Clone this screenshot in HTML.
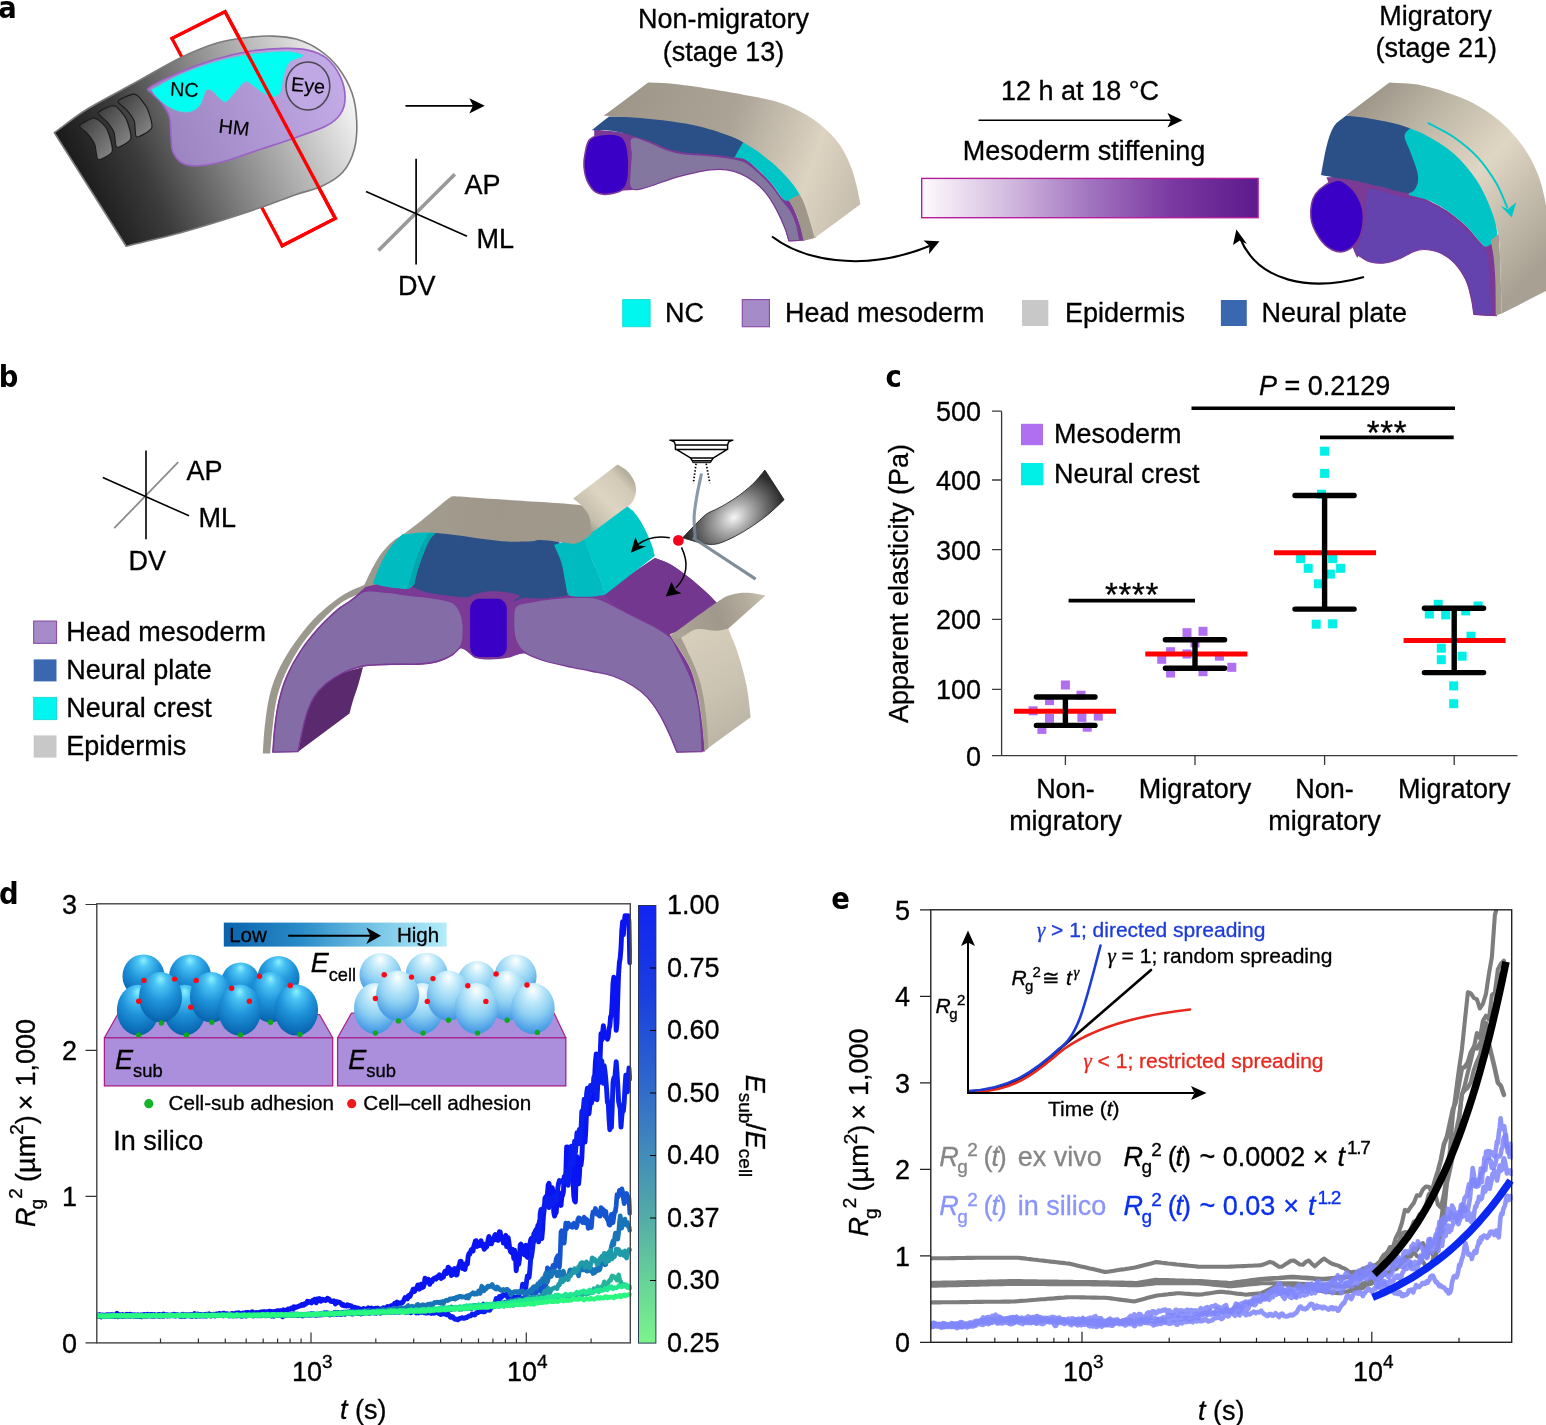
<!DOCTYPE html>
<html lang="en"><head><meta charset="utf-8"><title>Figure</title>
<style>
html,body{margin:0;padding:0;background:#fff;}
svg{display:block;}
text{font-family:"Liberation Sans",sans-serif;stroke:#000;stroke-width:0.32px;}
.pl{stroke:none;}
.t{font-size:27px;}
.s{font-size:21px;}
.pl{font-size:30.5px;font-weight:bold;font-family:"DejaVu Sans Condensed","DejaVu Sans","Liberation Sans",sans-serif;}
.i{font-style:italic;}
</style></head><body>
<svg width="1546" height="1425" viewBox="0 0 1546 1425">
<rect width="1546" height="1425" fill="#fff"/>
<!-- ===== panel a ===== -->
<g id="panel-a">
<text x="-1.8" y="18.2" class="pl">a</text>
<defs>
<linearGradient id="embG" gradientUnits="userSpaceOnUse" x1="85" y1="215" x2="350" y2="95">
<stop offset="0" stop-color="#161616"/><stop offset="0.25" stop-color="#3c3c3c"/><stop offset="0.55" stop-color="#8a8a8a"/><stop offset="0.8" stop-color="#c4c4c4"/><stop offset="1" stop-color="#f4f4f4"/></linearGradient>
<linearGradient id="hmG" gradientUnits="userSpaceOnUse" x1="170" y1="150" x2="345" y2="80">
<stop offset="0" stop-color="#9c84c0"/><stop offset="1" stop-color="#c4ace8"/></linearGradient>
<linearGradient id="somG" x1="0" y1="0" x2="1" y2="1">
<stop offset="0" stop-color="#3a3a3a"/><stop offset="1" stop-color="#8a8a8a"/></linearGradient>
<linearGradient id="stiffG" x1="0" y1="0" x2="1" y2="0">
<stop offset="0" stop-color="#fffafd"/><stop offset="0.25" stop-color="#d4bce0"/><stop offset="0.5" stop-color="#a274c0"/><stop offset="0.75" stop-color="#7a38a0"/><stop offset="1" stop-color="#5c1a8c"/></linearGradient>
<linearGradient id="epiA1" gradientUnits="userSpaceOnUse" x1="610" y1="100" x2="860" y2="190">
<stop offset="0" stop-color="#9c9588"/><stop offset="0.45" stop-color="#aaa396"/><stop offset="0.8" stop-color="#ddd3c1"/><stop offset="1" stop-color="#c6beae"/></linearGradient>
<linearGradient id="epiA2" gradientUnits="userSpaceOnUse" x1="1370" y1="90" x2="1546" y2="260">
<stop offset="0" stop-color="#9c9588"/><stop offset="0.3" stop-color="#c4bcab"/><stop offset="0.55" stop-color="#e0d6c4"/><stop offset="0.8" stop-color="#c0b8a8"/><stop offset="1" stop-color="#a8a092"/></linearGradient>
</defs>
<path d="M172 38.4L225.1 11.6L335.3 218.4L282.2 245.7Z" fill="none" stroke="#ff0000" stroke-width="3.3" stroke-linejoin="miter"/>
<path d="M54.4 132.7C65.2 125.0 73.5 117.6 86.6 109.5C99.7 101.3 117.6 92.4 133.2 83.8C148.7 75.3 165.8 65.0 179.7 58.2C193.7 51.4 205.3 46.6 217.0 43.1C228.6 39.6 240.3 38.4 249.6 37.3C258.9 36.1 265.1 35.8 272.9 36.1C280.6 36.4 288.4 36.8 296.2 39.1C303.9 41.5 312.5 45.3 319.5 50.1C326.4 54.8 332.7 60.4 338.1 67.5C343.5 74.7 349.0 84.2 352.1 93.2C355.2 102.1 356.3 111.8 356.7 121.1C357.1 130.4 356.7 140.5 354.4 149.0C352.1 157.6 348.2 166.1 342.7 172.3C337.3 178.5 329.6 182.6 321.8 186.3C314.0 190.0 306.3 191.0 296.2 194.5C286.1 198.0 272.9 203.2 261.2 207.3C249.6 211.3 239.9 214.6 226.3 218.9C212.7 223.2 196.4 228.3 179.7 232.9C163.0 237.4 144.0 241.7 126.2 246.2C102.3 208.4 78.3 170.5 54.4 132.7Z" fill="url(#embG)" stroke="#7a7a7a" stroke-width="1.6" stroke-linejoin="round"/>
<path d="M79.6 125.8C80.1 123.9 90.2 119.0 92.4 118.3C94.6 117.6 96.5 118.5 98.2 119.9C100.0 121.3 105.9 126.7 107.5 130.4C109.2 134.1 113.3 148.0 112.2 151.4C111.1 154.8 100.3 160.3 98.2 159.5C96.2 158.7 96.0 147.4 94.7 144.4C93.5 141.4 89.5 136.1 87.7 133.9C86.0 131.7 79.0 127.6 79.6 125.8Z" fill="url(#somG)" stroke="#1c1c1c" stroke-width="1.2" stroke-linejoin="round"/>
<path d="M98.2 112.9C98.6 111.0 108.9 106.6 111.0 106.0C113.2 105.3 115.1 105.6 116.9 107.1C118.6 108.6 124.5 115.1 126.2 118.8C127.8 122.4 131.9 135.3 130.8 138.6C129.7 141.9 118.8 147.9 116.9 147.2C114.9 146.5 115.1 135.7 114.1 132.7C113.0 129.8 109.4 124.6 107.5 122.3C105.7 120.0 97.8 114.9 98.2 112.9Z" fill="url(#somG)" stroke="#1c1c1c" stroke-width="1.2" stroke-linejoin="round"/>
<path d="M118.0 101.3C118.6 99.4 129.7 94.9 132.0 94.3C134.3 93.7 136.0 94.3 137.8 95.9C139.6 97.6 145.5 104.6 147.1 108.3C148.8 112.0 153.0 124.3 151.8 127.6C150.6 131.0 138.7 137.7 136.6 136.9C134.6 136.2 135.4 124.2 134.3 121.1C133.2 118.0 129.2 112.9 127.3 110.6C125.4 108.3 117.5 103.2 118.0 101.3Z" fill="url(#somG)" stroke="#1c1c1c" stroke-width="1.2" stroke-linejoin="round"/>
<path d="M149.5 87.3C154.1 83.8 168.9 76.9 179.7 72.2C190.6 67.5 203.0 62.9 214.7 59.4C226.3 55.9 238.0 53.1 249.6 51.2C261.2 49.4 274.8 48.6 284.5 48.4C294.2 48.2 300.8 48.4 307.8 50.1C314.8 51.7 321.0 53.8 326.4 58.2C331.9 62.7 337.3 70.3 340.4 76.9C343.5 83.4 345.1 91.6 345.1 97.8C345.1 104.0 343.5 109.5 340.4 114.1C337.3 118.8 333.8 121.9 326.4 125.8C319.1 129.6 307.0 133.5 296.2 137.4C285.3 141.3 272.9 145.2 261.2 149.0C249.6 152.9 236.8 157.9 226.3 160.7C215.8 163.5 205.7 165.4 198.4 165.8C191.0 166.2 186.3 165.4 182.1 163.0C177.8 160.6 174.6 156.0 172.7 151.4C170.9 146.7 171.5 140.9 170.9 135.1C170.3 129.3 170.9 121.9 169.3 116.4C167.6 111.0 164.0 106.3 161.1 102.5C158.2 98.6 153.7 95.7 151.8 93.2C149.8 90.6 144.8 90.8 149.5 87.3Z" fill="url(#hmG)" stroke="#9a62c4" stroke-width="1.6"/>
<path d="M151.8 89.7C161.1 84.8 169.3 79.6 179.7 75.0C190.2 70.4 203.0 65.6 214.7 62.2C226.3 58.8 238.0 56.2 249.6 54.5C261.2 52.7 276.2 51.8 284.5 51.7C292.9 51.6 296.8 53.2 299.7 54.0C302.6 54.8 303.7 55.2 302.0 56.6C300.2 58.0 292.3 59.0 289.2 62.4C286.1 65.8 284.8 71.9 283.4 76.9C281.9 81.8 281.9 88.7 280.3 92.0C278.8 95.2 276.8 96.2 274.0 96.4C271.3 96.6 266.9 94.9 263.6 93.2C260.3 91.4 257.2 88.1 254.3 86.2C251.3 84.2 248.8 81.1 246.1 81.5C243.4 81.9 241.2 85.2 238.0 88.5C234.7 91.8 229.4 99.8 226.3 101.3C223.2 102.9 221.6 99.6 219.3 97.8C217.0 96.1 214.5 92.2 212.3 90.8C210.2 89.5 208.1 88.5 206.5 89.7C205.0 90.8 204.4 94.9 203.0 97.8C201.7 100.7 200.7 104.8 198.4 107.1C196.0 109.5 192.5 111.2 189.0 111.8C185.6 112.4 181.3 111.8 177.4 110.6C173.5 109.5 169.3 107.1 165.8 104.8C162.3 102.5 158.8 99.2 156.4 96.6C154.1 94.1 153.3 92.0 151.8 89.7Z" fill="#00fff2" stroke="#38e4dc" stroke-width="0.8"/>
<ellipse cx="307.9" cy="86" rx="21.9" ry="24" fill="#bfa8e4" stroke="#4d4852" stroke-width="1.6"/>
<g font-size="19.8" style="stroke-width:0.15px"><text style="stroke-width:0.15px" transform="translate(169.8,95.4) rotate(3.5)">NC</text><text style="stroke-width:0.15px" transform="translate(218,132.4) rotate(6.5)">HM</text><text style="stroke-width:0.15px" transform="translate(290.6,90.8) rotate(5)">Eye</text></g>
<path d="M172 38.4L225.1 11.6L335.3 218.4L282.2 245.7" fill="none" stroke="#ff0000" stroke-width="3.3" stroke-linejoin="miter" stroke-linecap="square"/>
<path d="M405.5 105.8H475" stroke="#000" stroke-width="1.7"/><path d="M484.8 105.8L469.3 98.2L473 105.8L469.3 113.4Z"/>
<path d="M378.5 250.5L454.8 174.2" stroke="#999" stroke-width="3.7"/>
<path d="M416.1 158.7V264.5M366 191.5L467 236.3" stroke="#000" stroke-width="1.7"/>
<g class="t"><text x="464.5" y="194">AP</text><text x="476.5" y="248">ML</text><text x="398" y="295">DV</text></g>
<g class="t" text-anchor="middle"><text x="723.5" y="28">Non-migratory</text><text x="723.5" y="60.5">(stage 13)</text><text x="1435.6" y="24.8">Migratory</text><text x="1436.2" y="57.2">(stage 21)</text><text x="1080" y="100">12 h at 18 °C</text><text x="1084" y="160">Mesoderm stiffening</text></g>
<path d="M978.5 120.3H1172" stroke="#000" stroke-width="1.6"/><path d="M1182.5 120.3L1167.5 113.1L1171 120.3L1167.5 127.5Z"/>
<rect x="921.7" y="178.4" width="336.4" height="39.3" fill="url(#stiffG)" stroke="#b41e9c" stroke-width="1.4"/>
<rect x="622.7" y="299.6" width="27.4" height="27.1" fill="#00f6ee" stroke="#1cdcd8" stroke-width="1"/>
<rect x="742.3" y="299.6" width="27.1" height="27.1" fill="#a58cc8" stroke="#8c50aa" stroke-width="1.2"/>
<rect x="1022" y="300" width="26.3" height="26" fill="#c8c8c8"/>
<rect x="1220.9" y="300" width="25.9" height="26" fill="#3a68b0"/>
<g class="t"><text x="665" y="321.5">NC</text><text x="785" y="321.5">Head mesoderm</text><text x="1065" y="321.5">Epidermis</text><text x="1261.4" y="321.5">Neural plate</text></g>
<path d="M772 236.5C800 258 860 275 932 245" stroke="#000" stroke-width="2.1" fill="none"/>
<path d="M939.5 241.3L923.5 240.5L929.5 245.8L929 254Z"/>
<path d="M1364 277C1310 292 1258 282 1240 238" stroke="#000" stroke-width="2.1" fill="none"/>
<path d="M1236.4 229.5L1233 245L1239.8 240.5L1247 244Z"/>
<path d="M594.1 129.4C607.4 130.8 624.8 132.1 634.2 133.8C643.5 135.4 644.9 137.1 650.2 139.2C655.6 141.3 660.9 144.4 666.3 146.2C671.6 148.0 676.6 149.3 682.3 150.2C688.0 151.1 694.3 151.3 700.3 151.8C706.4 152.3 713.0 152.6 718.4 153.2C723.7 153.8 728.1 154.4 732.4 155.2C736.8 156.1 740.4 156.1 744.5 158.2C748.5 160.4 752.1 164.2 756.5 168.3C760.8 172.3 766.2 177.3 770.5 182.3C774.9 187.3 779.5 195.3 782.6 198.3C785.6 201.3 786.6 198.3 788.6 200.3C790.6 202.3 792.6 206.0 794.6 210.4C796.6 214.7 798.9 221.3 800.6 226.4C802.3 231.5 803.3 236.0 804.6 240.8C799.3 241.0 793.9 241.1 788.6 241.2C787.2 237.0 786.6 233.6 784.6 228.4C782.6 223.3 779.5 216.0 776.5 210.4C773.5 204.7 770.2 199.0 766.5 194.3C762.8 189.6 758.8 185.8 754.5 182.3C750.1 178.8 745.1 175.4 740.4 173.3C735.8 171.1 731.4 169.9 726.4 169.3C721.4 168.6 715.7 168.8 710.4 169.3C705.0 169.8 700.3 170.9 694.3 172.3C688.3 173.6 681.0 175.3 674.3 177.3C667.6 179.3 659.9 182.4 654.2 184.3C648.5 186.2 643.9 187.8 640.2 188.7C636.5 189.6 634.8 189.5 632.2 189.9C624.8 190.0 616.1 191.6 610.1 190.3C604.1 189.0 598.7 192.5 596.1 182.3C593.4 172.1 594.7 147.0 594.1 129.4Z" fill="#7b3a96"/>
<path d="M630.2 140.2C631.0 137.4 632.8 137.2 636.2 137.6C639.5 138.0 645.2 140.6 650.2 142.6C655.2 144.6 660.9 147.8 666.3 149.6C671.6 151.4 676.6 152.7 682.3 153.6C688.0 154.5 694.3 154.5 700.3 155.0C706.4 155.5 713.0 156.0 718.4 156.6C723.7 157.2 728.1 157.8 732.4 158.6C736.8 159.5 740.4 159.8 744.5 161.8C748.5 163.8 752.1 166.9 756.5 170.7C760.8 174.5 766.2 179.7 770.5 184.7C774.9 189.7 779.2 196.4 782.6 200.7C785.9 205.1 788.2 206.8 790.6 210.8C792.9 214.8 795.1 219.9 796.6 224.8C798.1 229.7 798.6 235.2 799.6 240.4C796.1 240.6 792.5 240.7 789.0 240.8C787.6 236.7 787.0 233.5 785.0 228.4C783.0 223.3 779.9 216.0 776.9 210.4C773.9 204.7 770.6 199.0 766.9 194.3C763.2 189.6 759.2 185.7 754.9 182.3C750.5 178.9 745.5 175.9 740.8 173.9C736.2 171.8 731.9 170.5 726.8 169.9C721.7 169.2 715.8 169.4 710.4 169.9C705.0 170.4 700.3 171.5 694.3 172.9C688.3 174.2 681.0 175.9 674.3 177.9C667.6 179.9 659.9 183.0 654.2 184.9C648.5 186.8 643.8 188.4 640.2 189.1C636.6 189.8 634.3 190.1 632.6 189.3C630.8 188.5 630.0 187.5 629.6 184.3C629.2 181.1 629.9 175.3 630.2 170.3C630.4 165.2 631.2 159.2 631.2 154.2C631.2 149.2 629.3 143.0 630.2 140.2Z" fill="#84779f" stroke="#7b3a96" stroke-width="1.2"/>
<path d="M585.0 154.2C586.0 149.7 586.5 142.5 590.1 139.2C593.6 135.8 600.7 134.5 606.1 134.2C611.4 133.8 618.5 134.5 622.1 137.2C625.7 139.8 626.7 144.0 627.8 150.2C628.8 156.4 629.2 167.9 628.6 174.3C628.0 180.6 627.2 185.0 624.1 188.3C621.1 191.6 614.8 193.3 610.1 193.9C605.4 194.6 599.9 194.6 596.1 192.3C592.2 190.0 589.0 184.6 587.0 180.3C585.0 175.9 584.4 170.6 584.0 166.3C583.7 161.9 584.0 158.7 585.0 154.2Z" fill="#3a00c6" stroke="#7b3a96" stroke-width="1.6"/>
<path d="M743.5 140.2C746.5 142.2 747.6 142.6 752.5 146.2C757.4 149.8 766.5 156.2 772.9 161.8C779.3 167.5 786.3 174.5 791.0 179.9C795.7 185.2 797.7 189.2 801.0 193.9C799.7 195.5 799.2 197.6 797.0 198.7C794.8 199.9 790.0 200.8 787.6 200.7C785.2 200.7 785.4 201.4 782.6 198.3C779.7 195.3 774.9 187.3 770.5 182.3C766.2 177.3 760.8 172.1 756.5 168.3C752.1 164.4 748.5 161.1 744.5 159.2C740.4 157.4 736.4 157.9 732.4 157.2C733.8 154.9 734.6 153.0 736.4 150.2C738.3 147.4 741.1 143.5 743.5 140.2Z" fill="#00c4c6"/>
<path d="M591.7 130.2C597.5 125.6 603.3 121.1 609.1 116.5C619.5 116.7 630.0 116.5 640.2 117.1C650.4 117.7 660.2 118.7 670.3 120.1C680.3 121.6 690.3 123.2 700.3 125.7C710.4 128.3 723.1 132.8 730.4 135.2C737.8 137.6 739.8 138.5 744.5 140.2C742.4 143.5 740.1 147.3 738.4 150.2C736.8 153.1 735.8 155.2 734.4 157.6C729.1 156.8 724.1 155.9 718.4 155.2C712.7 154.6 706.4 154.3 700.3 153.8C694.3 153.3 688.0 153.1 682.3 152.2C676.6 151.3 671.6 150.0 666.3 148.2C660.9 146.4 655.6 143.2 650.2 141.2C644.9 139.2 639.2 137.7 634.2 136.2C629.2 134.7 624.8 133.2 620.1 132.2C615.5 131.2 610.8 130.5 606.1 130.2C601.3 129.8 596.5 130.2 591.7 130.2Z" fill="#2b5087"/>
<path d="M788.6 199.9C793.6 197.4 798.6 194.9 803.6 192.3C805.6 198.0 807.9 203.8 809.6 209.4C811.4 214.9 813.1 220.7 814.2 225.4C815.3 230.1 815.6 233.6 816.2 237.6C812.0 238.7 807.8 239.8 803.6 240.8C802.3 235.4 801.1 229.5 799.6 224.4C798.1 219.3 796.4 214.4 794.6 210.4C792.7 206.3 790.6 203.4 788.6 199.9Z" fill="#9e978a"/>
<path d="M603.7 115.7C618.5 104.6 633.4 93.5 648.2 82.4C655.6 82.8 659.9 82.5 670.3 83.6C680.6 84.7 697.0 87.0 710.4 89.0C723.7 91.1 738.8 93.7 750.5 96.1C762.2 98.4 771.2 99.9 780.5 103.1C789.9 106.3 798.9 110.6 806.6 115.1C814.3 119.6 821.0 125.0 826.7 130.2C832.3 135.3 836.7 140.2 840.7 146.2C844.7 152.2 848.1 159.6 850.7 166.3C853.4 172.9 855.1 180.0 856.7 186.3C858.3 192.7 859.2 198.3 860.4 204.3C845.1 215.6 829.9 226.8 814.6 238.0C812.8 231.5 811.1 224.9 809.0 218.4C806.9 211.9 805.3 205.4 802.2 199.1C799.1 192.9 795.2 187.0 790.2 180.9C785.1 174.8 778.3 168.2 771.9 162.6C765.5 157.1 758.5 151.9 751.7 147.6C744.9 143.3 739.7 140.0 731.2 136.6C722.7 133.1 710.9 129.3 700.7 126.7C690.6 124.2 680.6 122.8 670.5 121.3C660.4 119.9 649.6 118.9 640.2 118.1C630.8 117.3 620.2 116.9 614.1 116.5C608.0 116.1 607.2 116.0 603.7 115.7Z" fill="url(#epiA1)"/>
<path d="M1326.5 177.3C1335.6 177.4 1344.7 176.5 1353.9 177.7C1363.0 178.8 1372.4 182.1 1381.2 184.0C1390.1 186.0 1401.3 188.1 1406.8 189.5C1412.3 190.9 1410.4 190.4 1414.1 192.3C1417.7 194.1 1423.2 197.4 1428.7 200.5C1434.1 203.5 1440.8 206.4 1446.9 210.5C1453.0 214.6 1459.7 219.9 1465.2 225.1C1470.6 230.3 1476.3 238.0 1479.8 241.5C1483.3 245.0 1483.0 247.3 1486.1 246.1C1489.3 244.9 1494.7 238.2 1498.9 234.2C1498.3 249.4 1497.4 266.1 1497.1 279.8C1496.8 293.5 1497.1 304.2 1497.1 316.3C1489.2 315.8 1481.3 315.4 1473.4 314.9C1472.5 309.3 1472.0 303.9 1470.6 298.1C1469.3 292.2 1467.9 285.6 1465.2 279.8C1462.4 274.1 1458.5 268.0 1454.2 263.4C1450.0 258.9 1444.5 254.9 1439.6 252.5C1434.8 250.0 1429.3 249.1 1425.0 248.8C1420.8 248.5 1418.3 249.1 1414.1 250.6C1409.8 252.2 1404.3 256.0 1399.5 257.9C1394.6 259.9 1389.7 261.9 1384.9 262.5C1380.0 263.1 1374.5 262.7 1370.3 261.6C1366.0 260.5 1362.1 257.9 1359.3 256.1C1356.6 254.3 1359.3 263.8 1353.9 250.6C1348.4 237.5 1335.6 201.7 1326.5 177.3Z" fill="#7b3a96"/>
<path d="M1368.5 188.6C1371.0 187.7 1376.1 189.2 1381.2 190.4C1386.4 191.6 1393.4 194.5 1399.5 195.9C1405.6 197.3 1412.3 197.3 1417.7 198.6C1423.2 200.0 1426.8 201.2 1432.3 204.1C1437.8 207.0 1445.1 211.9 1450.6 216.0C1456.0 220.1 1460.3 224.2 1465.2 228.7C1470.0 233.3 1476.3 240.0 1479.8 243.3C1483.3 246.7 1484.6 245.8 1486.1 248.8C1487.7 251.9 1488.1 254.9 1488.9 261.6C1489.6 268.3 1490.2 280.0 1490.7 289.0C1491.3 297.9 1491.7 306.6 1492.2 315.4C1486.2 315.0 1480.3 314.6 1474.3 314.1C1473.4 308.8 1472.9 303.8 1471.6 298.1C1470.2 292.4 1468.8 285.6 1466.1 279.8C1463.3 274.1 1459.4 267.9 1455.1 263.4C1450.9 258.9 1445.6 255.3 1440.5 253.0C1435.5 250.7 1429.4 249.8 1425.0 249.5C1420.6 249.3 1418.3 249.8 1414.1 251.4C1409.8 252.9 1404.3 256.7 1399.5 258.7C1394.6 260.6 1389.7 262.5 1384.9 263.0C1380.0 263.6 1374.4 263.0 1370.3 262.0C1366.2 260.9 1362.8 258.4 1360.2 256.5C1357.7 254.6 1355.1 253.1 1354.8 250.6C1354.5 248.1 1357.0 245.5 1358.4 241.5C1359.9 237.6 1362.2 232.4 1363.4 226.9C1364.5 221.4 1364.7 213.8 1365.2 208.7C1365.6 203.5 1365.4 199.2 1365.9 195.9C1366.5 192.6 1365.9 189.5 1368.5 188.6Z" fill="#6443ae" stroke="#7b3a96" stroke-width="1.2"/>
<path d="M1335.6 180.4C1341.4 179.2 1346.1 183.3 1350.2 186.8C1354.3 190.3 1358.1 196.2 1360.2 201.4C1362.4 206.5 1363.5 211.7 1363.4 217.8C1363.2 223.9 1362.1 232.4 1359.3 237.9C1356.5 243.3 1351.1 248.7 1346.6 250.6C1342.0 252.6 1336.5 251.9 1332.0 249.7C1327.4 247.6 1322.7 243.2 1319.2 237.9C1315.7 232.5 1311.6 225.1 1311.0 217.8C1310.4 210.5 1311.4 200.3 1315.5 194.1C1319.7 187.8 1329.8 181.6 1335.6 180.4Z" fill="#3a00c6" stroke="#7b3a96" stroke-width="1.6"/>
<path d="M1400.4 135.7C1401.0 131.5 1407.1 129.8 1410.4 126.9C1416.5 129.1 1421.0 129.3 1428.7 133.5C1436.3 137.7 1448.0 144.6 1456.4 152.1C1464.8 159.6 1472.8 169.4 1478.9 178.6C1484.9 187.8 1489.7 197.2 1492.9 207.2C1496.1 217.2 1496.3 228.3 1498.0 238.8C1494.2 241.4 1489.7 246.2 1486.7 246.6C1483.7 247.1 1483.4 245.1 1479.8 241.5C1476.2 237.9 1470.6 230.3 1465.2 225.1C1459.7 219.9 1453.0 214.6 1446.9 210.5C1440.8 206.4 1435.1 203.0 1428.7 200.5C1422.3 197.9 1415.3 196.8 1408.6 195.0C1410.4 188.0 1414.4 181.2 1414.1 174.0C1413.8 166.9 1409.1 158.5 1406.8 152.1C1404.5 145.7 1399.8 139.9 1400.4 135.7Z" fill="#00c4c6"/>
<path d="M1321.0 174.9C1322.8 165.5 1324.4 154.7 1326.5 146.6C1328.6 138.6 1330.5 131.7 1333.8 126.6C1337.1 121.4 1342.1 119.3 1346.2 115.6C1354.8 116.1 1363.2 115.8 1372.1 117.1C1381.0 118.4 1392.9 121.6 1399.5 123.3C1406.0 124.9 1407.4 125.7 1411.3 126.9C1409.1 129.8 1404.7 131.5 1404.6 135.7C1404.4 139.9 1408.2 145.7 1410.4 152.1C1412.6 158.5 1416.8 168.2 1417.7 174.0C1418.7 179.8 1417.9 183.6 1416.3 186.8C1414.6 189.9 1413.5 193.0 1407.7 193.0C1401.9 193.0 1390.2 188.9 1381.2 186.8C1372.3 184.7 1361.5 181.9 1353.9 180.4C1346.3 178.9 1341.1 178.6 1335.6 177.7C1330.1 176.7 1325.9 175.8 1321.0 174.9Z" fill="#2b5087"/>
<path d="M1490.7 240.6C1493.1 238.5 1495.6 236.3 1498.0 234.2C1498.6 240.3 1499.4 244.9 1499.8 252.5C1500.3 260.1 1500.4 269.6 1500.7 279.8C1501.1 290.0 1501.4 302.3 1501.7 313.6C1499.7 314.2 1497.8 314.8 1495.8 315.4C1495.6 303.6 1495.7 289.7 1495.3 279.8C1494.9 270.0 1494.2 262.7 1493.4 256.1C1492.7 249.6 1491.6 245.8 1490.7 240.6Z" fill="#a59d8f"/>
<path d="M1345.7 115.6C1360.2 104.5 1374.8 93.5 1389.4 82.4C1398.9 83.1 1408.5 83.0 1417.7 84.6C1427.0 86.2 1436.0 88.9 1445.1 91.9C1454.2 94.9 1463.3 98.0 1472.5 102.8C1481.6 107.7 1491.6 114.1 1499.8 121.1C1508.0 128.1 1515.6 136.6 1521.7 144.8C1527.8 153.0 1532.5 161.5 1536.3 170.4C1540.1 179.2 1542.4 187.1 1544.5 197.7C1546.7 208.4 1548.2 219.0 1549.1 234.2C1550.0 249.4 1549.7 270.7 1550.0 289.0C1533.9 297.2 1517.8 305.4 1501.7 313.6C1501.4 302.3 1501.1 290.0 1500.7 279.8C1500.4 269.6 1500.3 260.1 1499.8 252.5C1499.4 244.9 1499.5 241.5 1498.0 234.2C1496.5 226.9 1494.4 217.8 1490.7 208.7C1487.1 199.6 1482.2 188.6 1476.1 179.5C1470.0 170.4 1462.4 161.2 1454.2 153.9C1446.0 146.6 1436.0 140.6 1426.8 135.7C1417.7 130.8 1408.6 127.5 1399.5 124.7C1390.4 121.9 1381.1 120.4 1372.1 118.9C1363.1 117.4 1354.5 116.7 1345.7 115.6Z" fill="url(#epiA2)"/>
<path d="M1427.8 122.9C1436.6 127.8 1445.9 131.7 1454.2 137.5C1462.6 143.3 1470.9 150.0 1477.9 157.6C1484.9 165.2 1491.3 174.8 1496.2 183.1C1501.1 191.5 1503.7 199.6 1507.5 207.8" fill="none" stroke="#00c8c8" stroke-width="1.9"/>
<path d="M1511.7 217.4L1500.7 205.9L1508.0 209.0L1516.3 202.3Z" fill="#00c8c8"/>
</g>

<!-- ===== panel b ===== -->
<g id="panel-b">
<text x="-1.2" y="386.8" class="pl">b</text>
<defs>
<linearGradient id="epiB1" gradientUnits="userSpaceOnUse" x1="400" y1="500" x2="600" y2="520">
<stop offset="0" stop-color="#a39d90"/><stop offset="0.5" stop-color="#9e978a"/><stop offset="1" stop-color="#a09a8c"/></linearGradient>
<linearGradient id="flapB" gradientUnits="userSpaceOnUse" x1="589" y1="529" x2="636" y2="484">
<stop offset="0" stop-color="#a49c8e"/><stop offset="0.14" stop-color="#c6beac"/><stop offset="0.5" stop-color="#ddd4c2"/><stop offset="0.85" stop-color="#d2c9b7"/><stop offset="1" stop-color="#b8b09e"/></linearGradient>
<linearGradient id="epiB2" gradientUnits="userSpaceOnUse" x1="690" y1="640" x2="750" y2="740">
<stop offset="0" stop-color="#d6cdbb"/><stop offset="0.5" stop-color="#cbc3b2"/><stop offset="1" stop-color="#b8b0a0"/></linearGradient>
<linearGradient id="flapB2" gradientUnits="userSpaceOnUse" x1="680" y1="632" x2="762" y2="598">
<stop offset="0" stop-color="#aaa396"/><stop offset="0.45" stop-color="#9f988b"/><stop offset="0.8" stop-color="#b2aa9a"/><stop offset="1" stop-color="#c4bcab"/></linearGradient>
<radialGradient id="cantG" gradientUnits="userSpaceOnUse" cx="0" cy="0" r="52" gradientTransform="translate(734 517.5) rotate(-36) scale(1 0.75)">
<stop offset="0" stop-color="#f6f6f6"/><stop offset="0.3" stop-color="#b4b4b4"/><stop offset="0.65" stop-color="#6e6e6e"/><stop offset="1" stop-color="#2c2c2c"/></radialGradient>
</defs>
<path d="M114.2 528.2L178.2 462.1" stroke="#8c8c8c" stroke-width="1.8"/>
<path d="M146 450.4V539.3M102.8 477.5L189 515.8" stroke="#000" stroke-width="1.6"/>
<g class="t"><text x="186.5" y="480">AP</text><text x="198.5" y="526.5">ML</text><text x="128.5" y="569.5">DV</text></g>
<rect x="33.7" y="621.1" width="22.8" height="22.2" fill="#a58cc8" stroke="#8c50aa" stroke-width="1.2"/>
<rect x="33.7" y="659.4" width="22.8" height="22" fill="#3a68b0"/>
<rect x="33.7" y="697.4" width="22.8" height="22.2" fill="#00f6ee" stroke="#1cdcd8" stroke-width="1"/>
<rect x="33.7" y="735.4" width="22.8" height="22.2" fill="#c8c8c8"/>
<g class="t"><text x="66.3" y="640.5">Head mesoderm</text><text x="66.3" y="678.5">Neural plate</text><text x="66.3" y="717">Neural crest</text><text x="66.3" y="755">Epidermis</text></g>
<path d="M262.8 753.6C263.4 744.7 263.6 736.8 264.7 727.0C265.9 717.3 267.2 704.9 269.7 695.1C272.1 685.3 275.4 676.7 279.5 668.1C283.6 659.5 288.5 651.7 294.2 643.5C299.9 635.3 307.3 625.9 313.9 619.0C320.4 612.0 327.8 606.3 333.5 601.8C339.2 597.3 343.1 594.7 348.3 591.9C353.4 589.2 358.9 587.4 364.2 585.1C366.3 580.8 367.7 577.3 370.4 572.3C373.0 567.3 376.5 560.2 380.2 555.1C383.9 550.0 388.6 545.1 392.5 541.6C396.4 538.1 399.8 536.7 403.5 534.2C409.7 534.6 415.8 535.0 421.9 535.5C413.8 539.5 403.7 542.4 397.4 547.7C391.0 553.1 388.0 560.4 383.9 567.4C379.8 574.3 376.5 582.1 372.8 589.5C365.5 592.1 357.1 594.3 350.7 597.4C344.4 600.4 340.5 603.1 334.7 607.9C329.0 612.7 322.3 619.6 316.3 626.3C310.4 633.1 304.2 640.7 299.1 648.4C294.0 656.2 289.3 664.8 285.6 673.0C281.9 681.2 279.2 688.6 277.0 697.6C274.9 706.6 273.7 717.7 272.6 727.0C271.5 736.4 271.0 744.7 270.1 753.6C267.7 753.6 265.2 753.6 262.8 753.6Z" fill="#9b988d"/>
<path d="M365.5 587.0C372.8 585.4 378.1 583.4 387.6 582.1C397.0 580.9 408.0 579.7 421.9 579.7C435.9 579.7 454.7 581.3 471.1 582.1C487.5 582.9 508.5 583.8 520.2 584.6C531.9 585.4 531.7 586.6 541.4 587.0C551.1 587.4 568.0 586.2 578.3 587.0C588.5 587.9 594.6 590.3 602.8 591.9C620.2 580.6 637.5 569.3 654.9 558.0C660.5 560.3 665.9 561.7 671.6 564.9C677.2 568.1 683.1 572.7 688.8 577.2C694.5 581.7 701.3 587.6 706.0 591.9C710.7 596.2 713.4 599.3 717.0 603.0C703.5 614.1 690.0 625.1 676.5 636.2C681.3 646.0 687.1 656.6 690.8 665.6C694.4 674.6 696.6 681.2 698.6 690.2C700.7 699.2 702.0 709.4 703.0 719.7C704.1 729.9 704.4 741.0 705.0 751.6C695.5 751.9 686.0 752.3 676.5 752.6C674.1 746.5 672.0 740.7 669.1 734.4C666.3 728.1 663.0 720.9 659.3 714.8C655.6 708.6 651.5 702.5 647.0 697.6C642.5 692.7 638.0 689.0 632.3 685.3C626.6 681.6 619.6 677.9 612.6 675.5C605.7 673.0 598.3 672.2 590.5 670.6C582.8 668.9 574.2 667.5 566.0 665.6C557.8 663.8 548.4 661.5 541.4 659.5C534.5 657.5 529.8 653.6 524.2 653.4C518.6 653.1 513.5 656.8 507.9 657.8C502.3 658.8 496.0 659.5 490.7 659.5C485.4 659.5 480.9 659.6 476.0 657.8C471.1 655.9 465.3 648.7 461.3 648.4C457.2 648.2 455.5 654.0 451.4 656.3C447.3 658.6 442.4 661.0 436.7 662.4C431.0 663.9 423.6 664.5 417.0 664.9C410.5 665.3 403.9 664.8 397.4 664.9C390.8 665.0 383.9 665.2 377.7 665.6C371.6 666.0 366.3 666.0 360.5 667.4C354.8 668.7 349.1 670.6 343.3 673.5C337.6 676.4 331.1 680.5 326.1 684.6C321.2 688.6 317.1 693.0 313.9 698.1C310.6 703.1 308.5 708.7 306.5 714.8C304.5 720.8 302.9 728.2 301.6 734.4C300.2 740.6 299.5 746.2 298.4 752.1C289.6 752.3 280.9 752.4 272.1 752.6C272.8 744.1 273.0 735.8 274.1 727.0C275.1 718.3 276.4 708.6 278.5 700.0C280.5 691.4 282.8 683.7 286.4 675.5C289.9 667.3 294.7 658.7 299.9 650.9C305.0 643.1 311.1 635.5 317.1 628.8C323.0 622.0 329.8 615.3 335.5 610.4C341.2 605.5 346.5 603.2 351.4 599.3C356.4 595.4 360.8 591.1 365.5 587.0Z" fill="#7b3a96"/>
<path d="M298.4 751.6C299.5 745.9 300.2 740.6 301.6 734.4C302.9 728.3 304.5 720.9 306.5 714.8C308.5 708.6 310.6 702.7 313.9 697.6C317.1 692.5 321.2 688.2 326.1 684.1C331.1 680.0 337.2 675.9 343.3 673.0C349.5 670.1 356.4 668.9 363.0 666.9C361.4 673.0 359.7 679.8 358.1 685.3C356.4 690.8 354.6 695.3 353.2 700.0C351.7 704.7 350.7 709.0 349.5 713.5C332.5 726.2 315.4 738.9 298.4 751.6Z" fill="#5b2a6e"/>
<path d="M365.5 591.2C371.3 590.0 380.2 591.7 387.6 592.4C394.9 593.1 401.5 594.4 409.7 595.4C417.9 596.4 429.3 597.2 436.7 598.6C444.1 599.9 449.7 600.5 453.9 603.5C458.1 606.5 460.2 611.5 461.7 616.5C463.3 621.5 463.4 628.8 463.2 633.7C463.1 638.6 462.7 642.4 460.8 646.0C458.8 649.6 455.4 652.7 451.4 655.3C447.4 657.9 442.4 660.0 436.7 661.5C431.0 662.9 423.6 663.5 417.0 663.9C410.5 664.3 403.9 663.8 397.4 663.9C390.8 664.0 383.9 664.2 377.7 664.7C371.6 665.1 366.3 665.1 360.5 666.4C354.8 667.7 349.1 669.7 343.3 672.5C337.6 675.4 331.1 679.5 326.1 683.6C321.2 687.7 317.1 692.0 313.9 697.1C310.6 702.2 308.5 708.1 306.5 714.3C304.5 720.4 303.0 727.7 301.6 733.9C300.2 740.2 299.1 745.7 297.9 751.6C289.6 751.8 281.4 751.9 273.1 752.1C273.7 743.8 274.0 735.7 275.1 727.0C276.1 718.4 277.4 708.6 279.5 700.0C281.5 691.4 283.8 683.7 287.3 675.5C290.9 667.3 295.7 658.7 300.8 650.9C306.0 643.1 312.1 635.5 318.0 628.8C324.0 622.1 330.7 615.7 336.5 610.9C342.2 606.0 347.6 603.1 352.4 599.8C357.3 596.5 359.6 592.4 365.5 591.2Z" fill="#846ca6" stroke="#7b3a96" stroke-width="1.3"/>
<path d="M515.6 606.7C518.2 603.1 522.8 603.6 529.1 602.3C535.5 600.9 545.5 599.4 553.7 598.6C561.9 597.8 570.9 597.4 578.3 597.4C585.6 597.4 590.8 596.5 597.9 598.6C605.0 600.6 613.8 606.2 620.8 609.6C627.8 613.1 634.3 616.6 639.9 619.5C645.6 622.3 649.5 623.8 654.6 626.8C659.8 629.9 666.9 634.0 670.6 637.6C674.3 641.2 674.5 644.2 676.8 648.4C679.0 652.7 681.8 658.3 684.1 663.2C686.5 668.1 688.8 673.0 690.8 677.9C692.7 682.8 694.6 687.7 695.9 692.7C697.3 697.6 698.1 702.5 698.9 707.4C699.6 712.3 700.1 717.2 700.6 722.1C701.0 727.0 701.3 732.0 701.6 736.9C701.8 741.8 701.9 746.7 702.1 751.6C693.7 751.8 685.4 751.9 677.0 752.1C674.5 746.2 672.5 740.6 669.6 734.4C666.8 728.2 663.5 720.9 659.8 714.8C656.1 708.6 652.0 702.4 647.5 697.6C643.0 692.7 638.6 689.4 632.8 685.8C627.0 682.2 619.7 678.4 612.6 676.0C605.6 673.5 598.3 672.7 590.5 671.0C582.8 669.4 574.2 668.0 566.0 666.1C557.8 664.3 548.4 662.3 541.4 660.0C534.5 657.7 528.4 655.3 524.2 652.1C520.0 649.0 517.9 645.8 516.1 641.1C514.3 636.4 513.7 629.6 513.7 623.9C513.6 618.1 513.0 610.3 515.6 606.7Z" fill="#846ca6" stroke="#7b3a96" stroke-width="1.3"/>
<path d="M602.8 593.9C620.2 582.0 637.5 570.0 654.9 558.0C660.5 560.3 665.9 561.7 671.6 564.9C677.2 568.1 683.1 572.7 688.8 577.2C694.5 581.7 701.3 587.6 706.0 591.9C710.7 596.2 713.4 599.3 717.0 603.0C702.1 614.4 687.1 625.8 672.1 637.1C666.3 633.4 660.0 629.0 654.6 625.8C649.3 622.7 645.6 621.3 639.9 618.5C634.3 615.6 626.9 612.7 620.8 608.7C614.6 604.6 608.8 598.8 602.8 593.9Z" fill="#74378f"/>
<rect x="469.4" y="598.1" width="38.1" height="59.7" rx="9.5" ry="10.5" fill="#3a00c6" stroke="#7b3a96" stroke-width="1.4"/>
<path d="M431.8 531.8C440.8 532.6 450.2 533.2 458.8 534.2C467.4 535.2 475.2 536.9 483.4 537.9C491.5 538.9 499.7 540.0 507.9 540.4C516.1 540.7 533.0 540.0 532.5 539.9C531.9 539.8 505.1 539.9 504.6 539.9C504.0 539.9 520.5 539.8 529.1 539.9C537.7 540.0 551.2 539.3 556.1 540.4C561.1 541.5 558.1 544.5 559.1 546.5C561.0 554.3 563.0 562.7 564.7 569.8C566.5 577.0 569.5 585.2 569.7 589.5C569.9 593.8 567.2 593.6 566.0 595.6C557.8 596.5 548.4 597.8 541.4 598.1C534.5 598.4 528.7 596.9 524.2 597.4C519.7 597.8 515.1 600.8 514.4 600.5C513.7 600.3 521.3 597.1 520.2 595.6C519.1 594.2 512.8 592.8 507.9 591.9C503.0 591.1 496.0 590.5 490.7 590.7C485.4 590.9 480.1 592.2 476.0 593.2C471.9 594.2 471.1 596.6 466.2 596.9C461.3 597.1 453.1 595.7 446.5 594.9C440.0 594.1 432.4 593.3 426.9 591.9C421.3 590.6 417.9 588.7 413.4 587.0C413.9 582.1 413.7 578.0 415.1 572.3C416.4 566.6 419.4 558.0 421.5 552.6C423.5 547.3 425.6 543.8 427.4 540.4C429.1 536.9 430.3 534.6 431.8 531.8Z" fill="#2b5087" stroke="#2b5087" stroke-width="1"/>
<path d="M372.8 583.4C375.3 577.2 377.3 570.9 380.2 564.9C383.1 559.0 386.3 552.9 390.0 547.7C393.7 542.6 398.2 538.7 402.3 534.2C408.8 533.4 416.3 532.1 421.9 531.8C427.6 531.5 431.4 532.3 436.2 532.5C433.9 535.1 431.7 536.2 429.3 540.4C426.9 544.5 424.0 552.2 421.9 557.6C419.9 562.9 418.3 567.8 417.0 572.3C415.7 576.8 415.1 580.5 414.1 584.6C411.8 586.1 411.6 588.6 407.2 589.0C402.8 589.4 393.3 588.0 387.6 587.0C381.8 586.1 377.7 584.6 372.8 583.4Z" fill="#00bcc0"/>
<path d="M428.1 533.5C430.8 533.2 433.5 532.8 436.2 532.5C433.9 535.1 431.7 536.2 429.3 540.4C426.9 544.5 424.0 552.2 421.9 557.6C419.9 562.9 418.3 567.8 417.0 572.3C415.7 576.8 415.1 580.5 414.1 584.6C411.8 586.1 409.5 587.5 407.2 589.0C408.8 583.4 410.3 578.4 412.1 572.3C414.0 566.2 415.6 559.1 418.3 552.6C420.9 546.2 424.8 539.9 428.1 533.5Z" fill="#00a8ac"/>
<path d="M582.7 538.7C584.9 536.1 587.2 533.5 589.4 530.8C601.8 522.4 614.1 514.0 626.5 505.6C627.9 506.8 629.5 508.3 630.7 509.3C631.9 510.3 632.0 509.7 633.8 511.8C635.5 513.9 638.7 517.9 641.1 521.9C643.4 525.8 645.9 531.2 647.8 535.3C649.7 539.5 651.1 543.1 652.3 546.6C653.4 550.0 653.9 552.9 654.8 556.1C638.0 569.1 621.3 582.1 604.6 595.1C604.0 592.4 604.1 591.0 602.9 587.0C601.7 583.0 599.3 576.3 597.3 571.3C595.2 566.2 593.0 562.1 590.5 556.7C588.1 551.2 585.3 544.7 582.7 538.7Z" fill="#00c8c9"/>
<path d="M554.0 544.9C560.6 542.8 568.7 539.7 573.7 538.7C578.6 537.7 580.4 538.7 583.8 538.7C586.1 544.7 588.5 551.2 590.8 556.7C593.0 562.1 595.4 566.2 597.5 571.3C599.5 576.3 601.9 583.0 603.1 587.0C604.3 591.0 604.2 592.4 604.8 595.1C601.9 595.4 599.5 595.9 596.1 596.2C592.8 596.5 589.0 596.8 584.9 596.8C580.8 596.8 574.4 596.8 571.4 596.2C568.5 595.6 568.7 594.3 567.3 593.4C566.4 588.6 565.7 584.3 564.7 579.1C563.7 573.9 563.1 568.0 561.3 562.3C559.6 556.6 556.5 550.7 554.0 544.9Z" fill="#00bcc0"/>
<path d="M403.5 534.2C409.7 529.6 415.8 524.9 421.9 520.2C429.8 513.8 440.9 504.5 445.5 500.8C450.2 497.1 447.8 498.6 449.7 497.9C451.6 497.1 449.2 496.2 456.8 496.4C464.5 496.6 475.6 497.7 495.6 499.1C515.7 500.5 562.0 502.9 577.1 504.7C592.1 506.5 583.8 508.0 586.0 510.1C588.2 512.2 589.3 514.7 590.3 517.4C591.3 520.1 591.7 523.6 591.9 526.4C592.0 529.1 591.9 531.8 591.1 533.7C590.3 535.5 589.1 535.9 587.2 537.4C585.2 538.8 581.5 541.2 579.3 542.3C577.1 543.4 575.6 543.4 573.7 544.0C568.1 543.2 562.5 542.4 556.8 541.7C551.2 541.1 544.6 540.1 540.0 540.1C535.4 540.0 535.0 541.3 529.1 541.6C523.2 541.8 504.0 541.7 504.6 541.6C505.1 541.5 531.9 540.9 532.5 540.9C533.0 540.9 516.1 541.9 507.9 541.6C499.7 541.3 491.5 540.2 483.4 539.1C475.2 538.1 466.6 536.5 458.8 535.5C451.0 534.4 442.8 533.5 436.7 533.0C430.5 532.5 427.5 532.3 421.9 532.5C416.4 532.7 409.7 533.6 403.5 534.2Z" fill="url(#epiB1)"/>
<path d="M573.1 498.5C587.9 487.2 602.7 475.9 617.5 464.6C620.8 466.8 624.8 468.5 627.6 471.3C630.4 474.1 632.9 478.3 634.3 481.4C635.7 484.6 636.0 487.6 636.0 490.4C636.0 493.2 635.2 496.0 634.3 498.3C633.5 500.5 632.1 502.0 630.9 503.9C617.1 514.1 603.3 524.3 589.4 534.4C589.9 531.7 590.8 529.2 590.8 526.4C590.8 523.5 590.3 520.1 589.4 517.4C588.5 514.7 587.1 512.3 585.5 510.1C583.9 507.8 581.9 505.8 579.9 503.9C577.8 502.0 575.4 500.3 573.1 498.5Z" fill="url(#flapB)"/>
<path d="M669.6 634.2C678.5 631.6 688.5 627.6 696.2 626.3C703.9 625.0 710.5 626.0 715.8 626.3C721.1 626.7 724.0 627.6 728.1 628.3C731.4 636.7 734.9 643.9 737.9 653.4C741.0 662.9 744.4 674.6 746.5 685.3C748.6 695.9 749.3 706.6 750.7 717.2C735.4 728.3 720.1 739.3 704.8 750.4C703.7 740.2 702.9 729.7 701.6 719.7C700.2 709.7 698.8 699.2 696.7 690.2C694.5 681.2 693.3 675.0 688.8 665.6C684.3 656.3 676.0 644.7 669.6 634.2Z" fill="url(#epiB2)"/>
<path d="M670.1 634.7C673.2 634.5 676.3 634.4 679.5 634.2C684.4 644.7 690.4 656.3 694.2 665.6C698.0 675.0 700.0 681.2 702.1 690.2C704.1 699.2 705.4 710.1 706.5 719.7C707.5 729.3 707.8 738.5 708.4 747.9C707.1 749.0 705.8 750.1 704.5 751.1C703.7 740.6 703.3 729.8 702.1 719.7C700.8 709.5 699.3 699.2 697.1 690.2C695.0 681.2 693.8 674.9 689.3 665.6C684.8 656.4 676.5 645.0 670.1 634.7Z" fill="#a59d8f"/>
<path d="M670.4 635.7C685.5 624.8 705.8 609.8 715.8 603.0C725.8 596.2 725.2 596.6 730.6 594.9C735.9 593.2 741.9 592.6 747.7 592.7C753.6 592.8 759.5 594.6 765.4 595.6C753.0 606.7 740.5 617.7 728.1 628.8C724.0 629.4 721.1 630.7 715.8 630.8C710.5 630.8 702.3 628.0 696.2 629.3C690.0 630.6 683.3 637.6 679.0 638.6C674.7 639.7 673.2 636.7 670.4 635.7Z" fill="url(#flapB2)"/>
<path d="M682.7 537.8C686.4 533.9 690.0 530.0 693.9 526.1C697.8 522.1 702.1 517.3 706.2 514.3C710.4 511.3 713.7 510.8 718.6 508.1C723.5 505.4 729.8 501.9 735.4 498.0C741.1 494.1 747.4 489.2 752.3 484.5C757.2 479.9 760.7 474.9 764.9 470.1C771.3 480.0 777.7 489.8 784.1 499.7C779.1 504.3 774.4 509.3 769.1 513.7C763.8 518.1 757.9 522.3 752.3 526.1C746.7 529.8 741.1 533.3 735.4 536.2C729.8 539.1 723.3 542.1 718.6 543.5C713.9 544.8 711.1 544.5 707.4 544.2C703.6 544.0 700.3 542.8 696.1 541.8C692.0 540.7 687.2 539.2 682.7 537.8Z" fill="url(#cantG)" stroke="#1a1a1a" stroke-width="0.8"/>
<path d="M701.5 473.5C699.9 481.3 697.9 489.6 696.7 496.9C695.5 504.1 694.4 510.1 694.1 517.1C693.9 524.0 694.9 531.3 695.2 538.4" fill="none" stroke="#76879a" stroke-width="3.1" stroke-linecap="butt" opacity="0.85"/>
<path d="M692.8 537.8L755.7 579.1" fill="none" stroke="#71828e" stroke-width="3.1" opacity="0.9"/>
<circle cx="678.4" cy="540.4" r="5.4" fill="#f5001e"/>
<path d="M669.4 440.2L733.4 440.2M670.9 440.4L674.2 441.8L675.4 445.0L675.4 449.5L727.6 449.5L727.6 445.0L728.7 441.8L732.1 440.4M675.4 445.0L727.6 445.0M677.1 449.9L690.5 457.9L713.5 457.9L726.5 449.9M690.5 457.9L692.2 460.7L711.3 460.7L713.5 457.9" fill="none" stroke="#000" stroke-width="1.45" stroke-linejoin="round"/>
<path d="M692.2 460.7L692.8 462.7L710.7 462.7L711.3 460.7Z" fill="#6a6a6a" stroke="#000" stroke-width="0.9"/>
<path d="M696.1 463.7L693.3 483.2M706.2 463.7L709.8 483.2" fill="none" stroke="#000" stroke-width="1.7" stroke-dasharray="1.5 1.75"/>
<path d="M669.8 537.8Q651.2 534.5 637.8 544.6" fill="none" stroke="#000" stroke-width="1.5"/>
<path d="M630.9 552.7L635.4 537.0L638.8 545.4L646.1 546.3Z"/>
<path d="M681.5 547.4Q692.8 571.0 675.9 587.8" fill="none" stroke="#000" stroke-width="1.5"/>
<path d="M665.8 596.5L671.4 581.9L675.9 590.4L681.5 593.2Z"/>
</g>

<!-- ===== panel c ===== -->
<g id="panel-c">
<text x="885.6" y="386.8" class="pl">c</text>
<g stroke="#3a3a3a" stroke-width="1.3" fill="none">
<path d="M1001.6 411.2V755.6"/>
<path d="M992 755.6H1517.5"/>
<path d="M992 411.2H1001.6M992 480H1001.6M992 549.7H1001.6M992 619.3H1001.6M992 689.4H1001.6"/>
<path d="M1065.4 755.6V765M1195 755.6V765M1324.6 755.6V765M1454.2 755.6V765"/>
</g>
<g class="t" text-anchor="end">
<text x="981" y="421">500</text>
<text x="981" y="490">400</text>
<text x="981" y="560">300</text>
<text x="981" y="629">200</text>
<text x="981" y="699">100</text>
<text x="981" y="766">0</text>
</g>
<text class="t" text-anchor="middle" transform="translate(908,583.5) rotate(-90)">Apparent elasticity (Pa)</text>
<g class="t" text-anchor="middle">
<text x="1065.4" y="797.7">Non-</text>
<text x="1065.4" y="830.2">migratory</text>
<text x="1195" y="797.7">Migratory</text>
<text x="1324.6" y="797.7">Non-</text>
<text x="1324.6" y="830.2">migratory</text>
<text x="1454.2" y="797.7">Migratory</text>
<text x="1324.6" y="395.3"><tspan font-style="italic">P</tspan> = 0.2129</text>
<text x="1387" y="443.5" font-size="33" letter-spacing="0.6">***</text>
<text x="1132" y="605.5" font-size="33" letter-spacing="0.6">****</text>
</g>
<rect x="1021" y="423.8" width="22" height="21.4" fill="#b06ef0"/>
<rect x="1021" y="463" width="22.4" height="22.3" fill="#00f0e8"/>
<text class="t" x="1054" y="442.5">Mesoderm</text>
<text class="t" x="1054" y="482.5">Neural crest</text>
<g fill="#b06ef0" id="c-p1">
</g>
</g>

<g fill="#b06ef0">
<rect x="1060.9" y="680.5" width="9" height="9"/>
<rect x="1076.5" y="690.7" width="9" height="9"/>
<rect x="1045.0" y="696.1" width="9" height="9"/>
<rect x="1028.6" y="706.3" width="9" height="9"/>
<rect x="1045.0" y="713.8" width="9" height="9"/>
<rect x="1077.4" y="712.9" width="9" height="9"/>
<rect x="1093.8" y="711.6" width="9" height="9"/>
<rect x="1037.4" y="724.9" width="9" height="9"/>
<rect x="1082.7" y="722.7" width="9" height="9"/>
</g>
<path d="M1014 711.2H1116" stroke="#ff0000" stroke-width="5" fill="none"/>
<path d="M1036.4 697H1095.0M1036.4 725.4H1095.0M1065.4 697V725.4" stroke="#000" stroke-width="5.4" stroke-linecap="round" fill="none"/>
<g fill="#b06ef0">
<rect x="1182.5" y="628.2" width="9" height="9"/>
<rect x="1198.5" y="626.8" width="9" height="9"/>
<rect x="1166.1" y="647.2" width="9" height="9"/>
<rect x="1157.2" y="654.8" width="9" height="9"/>
<rect x="1182.5" y="649.5" width="9" height="9"/>
<rect x="1214.9" y="651.7" width="9" height="9"/>
<rect x="1227.3" y="662.8" width="9" height="9"/>
<rect x="1166.1" y="668.5" width="9" height="9"/>
<rect x="1198.5" y="667.2" width="9" height="9"/>
<rect x="1190.5" y="638.4" width="9" height="9"/>
</g>
<path d="M1145.3 654H1247.4" stroke="#ff0000" stroke-width="5" fill="none"/>
<path d="M1165.4 639.8H1224.6M1165.4 668.2H1224.6M1195 639.8V668.2" stroke="#000" stroke-width="5.4" stroke-linecap="round" fill="none"/>
<g fill="#00f0e8">
<rect x="1320.1" y="446.7" width="9" height="9"/>
<rect x="1320.1" y="468.9" width="9" height="9"/>
<rect x="1317.0" y="489.7" width="9" height="9"/>
<rect x="1296.1" y="554.1" width="9" height="9"/>
<rect x="1328.1" y="554.1" width="9" height="9"/>
<rect x="1303.7" y="563.8" width="9" height="9"/>
<rect x="1336.1" y="563.8" width="9" height="9"/>
<rect x="1325.9" y="569.6" width="9" height="9"/>
<rect x="1313.9" y="579.3" width="9" height="9"/>
<rect x="1311.7" y="619.7" width="9" height="9"/>
<rect x="1328.1" y="619.3" width="9" height="9"/>
</g>
<path d="M1274 552.8H1376" stroke="#ff0000" stroke-width="5" fill="none"/>
<path d="M1295.0 495.5H1354.1M1295.0 609.1H1354.1M1324.6 495.5V609.1" stroke="#000" stroke-width="5.4" stroke-linecap="round" fill="none"/>
<g fill="#00f0e8">
<rect x="1433.7" y="599.8" width="9" height="9"/>
<rect x="1473.6" y="601.5" width="9" height="9"/>
<rect x="1424.8" y="609.5" width="9" height="9"/>
<rect x="1441.2" y="610.4" width="9" height="9"/>
<rect x="1461.2" y="606.4" width="9" height="9"/>
<rect x="1466.5" y="631.7" width="9" height="9"/>
<rect x="1436.8" y="643.7" width="9" height="9"/>
<rect x="1457.6" y="651.7" width="9" height="9"/>
<rect x="1436.8" y="655.2" width="9" height="9"/>
<rect x="1449.2" y="681.4" width="9" height="9"/>
<rect x="1449.2" y="699.2" width="9" height="9"/>
</g>
<path d="M1403.6 640.6H1505.6" stroke="#ff0000" stroke-width="5" fill="none"/>
<path d="M1424.4 608.2H1483.6M1424.4 672.6H1483.6M1454.2 608.2V672.6" stroke="#000" stroke-width="5.4" stroke-linecap="round" fill="none"/>
<path d="M1191.5 408.2H1455M1320 437.4H1453.7M1068.6 600.6H1195" stroke="#000" stroke-width="3.6" fill="none"/>

<!-- ===== panel d ===== -->
<g id="panel-d">
<text x="-1" y="904.2" class="pl">d</text>
<g clip-path="url(#clipd)">
<clipPath id="clipd"><rect x="96.8" y="903.8" width="535.0" height="439.10000000000014"/></clipPath>
<path d="M97.0 1315.1 97.8 1315.4 98.6 1315.4 99.4 1314.7 100.2 1314.9 101.0 1315.5 101.8 1315.0 102.6 1315.0 103.4 1315.3 104.2 1315.2 105.0 1315.1 105.8 1315.2 106.6 1314.9 107.4 1314.7 108.2 1314.8 109.0 1315.0 109.8 1315.2 110.6 1314.9 111.4 1314.6 112.2 1314.6 113.0 1314.9 113.8 1314.9 114.6 1315.3 115.4 1315.8 116.2 1314.4 117.0 1313.4 117.8 1314.3 118.6 1314.8 119.4 1314.9 120.2 1315.1 121.0 1315.8 121.8 1315.3 122.6 1314.5 123.4 1315.6 124.2 1315.9 125.0 1315.4 125.8 1315.1 126.6 1314.3 127.4 1314.5 128.2 1315.1 129.0 1314.6 129.8 1314.3 130.6 1314.7 131.4 1314.7 132.2 1314.6 133.0 1315.0 133.8 1315.0 134.6 1314.8 135.4 1315.0 136.2 1315.5 137.0 1315.4 137.8 1314.8 138.6 1315.0 139.4 1315.1 140.2 1315.1 141.0 1314.9 141.8 1314.9 142.6 1315.3 143.4 1314.6 144.2 1314.5 145.0 1314.9 145.8 1315.1 146.6 1314.8 147.4 1314.3 148.2 1314.7 149.0 1314.9 149.8 1314.9 150.6 1315.3 151.4 1314.7 152.2 1314.5 153.0 1315.5 153.8 1315.3 154.6 1314.6 155.4 1315.0 156.2 1315.3 157.0 1315.4 157.8 1315.2 158.6 1314.4 159.4 1314.5 160.2 1314.8 161.0 1315.1 161.8 1315.3 162.6 1314.5 163.4 1314.0 164.2 1314.9 165.0 1315.5 165.8 1315.0 166.6 1314.8 167.4 1315.2 168.2 1315.3 169.0 1315.5 169.8 1315.4 170.6 1315.1 171.4 1314.9 172.2 1315.3 173.0 1314.6 173.8 1314.2 174.6 1315.0 175.4 1314.5 176.2 1314.6 177.0 1314.9 177.8 1315.1 178.6 1315.3 179.4 1315.2 180.2 1315.6 181.0 1315.5 181.8 1314.8 182.6 1314.2 183.4 1315.1 184.2 1315.6 185.0 1314.7 185.8 1314.8 186.6 1315.0 187.4 1315.2 188.2 1315.3 189.0 1315.0 189.8 1314.8 190.6 1314.9 191.4 1314.8 192.2 1314.9 193.0 1315.8 193.8 1315.0 194.6 1313.6 195.4 1314.4 196.2 1316.1 197.0 1315.5 197.8 1314.2 198.6 1314.8 199.4 1314.9 200.2 1314.5 201.0 1314.7 201.8 1315.0 202.6 1314.9 203.4 1314.8 204.2 1314.9 205.0 1314.4 205.8 1314.4 206.6 1314.3 207.4 1314.4 208.2 1314.3 209.0 1313.8 209.8 1314.7 210.6 1315.1 211.4 1314.5 212.2 1314.7 213.0 1314.5 213.8 1314.2 214.6 1314.5 215.4 1314.6 216.2 1314.0 217.0 1314.2 217.8 1314.4 218.6 1313.6 219.4 1313.5 220.2 1313.7 221.0 1314.6 221.8 1314.3 222.6 1313.7 223.4 1313.3 224.2 1313.2 225.0 1314.3 225.8 1314.2 226.6 1313.6 227.4 1313.8 228.2 1314.2 229.0 1314.4 229.8 1314.8 230.6 1314.6 231.4 1313.6 232.2 1313.4 233.0 1313.6 233.8 1313.7 234.6 1313.6 235.4 1313.6 236.2 1313.0 237.0 1313.2 237.8 1313.6 238.6 1312.8 239.4 1313.2 240.2 1314.2 241.0 1314.1 241.8 1313.6 242.6 1313.0 243.4 1314.0 244.2 1314.8 245.0 1313.1 245.8 1312.4 246.6 1312.9 247.4 1312.5 248.2 1312.5 249.0 1312.9 249.8 1313.3 250.6 1313.9 251.4 1312.2 252.2 1311.8 253.0 1312.2 253.8 1312.6 254.6 1313.3 255.4 1313.0 256.2 1312.4 257.0 1312.9 257.8 1314.2 258.6 1312.9 259.4 1312.2 260.2 1312.3 261.0 1312.1 261.8 1311.8 262.6 1312.5 263.4 1312.6 264.2 1311.6 265.0 1312.2 265.8 1312.0 266.6 1311.7 267.4 1311.6 268.2 1311.6 269.0 1311.3 269.8 1311.1 270.6 1311.5 271.4 1311.5 272.2 1311.6 273.0 1311.6 273.8 1311.9 274.6 1311.8 275.4 1311.3 276.2 1311.1 277.0 1310.9 277.8 1310.6 278.6 1311.0 279.4 1311.0 280.2 1310.4 281.0 1311.0 281.8 1311.5 282.6 1311.1 283.4 1309.9 284.2 1310.3 285.0 1311.3 285.8 1310.1 286.6 1310.1 287.4 1310.2 288.2 1308.9 289.0 1309.1 289.8 1309.4 290.6 1309.1 291.4 1308.0 292.2 1308.7 293.0 1309.1 293.8 1306.7 294.6 1307.2 295.4 1307.7 296.2 1307.2 297.0 1307.0 297.8 1306.5 298.6 1306.6 299.4 1305.8 300.2 1305.9 301.0 1305.8 301.8 1304.4 302.6 1304.5 303.4 1305.3 304.2 1304.8 305.0 1303.5 305.8 1303.9 306.6 1302.9 307.4 1301.3 308.2 1302.5 309.0 1301.9 309.8 1301.6 310.6 1302.4 311.4 1302.9 312.2 1301.9 313.0 1300.3 313.8 1301.1 314.6 1299.2 315.4 1301.4 316.2 1302.8 317.0 1299.0 317.8 1300.2 318.6 1300.7 319.4 1298.5 320.2 1299.1 321.0 1301.2 321.8 1300.3 322.6 1299.4 323.4 1300.2 324.2 1299.7 325.0 1299.6 325.8 1300.5 326.6 1299.6 327.4 1298.3 328.2 1298.7 329.0 1299.1 329.8 1300.1 330.6 1301.2 331.4 1301.3 332.2 1301.6 333.0 1301.4 333.8 1300.8 334.6 1301.4 335.4 1303.9 336.2 1303.3 337.0 1301.6 337.8 1302.0 338.6 1302.3 339.4 1302.2 340.2 1302.9 341.0 1303.5 341.8 1304.8 342.6 1305.3 343.4 1304.7 344.2 1305.7 345.0 1305.5 345.8 1306.1 346.6 1306.1 347.4 1304.8 348.2 1305.2 349.0 1306.0 349.8 1305.5 350.6 1305.9 351.4 1306.0 352.2 1307.2 353.0 1308.5 353.8 1307.5 354.6 1307.2 355.4 1307.7 356.2 1308.4 357.0 1308.3 357.8 1308.0 358.6 1308.4 359.4 1308.6 360.2 1309.2 361.0 1310.1 361.8 1309.6 362.6 1309.3 363.4 1308.5 364.2 1308.6 365.0 1309.3 365.8 1309.2 366.6 1310.1 367.4 1308.6 368.2 1307.9 369.0 1308.6 369.8 1308.7 370.6 1308.6 371.4 1308.0 372.2 1308.8 373.0 1309.4 373.8 1309.4 374.6 1308.6 375.4 1308.3 376.2 1309.2 377.0 1309.5 377.8 1308.1 378.6 1308.6 379.4 1309.7 380.2 1309.7 381.0 1309.1 381.8 1308.8 382.6 1308.2 383.4 1307.8 384.2 1308.0 385.0 1307.9 385.8 1308.6 386.6 1307.5 387.4 1306.6 388.2 1306.9 389.0 1307.6 389.8 1307.8 390.6 1306.0 391.4 1305.6 392.2 1306.8 393.0 1307.8 393.8 1305.7 394.6 1303.3 395.4 1305.3 396.2 1304.4 397.0 1302.1 397.8 1303.3 398.6 1304.8 399.4 1303.5 400.2 1302.7 401.0 1302.8 401.8 1303.2 402.6 1302.5 403.4 1301.2 404.2 1299.6 405.0 1297.5 405.8 1297.8 406.6 1298.7 407.4 1298.9 408.2 1295.9 409.0 1295.3 409.8 1296.7 410.6 1295.0 411.4 1292.9 412.2 1292.1 413.0 1289.3 413.8 1289.1 414.6 1291.4 415.4 1289.1 416.2 1289.2 417.0 1287.7 417.8 1284.9 418.6 1285.7 419.4 1289.2 420.2 1286.9 421.0 1284.2 421.8 1287.8 422.6 1287.1 423.4 1287.1 424.2 1284.4 425.0 1278.1 425.8 1280.6 426.6 1282.0 427.4 1279.6 428.2 1279.2 429.0 1281.1 429.8 1284.3 430.6 1280.7 431.4 1280.3 432.2 1281.4 433.0 1279.1 433.8 1278.5 434.6 1277.9 435.4 1278.5 436.2 1279.1 437.0 1276.8 437.8 1277.7 438.6 1276.7 439.4 1274.8 440.2 1276.4 441.0 1278.4 441.8 1276.0 442.6 1276.2 443.4 1277.2 444.2 1273.1 445.0 1271.2 445.8 1272.4 446.6 1273.5 447.4 1269.9 448.2 1267.2 449.0 1268.0 449.8 1268.6 450.6 1271.6 451.4 1275.5 452.2 1274.8 453.0 1272.4 453.8 1269.4 454.6 1268.5 455.4 1270.9 456.2 1275.0 457.0 1274.8 457.8 1269.6 458.6 1266.6 459.4 1264.9 460.2 1261.4 461.0 1261.3 461.8 1263.2 462.6 1268.6 463.4 1267.2 464.2 1264.7 465.0 1269.4 465.8 1264.3 466.6 1262.8 467.4 1264.0 468.2 1256.1 469.0 1253.6 469.8 1254.1 470.6 1251.4 471.4 1249.6 472.2 1249.9 473.0 1251.0 473.8 1246.5 474.6 1244.0 475.4 1240.9 476.2 1240.8 477.0 1246.5 477.8 1245.7 478.6 1244.7 479.4 1245.5 480.2 1243.1 481.0 1240.9 481.8 1243.5 482.6 1246.3 483.4 1245.8 484.2 1249.3 485.0 1248.0 485.8 1244.1 486.6 1247.2 487.4 1244.3 488.2 1239.2 489.0 1236.5 489.8 1238.6 490.6 1243.9 491.4 1243.9 492.2 1241.4 493.0 1239.5 493.8 1240.2 494.6 1235.6 495.4 1234.5 496.2 1239.6 497.0 1235.3 497.8 1240.4 498.6 1240.1 499.4 1231.8 500.2 1232.0 501.0 1237.1 501.8 1237.6 502.6 1237.1 503.4 1243.1 504.2 1242.7 505.0 1237.3 505.8 1235.4 506.6 1246.6 507.4 1245.3 508.2 1237.8 509.0 1242.7 509.8 1249.3 510.6 1251.8 511.4 1252.6 512.2 1249.2 513.0 1251.1 513.8 1258.4 514.6 1250.3 515.4 1255.1 516.2 1270.7 517.0 1263.4 517.8 1256.6 518.6 1264.3 519.4 1260.0 520.2 1245.1 521.0 1244.1 521.8 1248.2 522.6 1249.6 523.4 1252.8 524.2 1254.6 525.0 1245.7 525.8 1245.4 526.6 1256.3 527.4 1257.3 528.2 1252.2 529.0 1245.7 529.8 1244.4 530.6 1240.1 531.4 1238.3 532.2 1240.3 533.0 1240.6 533.8 1241.4 534.6 1233.0 535.4 1230.9 536.2 1237.6 537.0 1232.5 537.8 1225.5 538.6 1225.7 539.4 1221.6 540.2 1226.4 541.0 1234.8 541.8 1238.5 542.6 1229.5 543.4 1216.3 544.2 1209.8 545.0 1198.0 545.8 1196.8 546.6 1204.5 547.4 1193.9 548.2 1184.8 549.0 1183.4 549.8 1188.3 550.6 1200.6 551.4 1205.3 552.2 1187.7 553.0 1192.4 553.8 1212.7 554.6 1216.1 555.4 1213.5 556.2 1212.6 557.0 1201.4 557.8 1203.7 558.6 1192.1 559.4 1197.0 560.2 1203.7 561.0 1205.4 561.8 1197.1 562.6 1195.1 563.4 1191.7 564.2 1176.6 565.0 1180.4 565.8 1175.1 566.6 1147.0 567.4 1147.0 568.2 1162.4 569.0 1147.6 569.8 1148.7 570.6 1174.8 571.4 1171.1 572.2 1166.8 573.0 1179.0 573.8 1196.0 574.6 1200.9 575.4 1201.8 576.2 1172.8 577.0 1156.6 577.8 1168.4 578.6 1183.9 579.4 1175.6 580.2 1158.9 581.0 1165.2 581.8 1158.8 582.6 1139.7 583.4 1125.8 584.2 1119.4 585.0 1142.1 585.8 1130.4 586.6 1108.8 587.4 1104.3 588.2 1100.5 589.0 1113.8 589.8 1106.1 590.6 1100.3 591.4 1103.1 592.2 1096.5 593.0 1099.6 593.8 1097.6 594.6 1077.9 595.4 1062.5 596.2 1054.0 597.0 1058.2 597.8 1057.5 598.6 1070.4 599.4 1082.6 600.2 1055.1 601.0 1033.6 601.8 1040.1 602.6 1032.4 603.4 1025.6 604.2 1037.4 605.0 1036.9 605.8 1032.9 606.6 1037.0 607.4 1039.2 608.2 1036.9 609.0 1028.6 609.8 1026.0 610.6 1016.8 611.4 1014.6 612.2 1002.3 613.0 983.6 613.8 977.3 614.6 985.7 615.4 1005.3 616.2 1030.4 617.0 1022.9 617.8 996.6 618.6 973.4 619.4 962.5 620.2 958.2 621.0 948.3 621.8 930.5 622.6 921.6 623.4 934.7 624.2 923.0 625.0 915.8 625.8 915.8 626.6 915.8 627.4 916.7 628.2 915.8 629.0 921.3 629.8 962.7" fill="none" stroke="#0a14f2" stroke-width="4.9" stroke-linejoin="round" stroke-linecap="round"/>
<path d="M97.0 1316.1 97.8 1315.9 98.6 1315.7 99.4 1315.1 100.2 1315.8 101.0 1316.9 101.8 1316.2 102.6 1316.1 103.4 1316.3 104.2 1315.9 105.0 1316.1 105.8 1316.2 106.6 1315.8 107.4 1315.6 108.2 1315.8 109.0 1316.0 109.8 1316.1 110.6 1315.9 111.4 1315.8 112.2 1315.7 113.0 1315.9 113.8 1316.2 114.6 1316.1 115.4 1316.1 116.2 1315.7 117.0 1315.8 117.8 1316.7 118.6 1316.0 119.4 1314.9 120.2 1314.9 121.0 1315.7 121.8 1316.2 122.6 1316.2 123.4 1316.4 124.2 1316.1 125.0 1316.0 125.8 1315.9 126.6 1316.1 127.4 1315.8 128.2 1315.4 129.0 1315.8 129.8 1316.5 130.6 1316.1 131.4 1315.3 132.2 1315.3 133.0 1315.9 133.8 1316.0 134.6 1316.1 135.4 1315.6 136.2 1315.6 137.0 1316.5 137.8 1315.7 138.6 1315.4 139.4 1316.2 140.2 1316.2 141.0 1316.1 141.8 1316.8 142.6 1316.6 143.4 1315.8 144.2 1315.4 145.0 1315.7 145.8 1315.9 146.6 1315.6 147.4 1315.7 148.2 1315.9 149.0 1315.6 149.8 1315.0 150.6 1314.5 151.4 1315.4 152.2 1316.1 153.0 1316.2 153.8 1316.2 154.6 1315.5 155.4 1315.6 156.2 1315.8 157.0 1315.3 157.8 1315.0 158.6 1316.0 159.4 1316.3 160.2 1315.9 161.0 1315.7 161.8 1315.4 162.6 1315.7 163.4 1315.9 164.2 1315.4 165.0 1315.4 165.8 1315.3 166.6 1315.4 167.4 1316.1 168.2 1315.7 169.0 1315.8 169.8 1315.9 170.6 1315.5 171.4 1315.4 172.2 1315.3 173.0 1315.6 173.8 1315.5 174.6 1315.3 175.4 1315.2 176.2 1315.1 177.0 1314.9 177.8 1315.0 178.6 1315.6 179.4 1316.0 180.2 1316.1 181.0 1316.5 181.8 1316.4 182.6 1315.5 183.4 1316.0 184.2 1315.8 185.0 1315.5 185.8 1315.6 186.6 1315.4 187.4 1315.1 188.2 1315.2 189.0 1315.8 189.8 1315.2 190.6 1315.8 191.4 1316.3 192.2 1315.8 193.0 1315.3 193.8 1315.3 194.6 1315.5 195.4 1315.7 196.2 1316.0 197.0 1315.5 197.8 1315.1 198.6 1315.2 199.4 1314.9 200.2 1314.9 201.0 1315.3 201.8 1315.7 202.6 1316.1 203.4 1315.6 204.2 1315.4 205.0 1315.5 205.8 1316.0 206.6 1316.1 207.4 1315.6 208.2 1315.3 209.0 1314.9 209.8 1315.3 210.6 1315.4 211.4 1315.4 212.2 1315.1 213.0 1315.1 213.8 1315.4 214.6 1315.7 215.4 1315.9 216.2 1315.7 217.0 1315.3 217.8 1315.1 218.6 1315.3 219.4 1315.0 220.2 1315.2 221.0 1315.3 221.8 1315.4 222.6 1315.7 223.4 1315.8 224.2 1315.6 225.0 1314.9 225.8 1314.7 226.6 1315.0 227.4 1314.6 228.2 1314.9 229.0 1315.5 229.8 1315.2 230.6 1315.6 231.4 1315.8 232.2 1315.6 233.0 1315.1 233.8 1315.1 234.6 1315.5 235.4 1315.1 236.2 1315.4 237.0 1315.8 237.8 1314.8 238.6 1314.7 239.4 1314.9 240.2 1315.3 241.0 1315.9 241.8 1315.2 242.6 1314.7 243.4 1315.0 244.2 1315.2 245.0 1315.7 245.8 1316.0 246.6 1315.4 247.4 1315.4 248.2 1314.8 249.0 1314.7 249.8 1315.6 250.6 1315.5 251.4 1315.0 252.2 1315.2 253.0 1316.0 253.8 1315.9 254.6 1314.9 255.4 1315.3 256.2 1315.1 257.0 1314.8 257.8 1315.2 258.6 1315.3 259.4 1315.2 260.2 1315.3 261.0 1315.7 261.8 1314.7 262.6 1314.0 263.4 1314.4 264.2 1315.5 265.0 1315.6 265.8 1315.2 266.6 1315.1 267.4 1315.3 268.2 1315.5 269.0 1315.4 269.8 1314.9 270.6 1315.2 271.4 1316.0 272.2 1315.2 273.0 1315.5 273.8 1316.1 274.6 1315.2 275.4 1314.3 276.2 1314.7 277.0 1315.5 277.8 1315.1 278.6 1314.3 279.4 1314.9 280.2 1315.3 281.0 1314.8 281.8 1315.9 282.6 1316.7 283.4 1316.1 284.2 1315.2 285.0 1315.1 285.8 1314.5 286.6 1314.4 287.4 1314.9 288.2 1314.4 289.0 1314.1 289.8 1314.7 290.6 1315.2 291.4 1315.1 292.2 1315.4 293.0 1315.0 293.8 1314.4 294.6 1314.0 295.4 1314.3 296.2 1315.2 297.0 1315.2 297.8 1315.2 298.6 1314.8 299.4 1314.5 300.2 1314.6 301.0 1314.3 301.8 1315.1 302.6 1315.8 303.4 1314.9 304.2 1314.3 305.0 1314.5 305.8 1314.3 306.6 1314.4 307.4 1314.4 308.2 1314.1 309.0 1314.2 309.8 1314.1 310.6 1314.0 311.4 1313.5 312.2 1313.6 313.0 1313.9 313.8 1314.1 314.6 1314.3 315.4 1314.9 316.2 1315.2 317.0 1314.5 317.8 1314.5 318.6 1314.3 319.4 1314.5 320.2 1314.9 321.0 1313.9 321.8 1313.9 322.6 1314.7 323.4 1313.4 324.2 1312.8 325.0 1313.6 325.8 1313.1 326.6 1312.8 327.4 1313.2 328.2 1313.7 329.0 1314.1 329.8 1314.9 330.6 1314.6 331.4 1314.0 332.2 1314.2 333.0 1313.8 333.8 1313.3 334.6 1312.5 335.4 1312.6 336.2 1313.6 337.0 1314.4 337.8 1314.3 338.6 1313.9 339.4 1313.3 340.2 1313.7 341.0 1314.5 341.8 1313.6 342.6 1313.1 343.4 1312.9 344.2 1313.4 345.0 1313.9 345.8 1313.3 346.6 1313.3 347.4 1313.4 348.2 1313.1 349.0 1312.4 349.8 1312.0 350.6 1311.8 351.4 1312.4 352.2 1314.0 353.0 1313.1 353.8 1312.2 354.6 1313.0 355.4 1312.6 356.2 1312.4 357.0 1312.4 357.8 1312.7 358.6 1312.9 359.4 1312.4 360.2 1312.9 361.0 1312.7 361.8 1311.6 362.6 1311.5 363.4 1312.6 364.2 1312.7 365.0 1312.5 365.8 1312.0 366.6 1311.9 367.4 1312.7 368.2 1312.6 369.0 1313.0 369.8 1312.9 370.6 1311.7 371.4 1311.0 372.2 1311.9 373.0 1312.5 373.8 1312.4 374.6 1312.6 375.4 1312.9 376.2 1313.2 377.0 1312.3 377.8 1311.8 378.6 1312.4 379.4 1311.8 380.2 1311.9 381.0 1312.9 381.8 1312.7 382.6 1312.0 383.4 1311.7 384.2 1311.3 385.0 1311.1 385.8 1311.3 386.6 1311.3 387.4 1311.3 388.2 1311.4 389.0 1312.1 389.8 1311.4 390.6 1311.2 391.4 1310.9 392.2 1309.5 393.0 1310.3 393.8 1311.2 394.6 1311.4 395.4 1310.6 396.2 1310.4 397.0 1311.1 397.8 1311.7 398.6 1311.6 399.4 1311.2 400.2 1310.8 401.0 1310.5 401.8 1310.8 402.6 1311.3 403.4 1311.1 404.2 1310.4 405.0 1311.2 405.8 1312.4 406.6 1312.4 407.4 1311.8 408.2 1311.5 409.0 1311.9 409.8 1312.3 410.6 1312.7 411.4 1312.6 412.2 1311.5 413.0 1311.2 413.8 1311.2 414.6 1311.0 415.4 1312.0 416.2 1312.9 417.0 1311.9 417.8 1312.3 418.6 1313.0 419.4 1311.9 420.2 1312.0 421.0 1312.4 421.8 1312.0 422.6 1311.3 423.4 1311.7 424.2 1312.6 425.0 1311.6 425.8 1311.8 426.6 1313.1 427.4 1312.8 428.2 1312.6 429.0 1312.7 429.8 1312.4 430.6 1312.4 431.4 1313.4 432.2 1313.0 433.0 1312.6 433.8 1313.3 434.6 1313.0 435.4 1312.8 436.2 1312.5 437.0 1312.4 437.8 1313.0 438.6 1313.5 439.4 1313.2 440.2 1314.3 441.0 1314.5 441.8 1313.4 442.6 1313.6 443.4 1313.5 444.2 1314.1 445.0 1314.1 445.8 1314.2 446.6 1314.8 447.4 1314.0 448.2 1314.2 449.0 1315.0 449.8 1316.4 450.6 1317.2 451.4 1316.4 452.2 1316.4 453.0 1317.0 453.8 1318.2 454.6 1319.1 455.4 1319.2 456.2 1319.1 457.0 1319.3 457.8 1319.8 458.6 1319.2 459.4 1318.4 460.2 1318.5 461.0 1318.0 461.8 1317.7 462.6 1317.8 463.4 1318.3 464.2 1318.3 465.0 1317.8 465.8 1317.7 466.6 1317.6 467.4 1316.9 468.2 1316.6 469.0 1316.0 469.8 1315.7 470.6 1315.8 471.4 1315.1 472.2 1314.0 473.0 1314.4 473.8 1314.6 474.6 1315.0 475.4 1314.3 476.2 1312.9 477.0 1312.7 477.8 1312.0 478.6 1312.4 479.4 1311.8 480.2 1311.2 481.0 1311.5 481.8 1311.5 482.6 1311.6 483.4 1311.9 484.2 1311.9 485.0 1311.4 485.8 1310.7 486.6 1309.8 487.4 1309.5 488.2 1309.7 489.0 1310.2 489.8 1310.2 490.6 1308.1 491.4 1307.8 492.2 1307.1 493.0 1304.9 493.8 1304.4 494.6 1304.6 495.4 1301.3 496.2 1298.5 497.0 1300.3 497.8 1300.2 498.6 1297.9 499.4 1296.6 500.2 1298.6 501.0 1297.7 501.8 1295.8 502.6 1296.4 503.4 1294.6 504.2 1294.8 505.0 1295.3 505.8 1294.6 506.6 1294.4 507.4 1296.7 508.2 1298.0 509.0 1297.0 509.8 1296.7 510.6 1299.8 511.4 1302.1 512.2 1300.4 513.0 1298.8 513.8 1297.1 514.6 1297.7 515.4 1299.1 516.2 1297.1 517.0 1297.6 517.8 1299.5 518.6 1296.9 519.4 1293.5 520.2 1292.2 521.0 1291.6 521.8 1290.3 522.6 1284.2 523.4 1286.0 524.2 1289.3 525.0 1286.9 525.8 1287.8 526.6 1281.1 527.4 1275.9 528.2 1277.1 529.0 1277.5 529.8 1270.6 530.6 1259.6 531.4 1257.0 532.2 1252.1 533.0 1245.0 533.8 1233.9 534.6 1234.3 535.4 1236.9 536.2 1229.4 537.0 1231.7 537.8 1233.5 538.6 1241.9 539.4 1237.6 540.2 1213.6 541.0 1209.6 541.8 1211.5 542.6 1211.5 543.4 1210.2 544.2 1205.5 545.0 1205.0 545.8 1204.2 546.6 1198.9 547.4 1197.5 548.2 1202.3 549.0 1207.6 549.8 1205.2 550.6 1198.1 551.4 1199.9 552.2 1201.8 553.0 1204.2 553.8 1203.0 554.6 1195.7 555.4 1196.9 556.2 1200.8 557.0 1193.8 557.8 1188.2 558.6 1183.2 559.4 1180.5 560.2 1182.0 561.0 1181.3 561.8 1181.3 562.6 1180.2 563.4 1180.3 564.2 1181.3 565.0 1181.2 565.8 1176.3 566.6 1169.7 567.4 1174.7 568.2 1185.4 569.0 1175.6 569.8 1168.4 570.6 1160.1 571.4 1146.3 572.2 1150.1 573.0 1163.1 573.8 1156.3 574.6 1141.1 575.4 1152.8 576.2 1142.6 577.0 1132.8 577.8 1144.1 578.6 1135.0 579.4 1129.4 580.2 1143.5 581.0 1130.8 581.8 1111.3 582.6 1113.1 583.4 1108.2 584.2 1099.3 585.0 1108.7 585.8 1114.2 586.6 1093.6 587.4 1088.1 588.2 1096.0 589.0 1098.8 589.8 1089.3 590.6 1085.4 591.4 1090.6 592.2 1090.8 593.0 1089.5 593.8 1077.3 594.6 1081.3 595.4 1090.6 596.2 1086.5 597.0 1099.7 597.8 1083.2 598.6 1055.3 599.4 1060.1 600.2 1066.4 601.0 1062.6 601.8 1060.9 602.6 1073.6 603.4 1083.3 604.2 1065.8 605.0 1071.5 605.8 1079.2 606.6 1089.5 607.4 1102.3 608.2 1101.6 609.0 1117.9 609.8 1129.7 610.6 1124.2 611.4 1127.4 612.2 1108.0 613.0 1082.4 613.8 1078.1 614.6 1081.2 615.4 1071.1 616.2 1061.7 617.0 1072.9 617.8 1085.3 618.6 1101.5 619.4 1105.2 620.2 1108.4 621.0 1127.1 621.8 1116.6 622.6 1109.5 623.4 1110.9 624.2 1102.3 625.0 1087.3 625.8 1075.2 626.6 1087.3 627.4 1091.9 628.2 1077.5 629.0 1068.0 629.8 1079.0" fill="none" stroke="#0a1ef0" stroke-width="4.9" stroke-linejoin="round" stroke-linecap="round"/>
<path d="M97.0 1316.5 97.8 1315.9 98.6 1315.5 99.4 1316.0 100.2 1315.7 101.0 1315.8 101.8 1315.4 102.6 1315.4 103.4 1315.7 104.2 1316.6 105.0 1316.8 105.8 1315.9 106.6 1315.8 107.4 1315.7 108.2 1315.5 109.0 1315.6 109.8 1316.0 110.6 1316.0 111.4 1316.1 112.2 1316.1 113.0 1315.9 113.8 1316.3 114.6 1316.4 115.4 1315.9 116.2 1315.7 117.0 1316.0 117.8 1316.5 118.6 1316.3 119.4 1315.8 120.2 1316.1 121.0 1315.9 121.8 1315.6 122.6 1316.0 123.4 1316.2 124.2 1316.0 125.0 1316.1 125.8 1315.3 126.6 1315.4 127.4 1315.9 128.2 1315.2 129.0 1315.5 129.8 1316.1 130.6 1315.9 131.4 1315.4 132.2 1315.6 133.0 1315.8 133.8 1316.2 134.6 1316.4 135.4 1316.1 136.2 1316.1 137.0 1316.0 137.8 1315.5 138.6 1315.7 139.4 1316.1 140.2 1315.9 141.0 1315.5 141.8 1315.6 142.6 1315.2 143.4 1315.3 144.2 1316.1 145.0 1315.5 145.8 1315.4 146.6 1315.5 147.4 1315.7 148.2 1315.4 149.0 1315.0 149.8 1315.7 150.6 1316.2 151.4 1315.5 152.2 1315.0 153.0 1315.7 153.8 1315.6 154.6 1316.0 155.4 1315.8 156.2 1315.5 157.0 1315.5 157.8 1315.8 158.6 1316.1 159.4 1315.6 160.2 1315.2 161.0 1315.7 161.8 1316.3 162.6 1316.1 163.4 1316.2 164.2 1316.1 165.0 1315.6 165.8 1315.3 166.6 1315.2 167.4 1315.8 168.2 1315.6 169.0 1315.1 169.8 1315.4 170.6 1315.6 171.4 1315.8 172.2 1315.5 173.0 1314.9 173.8 1315.2 174.6 1315.9 175.4 1316.1 176.2 1315.9 177.0 1315.6 177.8 1315.6 178.6 1315.6 179.4 1315.7 180.2 1315.6 181.0 1315.4 181.8 1315.6 182.6 1315.7 183.4 1315.8 184.2 1316.3 185.0 1316.6 185.8 1316.3 186.6 1315.4 187.4 1314.9 188.2 1315.3 189.0 1315.5 189.8 1315.1 190.6 1315.3 191.4 1316.1 192.2 1315.5 193.0 1314.9 193.8 1315.1 194.6 1315.3 195.4 1315.7 196.2 1316.2 197.0 1316.0 197.8 1315.7 198.6 1315.7 199.4 1316.0 200.2 1316.1 201.0 1316.0 201.8 1315.6 202.6 1315.1 203.4 1315.2 204.2 1315.7 205.0 1316.0 205.8 1315.6 206.6 1315.3 207.4 1315.5 208.2 1315.4 209.0 1315.0 209.8 1315.3 210.6 1316.2 211.4 1316.0 212.2 1315.2 213.0 1315.0 213.8 1314.8 214.6 1315.2 215.4 1315.8 216.2 1315.6 217.0 1315.5 217.8 1315.5 218.6 1315.5 219.4 1315.0 220.2 1314.9 221.0 1315.3 221.8 1315.2 222.6 1315.0 223.4 1315.0 224.2 1315.1 225.0 1315.5 225.8 1315.5 226.6 1315.2 227.4 1315.5 228.2 1315.7 229.0 1316.0 229.8 1315.2 230.6 1315.0 231.4 1315.4 232.2 1315.2 233.0 1315.6 233.8 1315.8 234.6 1315.9 235.4 1315.6 236.2 1315.8 237.0 1315.7 237.8 1315.2 238.6 1315.5 239.4 1315.4 240.2 1315.7 241.0 1316.1 241.8 1316.1 242.6 1315.9 243.4 1315.2 244.2 1315.2 245.0 1315.5 245.8 1315.3 246.6 1315.2 247.4 1315.4 248.2 1315.7 249.0 1315.5 249.8 1315.4 250.6 1315.4 251.4 1314.8 252.2 1314.8 253.0 1314.7 253.8 1314.9 254.6 1315.5 255.4 1315.5 256.2 1315.4 257.0 1315.8 257.8 1315.7 258.6 1315.3 259.4 1315.2 260.2 1314.7 261.0 1315.0 261.8 1314.9 262.6 1314.9 263.4 1315.4 264.2 1315.5 265.0 1315.5 265.8 1314.9 266.6 1315.0 267.4 1315.1 268.2 1315.0 269.0 1315.1 269.8 1315.1 270.6 1315.1 271.4 1314.9 272.2 1314.9 273.0 1314.5 273.8 1314.5 274.6 1314.8 275.4 1315.1 276.2 1315.8 277.0 1314.9 277.8 1314.6 278.6 1315.1 279.4 1314.8 280.2 1315.0 281.0 1315.1 281.8 1314.5 282.6 1314.5 283.4 1315.0 284.2 1315.1 285.0 1314.8 285.8 1314.9 286.6 1315.4 287.4 1315.0 288.2 1314.6 289.0 1314.9 289.8 1314.9 290.6 1315.4 291.4 1315.6 292.2 1314.8 293.0 1314.5 293.8 1314.8 294.6 1315.6 295.4 1315.6 296.2 1315.0 297.0 1315.2 297.8 1315.1 298.6 1315.6 299.4 1315.5 300.2 1315.1 301.0 1315.2 301.8 1315.2 302.6 1314.8 303.4 1315.1 304.2 1315.3 305.0 1314.8 305.8 1314.6 306.6 1314.3 307.4 1314.7 308.2 1315.2 309.0 1315.2 309.8 1315.2 310.6 1315.2 311.4 1314.8 312.2 1314.8 313.0 1315.0 313.8 1314.7 314.6 1314.7 315.4 1315.1 316.2 1314.9 317.0 1314.4 317.8 1314.5 318.6 1315.2 319.4 1314.9 320.2 1314.2 321.0 1314.2 321.8 1314.6 322.6 1314.1 323.4 1313.8 324.2 1314.7 325.0 1314.3 325.8 1314.3 326.6 1314.7 327.4 1314.1 328.2 1314.0 329.0 1313.6 329.8 1313.4 330.6 1314.4 331.4 1314.2 332.2 1314.2 333.0 1314.4 333.8 1314.2 334.6 1314.2 335.4 1313.1 336.2 1312.9 337.0 1313.6 337.8 1313.4 338.6 1312.9 339.4 1313.4 340.2 1313.6 341.0 1312.9 341.8 1312.9 342.6 1313.6 343.4 1313.7 344.2 1313.7 345.0 1314.3 345.8 1314.0 346.6 1313.1 347.4 1312.6 348.2 1313.0 349.0 1313.6 349.8 1313.7 350.6 1313.6 351.4 1313.3 352.2 1313.2 353.0 1313.2 353.8 1312.9 354.6 1312.7 355.4 1312.2 356.2 1312.5 357.0 1312.6 357.8 1312.4 358.6 1313.0 359.4 1313.2 360.2 1313.9 361.0 1314.2 361.8 1313.0 362.6 1313.0 363.4 1313.3 364.2 1312.8 365.0 1313.0 365.8 1312.9 366.6 1311.5 367.4 1312.0 368.2 1312.8 369.0 1313.0 369.8 1313.0 370.6 1312.0 371.4 1312.7 372.2 1312.8 373.0 1312.3 373.8 1313.1 374.6 1313.0 375.4 1312.5 376.2 1312.5 377.0 1312.8 377.8 1312.4 378.6 1312.3 379.4 1312.8 380.2 1313.3 381.0 1313.0 381.8 1311.8 382.6 1312.2 383.4 1312.3 384.2 1312.2 385.0 1312.3 385.8 1312.6 386.6 1312.3 387.4 1311.8 388.2 1311.1 389.0 1310.8 389.8 1312.2 390.6 1312.3 391.4 1311.5 392.2 1311.2 393.0 1311.7 393.8 1312.1 394.6 1311.5 395.4 1311.6 396.2 1312.1 397.0 1312.1 397.8 1311.8 398.6 1312.1 399.4 1312.5 400.2 1311.8 401.0 1311.4 401.8 1311.3 402.6 1311.8 403.4 1311.8 404.2 1311.8 405.0 1312.1 405.8 1312.2 406.6 1312.2 407.4 1311.7 408.2 1310.7 409.0 1310.8 409.8 1311.7 410.6 1311.7 411.4 1311.6 412.2 1311.3 413.0 1310.9 413.8 1310.7 414.6 1311.3 415.4 1311.7 416.2 1311.0 417.0 1310.4 417.8 1310.5 418.6 1311.5 419.4 1311.7 420.2 1310.9 421.0 1311.2 421.8 1312.0 422.6 1311.7 423.4 1311.4 424.2 1311.4 425.0 1311.3 425.8 1311.0 426.6 1310.4 427.4 1310.7 428.2 1311.0 429.0 1311.2 429.8 1310.2 430.6 1309.6 431.4 1310.7 432.2 1310.2 433.0 1310.0 433.8 1310.4 434.6 1310.3 435.4 1309.7 436.2 1309.4 437.0 1310.0 437.8 1310.5 438.6 1310.0 439.4 1309.5 440.2 1309.4 441.0 1309.8 441.8 1309.2 442.6 1308.1 443.4 1308.5 444.2 1308.5 445.0 1308.2 445.8 1308.6 446.6 1309.0 447.4 1308.5 448.2 1308.5 449.0 1308.1 449.8 1308.0 450.6 1308.0 451.4 1307.1 452.2 1308.0 453.0 1308.4 453.8 1307.6 454.6 1307.5 455.4 1308.1 456.2 1308.2 457.0 1307.9 457.8 1308.3 458.6 1307.9 459.4 1307.2 460.2 1307.2 461.0 1307.9 461.8 1308.6 462.6 1308.5 463.4 1308.0 464.2 1307.2 465.0 1307.6 465.8 1307.4 466.6 1307.3 467.4 1307.8 468.2 1307.0 469.0 1306.5 469.8 1306.7 470.6 1307.6 471.4 1308.9 472.2 1307.9 473.0 1306.5 473.8 1305.4 474.6 1305.4 475.4 1306.5 476.2 1305.8 477.0 1306.1 477.8 1305.8 478.6 1305.2 479.4 1306.0 480.2 1305.4 481.0 1305.6 481.8 1306.8 482.6 1305.4 483.4 1304.0 484.2 1304.9 485.0 1305.6 485.8 1304.4 486.6 1304.2 487.4 1304.7 488.2 1304.6 489.0 1305.0 489.8 1305.2 490.6 1305.7 491.4 1306.1 492.2 1305.4 493.0 1305.1 493.8 1305.3 494.6 1305.0 495.4 1303.4 496.2 1303.4 497.0 1304.0 497.8 1304.4 498.6 1304.3 499.4 1303.5 500.2 1303.5 501.0 1304.1 501.8 1303.9 502.6 1302.6 503.4 1302.5 504.2 1302.3 505.0 1302.1 505.8 1302.2 506.6 1302.2 507.4 1303.3 508.2 1302.8 509.0 1301.4 509.8 1301.4 510.6 1301.7 511.4 1301.0 512.2 1299.9 513.0 1300.6 513.8 1301.3 514.6 1301.1 515.4 1300.3 516.2 1299.6 517.0 1300.2 517.8 1301.7 518.6 1301.4 519.4 1300.5 520.2 1300.4 521.0 1299.1 521.8 1298.1 522.6 1298.2 523.4 1298.3 524.2 1298.1 525.0 1296.4 525.8 1297.0 526.6 1299.2 527.4 1297.6 528.2 1296.0 529.0 1296.1 529.8 1296.1 530.6 1294.0 531.4 1294.4 532.2 1295.0 533.0 1294.3 533.8 1294.5 534.6 1292.4 535.4 1291.8 536.2 1292.7 537.0 1291.5 537.8 1289.8 538.6 1289.8 539.4 1287.8 540.2 1289.1 541.0 1291.5 541.8 1288.2 542.6 1288.0 543.4 1285.3 544.2 1281.9 545.0 1285.5 545.8 1286.4 546.6 1277.7 547.4 1267.9 548.2 1268.8 549.0 1276.5 549.8 1276.7 550.6 1271.6 551.4 1272.6 552.2 1268.7 553.0 1265.4 553.8 1268.7 554.6 1267.7 555.4 1264.5 556.2 1258.8 557.0 1257.2 557.8 1255.8 558.6 1256.7 559.4 1267.1 560.2 1255.5 561.0 1232.1 561.8 1230.8 562.6 1239.2 563.4 1242.7 564.2 1243.0 565.0 1233.2 565.8 1223.2 566.6 1229.1 567.4 1225.5 568.2 1223.1 569.0 1225.0 569.8 1224.6 570.6 1226.6 571.4 1226.8 572.2 1227.3 573.0 1224.1 573.8 1223.3 574.6 1225.4 575.4 1225.3 576.2 1227.6 577.0 1225.4 577.8 1219.7 578.6 1217.8 579.4 1218.0 580.2 1220.9 581.0 1218.9 581.8 1220.0 582.6 1222.7 583.4 1220.2 584.2 1217.2 585.0 1218.5 585.8 1223.0 586.6 1219.2 587.4 1220.7 588.2 1228.3 589.0 1226.2 589.8 1221.7 590.6 1226.5 591.4 1227.4 592.2 1216.7 593.0 1211.9 593.8 1212.9 594.6 1212.6 595.4 1208.5 596.2 1210.6 597.0 1214.2 597.8 1213.3 598.6 1214.6 599.4 1216.1 600.2 1216.2 601.0 1207.6 601.8 1208.5 602.6 1213.1 603.4 1209.6 604.2 1212.3 605.0 1216.1 605.8 1211.4 606.6 1217.8 607.4 1219.5 608.2 1220.3 609.0 1224.7 609.8 1225.1 610.6 1221.9 611.4 1214.4 612.2 1221.0 613.0 1222.7 613.8 1216.7 614.6 1212.2 615.4 1211.6 616.2 1205.2 617.0 1194.6 617.8 1197.3 618.6 1195.7 619.4 1190.3 620.2 1191.3 621.0 1191.5 621.8 1188.8 622.6 1191.6 623.4 1198.7 624.2 1203.6 625.0 1201.8 625.8 1196.6 626.6 1193.5 627.4 1196.9 628.2 1196.8 629.0 1198.4 629.8 1213.1" fill="none" stroke="#1454d0" stroke-width="4.7" stroke-linejoin="round" stroke-linecap="round"/>
<path d="M97.0 1315.8 97.8 1315.8 98.6 1316.3 99.4 1316.5 100.2 1315.8 101.0 1315.6 101.8 1315.8 102.6 1315.9 103.4 1315.6 104.2 1315.6 105.0 1316.1 105.8 1316.4 106.6 1316.4 107.4 1316.1 108.2 1315.7 109.0 1316.1 109.8 1316.0 110.6 1315.7 111.4 1316.1 112.2 1315.6 113.0 1315.6 113.8 1315.6 114.6 1315.8 115.4 1316.0 116.2 1316.2 117.0 1315.8 117.8 1315.5 118.6 1315.7 119.4 1315.9 120.2 1315.6 121.0 1315.3 121.8 1315.8 122.6 1315.6 123.4 1315.8 124.2 1316.1 125.0 1316.1 125.8 1316.3 126.6 1315.8 127.4 1315.4 128.2 1315.6 129.0 1316.0 129.8 1316.2 130.6 1315.9 131.4 1315.5 132.2 1315.5 133.0 1315.5 133.8 1315.6 134.6 1315.7 135.4 1316.3 136.2 1316.2 137.0 1315.6 137.8 1315.8 138.6 1315.7 139.4 1315.5 140.2 1315.7 141.0 1316.0 141.8 1315.6 142.6 1315.8 143.4 1316.0 144.2 1315.7 145.0 1316.0 145.8 1316.1 146.6 1316.2 147.4 1316.0 148.2 1315.8 149.0 1315.8 149.8 1315.6 150.6 1315.8 151.4 1315.8 152.2 1315.2 153.0 1315.9 153.8 1316.2 154.6 1315.4 155.4 1315.9 156.2 1316.1 157.0 1315.9 157.8 1315.8 158.6 1315.4 159.4 1315.2 160.2 1314.8 161.0 1315.0 161.8 1315.4 162.6 1315.9 163.4 1316.5 164.2 1316.0 165.0 1315.7 165.8 1315.8 166.6 1315.5 167.4 1315.3 168.2 1314.9 169.0 1315.1 169.8 1315.2 170.6 1315.3 171.4 1315.5 172.2 1315.8 173.0 1316.0 173.8 1315.7 174.6 1315.9 175.4 1316.0 176.2 1315.7 177.0 1315.6 177.8 1315.6 178.6 1315.8 179.4 1316.0 180.2 1315.9 181.0 1315.9 181.8 1315.6 182.6 1315.6 183.4 1315.4 184.2 1315.6 185.0 1315.9 185.8 1315.6 186.6 1315.7 187.4 1315.7 188.2 1315.5 189.0 1315.8 189.8 1315.9 190.6 1315.3 191.4 1315.4 192.2 1315.2 193.0 1315.5 193.8 1315.9 194.6 1315.5 195.4 1316.1 196.2 1316.6 197.0 1316.1 197.8 1315.7 198.6 1315.9 199.4 1316.2 200.2 1315.9 201.0 1315.5 201.8 1315.8 202.6 1315.8 203.4 1315.7 204.2 1315.8 205.0 1315.3 205.8 1315.0 206.6 1314.6 207.4 1314.7 208.2 1315.7 209.0 1315.5 209.8 1315.5 210.6 1316.0 211.4 1315.7 212.2 1315.4 213.0 1315.4 213.8 1315.2 214.6 1315.1 215.4 1315.3 216.2 1315.6 217.0 1315.8 217.8 1315.4 218.6 1315.4 219.4 1315.4 220.2 1315.2 221.0 1315.4 221.8 1315.5 222.6 1315.3 223.4 1315.4 224.2 1315.3 225.0 1315.1 225.8 1315.2 226.6 1315.6 227.4 1315.6 228.2 1315.8 229.0 1315.9 229.8 1314.7 230.6 1314.5 231.4 1315.6 232.2 1315.8 233.0 1315.2 233.8 1315.0 234.6 1315.4 235.4 1315.9 236.2 1315.7 237.0 1315.6 237.8 1315.8 238.6 1315.9 239.4 1315.2 240.2 1315.2 241.0 1315.5 241.8 1315.3 242.6 1315.4 243.4 1315.5 244.2 1314.5 245.0 1314.9 245.8 1315.9 246.6 1315.5 247.4 1315.1 248.2 1315.2 249.0 1315.0 249.8 1315.0 250.6 1315.3 251.4 1315.1 252.2 1314.9 253.0 1314.8 253.8 1315.3 254.6 1315.8 255.4 1315.7 256.2 1315.3 257.0 1315.0 257.8 1315.2 258.6 1315.8 259.4 1315.2 260.2 1315.1 261.0 1314.9 261.8 1314.6 262.6 1315.2 263.4 1314.9 264.2 1314.4 265.0 1314.8 265.8 1315.4 266.6 1315.3 267.4 1315.4 268.2 1315.3 269.0 1315.4 269.8 1315.6 270.6 1315.2 271.4 1315.4 272.2 1315.4 273.0 1315.7 273.8 1316.2 274.6 1315.8 275.4 1315.2 276.2 1314.8 277.0 1314.6 277.8 1314.9 278.6 1315.1 279.4 1315.1 280.2 1315.1 281.0 1315.2 281.8 1314.9 282.6 1314.5 283.4 1315.1 284.2 1315.6 285.0 1315.2 285.8 1315.3 286.6 1315.2 287.4 1314.8 288.2 1314.5 289.0 1314.8 289.8 1315.3 290.6 1315.3 291.4 1315.5 292.2 1315.2 293.0 1315.1 293.8 1315.4 294.6 1315.3 295.4 1314.9 296.2 1315.0 297.0 1315.2 297.8 1315.5 298.6 1315.7 299.4 1315.5 300.2 1315.3 301.0 1315.1 301.8 1314.9 302.6 1315.1 303.4 1315.3 304.2 1315.4 305.0 1314.8 305.8 1314.7 306.6 1314.9 307.4 1314.6 308.2 1314.4 309.0 1314.1 309.8 1314.9 310.6 1315.2 311.4 1314.7 312.2 1314.2 313.0 1313.6 313.8 1313.8 314.6 1314.1 315.4 1314.3 316.2 1314.0 317.0 1313.9 317.8 1314.6 318.6 1314.1 319.4 1313.9 320.2 1313.8 321.0 1313.6 321.8 1313.9 322.6 1314.3 323.4 1313.9 324.2 1313.4 325.0 1313.9 325.8 1313.4 326.6 1313.1 327.4 1313.1 328.2 1312.9 329.0 1313.3 329.8 1313.7 330.6 1314.2 331.4 1314.4 332.2 1313.9 333.0 1313.4 333.8 1312.9 334.6 1312.9 335.4 1312.2 336.2 1312.7 337.0 1313.1 337.8 1312.2 338.6 1312.2 339.4 1312.8 340.2 1313.3 341.0 1312.8 341.8 1312.5 342.6 1312.6 343.4 1312.1 344.2 1312.1 345.0 1312.4 345.8 1311.8 346.6 1312.1 347.4 1312.0 348.2 1311.7 349.0 1311.8 349.8 1311.4 350.6 1311.5 351.4 1311.9 352.2 1311.7 353.0 1311.3 353.8 1312.3 354.6 1312.0 355.4 1311.4 356.2 1311.9 357.0 1311.6 357.8 1311.5 358.6 1311.4 359.4 1311.5 360.2 1311.7 361.0 1311.0 361.8 1311.5 362.6 1311.7 363.4 1311.1 364.2 1310.7 365.0 1310.6 365.8 1310.9 366.6 1311.0 367.4 1311.4 368.2 1310.8 369.0 1310.3 369.8 1311.1 370.6 1311.3 371.4 1310.9 372.2 1311.4 373.0 1311.3 373.8 1310.9 374.6 1310.7 375.4 1311.1 376.2 1311.5 377.0 1310.5 377.8 1310.3 378.6 1310.1 379.4 1310.2 380.2 1310.9 381.0 1310.3 381.8 1309.9 382.6 1309.2 383.4 1309.6 384.2 1310.2 385.0 1309.7 385.8 1310.0 386.6 1309.8 387.4 1309.3 388.2 1309.2 389.0 1308.9 389.8 1310.0 390.6 1310.4 391.4 1309.3 392.2 1309.7 393.0 1308.5 393.8 1308.1 394.6 1309.3 395.4 1308.9 396.2 1309.0 397.0 1308.5 397.8 1308.3 398.6 1309.4 399.4 1308.5 400.2 1307.4 401.0 1308.1 401.8 1308.6 402.6 1308.2 403.4 1308.3 404.2 1308.5 405.0 1307.6 405.8 1307.3 406.6 1307.2 407.4 1306.2 408.2 1305.5 409.0 1306.8 409.8 1307.7 410.6 1308.0 411.4 1307.3 412.2 1306.1 413.0 1306.8 413.8 1306.8 414.6 1306.7 415.4 1306.7 416.2 1306.1 417.0 1304.7 417.8 1304.4 418.6 1306.3 419.4 1307.1 420.2 1306.8 421.0 1306.0 421.8 1305.0 422.6 1304.8 423.4 1304.9 424.2 1305.3 425.0 1305.2 425.8 1306.0 426.6 1305.2 427.4 1304.5 428.2 1304.1 429.0 1304.2 429.8 1304.6 430.6 1303.8 431.4 1304.0 432.2 1304.8 433.0 1304.6 433.8 1303.2 434.6 1302.3 435.4 1302.6 436.2 1302.6 437.0 1302.0 437.8 1302.3 438.6 1302.8 439.4 1302.3 440.2 1302.1 441.0 1303.4 441.8 1301.9 442.6 1301.5 443.4 1303.6 444.2 1302.2 445.0 1301.1 445.8 1300.4 446.6 1300.1 447.4 1300.6 448.2 1300.4 449.0 1299.8 449.8 1298.9 450.6 1299.0 451.4 1298.9 452.2 1298.6 453.0 1298.8 453.8 1298.3 454.6 1298.2 455.4 1299.1 456.2 1297.4 457.0 1297.0 457.8 1297.9 458.6 1296.8 459.4 1296.2 460.2 1296.2 461.0 1296.5 461.8 1297.2 462.6 1296.6 463.4 1296.9 464.2 1297.1 465.0 1296.6 465.8 1297.8 466.6 1295.9 467.4 1295.6 468.2 1298.1 469.0 1296.5 469.8 1294.8 470.6 1294.7 471.4 1294.0 472.2 1293.6 473.0 1292.7 473.8 1293.2 474.6 1294.2 475.4 1293.1 476.2 1293.4 477.0 1294.1 477.8 1293.0 478.6 1290.9 479.4 1291.8 480.2 1293.5 481.0 1289.1 481.8 1286.2 482.6 1287.6 483.4 1289.3 484.2 1290.8 485.0 1289.2 485.8 1287.8 486.6 1288.5 487.4 1286.5 488.2 1286.0 489.0 1286.7 489.8 1286.0 490.6 1286.4 491.4 1285.2 492.2 1284.5 493.0 1286.1 493.8 1287.6 494.6 1287.6 495.4 1288.9 496.2 1289.1 497.0 1287.0 497.8 1287.4 498.6 1288.5 499.4 1288.7 500.2 1289.9 501.0 1290.5 501.8 1290.4 502.6 1290.5 503.4 1289.5 504.2 1290.1 505.0 1290.2 505.8 1289.7 506.6 1289.2 507.4 1289.3 508.2 1290.1 509.0 1290.6 509.8 1292.7 510.6 1294.8 511.4 1294.2 512.2 1292.2 513.0 1292.2 513.8 1292.7 514.6 1291.6 515.4 1291.5 516.2 1291.8 517.0 1291.5 517.8 1292.9 518.6 1293.0 519.4 1291.5 520.2 1292.6 521.0 1292.5 521.8 1291.0 522.6 1290.9 523.4 1292.3 524.2 1293.4 525.0 1293.3 525.8 1292.7 526.6 1291.7 527.4 1292.9 528.2 1292.5 529.0 1291.5 529.8 1290.6 530.6 1289.6 531.4 1290.2 532.2 1291.4 533.0 1287.3 533.8 1286.7 534.6 1288.5 535.4 1286.4 536.2 1287.9 537.0 1285.7 537.8 1283.8 538.6 1284.8 539.4 1284.0 540.2 1281.5 541.0 1281.2 541.8 1281.7 542.6 1278.6 543.4 1279.8 544.2 1281.7 545.0 1275.5 545.8 1273.2 546.6 1278.9 547.4 1282.1 548.2 1279.3 549.0 1273.5 549.8 1272.0 550.6 1275.8 551.4 1276.3 552.2 1273.4 553.0 1270.9 553.8 1272.2 554.6 1272.4 555.4 1271.5 556.2 1273.1 557.0 1275.7 557.8 1275.6 558.6 1273.9 559.4 1271.3 560.2 1273.1 561.0 1277.6 561.8 1276.2 562.6 1272.2 563.4 1271.2 564.2 1274.1 565.0 1277.4 565.8 1278.0 566.6 1276.2 567.4 1276.4 568.2 1277.1 569.0 1274.0 569.8 1270.3 570.6 1269.8 571.4 1270.3 572.2 1271.2 573.0 1271.4 573.8 1270.0 574.6 1269.6 575.4 1269.5 576.2 1272.3 577.0 1272.5 577.8 1272.8 578.6 1276.0 579.4 1269.6 580.2 1268.1 581.0 1270.2 581.8 1266.9 582.6 1267.3 583.4 1270.0 584.2 1269.9 585.0 1269.1 585.8 1268.8 586.6 1271.1 587.4 1271.3 588.2 1270.1 589.0 1270.5 589.8 1270.4 590.6 1271.1 591.4 1268.6 592.2 1270.0 593.0 1273.6 593.8 1272.0 594.6 1272.9 595.4 1269.3 596.2 1271.3 597.0 1270.9 597.8 1267.0 598.6 1269.0 599.4 1270.0 600.2 1268.8 601.0 1263.0 601.8 1263.0 602.6 1260.3 603.4 1258.6 604.2 1261.9 605.0 1264.8 605.8 1264.6 606.6 1259.7 607.4 1256.8 608.2 1253.4 609.0 1252.2 609.8 1255.1 610.6 1250.9 611.4 1246.4 612.2 1243.5 613.0 1240.9 613.8 1244.7 614.6 1238.2 615.4 1233.0 616.2 1235.6 617.0 1238.3 617.8 1239.0 618.6 1232.9 619.4 1222.7 620.2 1215.7 621.0 1220.4 621.8 1228.1 622.6 1224.2 623.4 1222.9 624.2 1222.8 625.0 1219.0 625.8 1224.6 626.6 1223.9 627.4 1222.4 628.2 1226.5 629.0 1226.3 629.8 1230.2" fill="none" stroke="#1874b8" stroke-width="4.6" stroke-linejoin="round" stroke-linecap="round"/>
<path d="M97.0 1315.8 97.8 1315.5 98.6 1315.6 99.4 1316.0 100.2 1316.3 101.0 1316.3 101.8 1315.9 102.6 1315.7 103.4 1316.0 104.2 1316.5 105.0 1316.4 105.8 1315.7 106.6 1315.5 107.4 1316.1 108.2 1316.3 109.0 1315.6 109.8 1315.5 110.6 1315.7 111.4 1315.5 112.2 1315.7 113.0 1315.7 113.8 1315.9 114.6 1316.0 115.4 1315.8 116.2 1315.9 117.0 1316.2 117.8 1315.7 118.6 1315.5 119.4 1315.6 120.2 1315.6 121.0 1315.6 121.8 1315.6 122.6 1315.9 123.4 1315.8 124.2 1315.6 125.0 1315.5 125.8 1315.5 126.6 1315.3 127.4 1315.6 128.2 1315.7 129.0 1315.9 129.8 1316.3 130.6 1315.6 131.4 1315.4 132.2 1315.6 133.0 1315.6 133.8 1315.8 134.6 1315.4 135.4 1315.3 136.2 1315.7 137.0 1316.0 137.8 1315.8 138.6 1315.7 139.4 1315.7 140.2 1315.5 141.0 1315.5 141.8 1315.9 142.6 1316.2 143.4 1316.4 144.2 1316.5 145.0 1316.1 145.8 1316.1 146.6 1315.8 147.4 1315.6 148.2 1316.0 149.0 1316.0 149.8 1315.7 150.6 1315.8 151.4 1315.9 152.2 1315.8 153.0 1315.6 153.8 1315.7 154.6 1315.8 155.4 1315.5 156.2 1315.7 157.0 1315.6 157.8 1315.1 158.6 1315.1 159.4 1315.6 160.2 1315.8 161.0 1315.4 161.8 1315.2 162.6 1315.5 163.4 1315.5 164.2 1315.1 165.0 1315.5 165.8 1315.5 166.6 1315.3 167.4 1315.6 168.2 1315.5 169.0 1315.5 169.8 1315.9 170.6 1315.8 171.4 1315.2 172.2 1314.9 173.0 1315.2 173.8 1315.5 174.6 1315.6 175.4 1315.6 176.2 1315.4 177.0 1315.3 177.8 1315.3 178.6 1315.5 179.4 1315.5 180.2 1315.5 181.0 1316.0 181.8 1316.1 182.6 1315.3 183.4 1315.6 184.2 1316.0 185.0 1315.4 185.8 1315.6 186.6 1315.8 187.4 1315.4 188.2 1315.3 189.0 1315.2 189.8 1315.3 190.6 1315.8 191.4 1315.7 192.2 1315.6 193.0 1316.1 193.8 1315.7 194.6 1315.3 195.4 1315.5 196.2 1315.2 197.0 1315.0 197.8 1315.3 198.6 1315.6 199.4 1315.5 200.2 1315.4 201.0 1315.7 201.8 1315.7 202.6 1315.7 203.4 1315.8 204.2 1315.7 205.0 1316.0 205.8 1316.0 206.6 1315.6 207.4 1315.6 208.2 1315.4 209.0 1315.2 209.8 1315.5 210.6 1315.8 211.4 1315.9 212.2 1315.8 213.0 1315.1 213.8 1315.5 214.6 1316.1 215.4 1315.4 216.2 1315.5 217.0 1315.7 217.8 1315.0 218.6 1314.9 219.4 1315.2 220.2 1315.6 221.0 1315.6 221.8 1315.1 222.6 1315.3 223.4 1315.2 224.2 1315.1 225.0 1315.2 225.8 1315.7 226.6 1315.8 227.4 1315.3 228.2 1314.9 229.0 1315.1 229.8 1315.2 230.6 1315.0 231.4 1314.8 232.2 1315.4 233.0 1316.0 233.8 1315.3 234.6 1315.3 235.4 1315.8 236.2 1315.1 237.0 1314.6 237.8 1315.1 238.6 1315.4 239.4 1315.4 240.2 1315.2 241.0 1315.2 241.8 1315.7 242.6 1316.2 243.4 1315.7 244.2 1314.9 245.0 1315.7 245.8 1315.7 246.6 1314.9 247.4 1315.1 248.2 1315.4 249.0 1315.6 249.8 1315.6 250.6 1315.1 251.4 1315.2 252.2 1315.4 253.0 1315.7 253.8 1315.7 254.6 1314.9 255.4 1314.7 256.2 1315.3 257.0 1315.4 257.8 1314.6 258.6 1314.6 259.4 1315.1 260.2 1315.5 261.0 1315.2 261.8 1315.1 262.6 1315.5 263.4 1315.2 264.2 1315.0 265.0 1315.5 265.8 1316.0 266.6 1315.8 267.4 1315.4 268.2 1315.5 269.0 1315.4 269.8 1315.1 270.6 1314.9 271.4 1314.9 272.2 1315.1 273.0 1315.8 273.8 1315.7 274.6 1315.4 275.4 1315.7 276.2 1315.4 277.0 1315.3 277.8 1314.9 278.6 1314.6 279.4 1315.3 280.2 1314.7 281.0 1314.2 281.8 1315.1 282.6 1315.3 283.4 1314.8 284.2 1314.7 285.0 1314.9 285.8 1315.1 286.6 1315.3 287.4 1315.1 288.2 1314.8 289.0 1314.9 289.8 1315.4 290.6 1315.4 291.4 1315.3 292.2 1315.2 293.0 1314.7 293.8 1314.6 294.6 1315.0 295.4 1315.2 296.2 1314.8 297.0 1314.4 297.8 1314.6 298.6 1315.0 299.4 1314.8 300.2 1314.8 301.0 1315.0 301.8 1315.1 302.6 1315.2 303.4 1315.4 304.2 1315.4 305.0 1315.4 305.8 1314.9 306.6 1314.7 307.4 1314.9 308.2 1314.8 309.0 1314.8 309.8 1315.1 310.6 1314.7 311.4 1314.0 312.2 1314.4 313.0 1314.9 313.8 1314.7 314.6 1314.4 315.4 1314.6 316.2 1315.1 317.0 1314.6 317.8 1314.3 318.6 1314.3 319.4 1314.3 320.2 1314.2 321.0 1313.9 321.8 1314.3 322.6 1314.6 323.4 1314.2 324.2 1314.2 325.0 1313.6 325.8 1313.7 326.6 1314.2 327.4 1313.9 328.2 1314.0 329.0 1313.8 329.8 1314.0 330.6 1314.0 331.4 1313.5 332.2 1313.5 333.0 1313.7 333.8 1314.1 334.6 1313.9 335.4 1313.3 336.2 1313.7 337.0 1313.8 337.8 1313.8 338.6 1314.0 339.4 1313.5 340.2 1313.3 341.0 1313.6 341.8 1314.0 342.6 1313.8 343.4 1313.8 344.2 1314.4 345.0 1314.0 345.8 1313.1 346.6 1312.8 347.4 1312.7 348.2 1312.8 349.0 1313.0 349.8 1312.8 350.6 1313.1 351.4 1312.7 352.2 1312.2 353.0 1313.4 353.8 1314.1 354.6 1313.6 355.4 1313.4 356.2 1313.8 357.0 1313.8 357.8 1313.2 358.6 1312.7 359.4 1312.6 360.2 1312.8 361.0 1312.6 361.8 1312.5 362.6 1312.7 363.4 1312.8 364.2 1313.0 365.0 1312.7 365.8 1312.4 366.6 1313.3 367.4 1313.3 368.2 1313.1 369.0 1313.4 369.8 1313.4 370.6 1313.3 371.4 1312.4 372.2 1312.1 373.0 1312.4 373.8 1312.0 374.6 1311.9 375.4 1312.0 376.2 1311.6 377.0 1312.0 377.8 1312.5 378.6 1312.2 379.4 1311.9 380.2 1311.9 381.0 1312.0 381.8 1312.0 382.6 1312.1 383.4 1312.1 384.2 1312.2 385.0 1312.4 385.8 1312.4 386.6 1312.0 387.4 1311.7 388.2 1312.0 389.0 1312.1 389.8 1311.9 390.6 1311.2 391.4 1310.3 392.2 1311.2 393.0 1312.1 393.8 1312.4 394.6 1312.5 395.4 1312.1 396.2 1311.9 397.0 1311.3 397.8 1311.6 398.6 1311.8 399.4 1311.7 400.2 1311.9 401.0 1311.8 401.8 1312.0 402.6 1311.7 403.4 1311.3 404.2 1311.1 405.0 1311.1 405.8 1311.9 406.6 1311.9 407.4 1311.7 408.2 1312.0 409.0 1311.9 409.8 1311.8 410.6 1311.2 411.4 1311.1 412.2 1311.9 413.0 1311.5 413.8 1311.0 414.6 1310.9 415.4 1311.0 416.2 1310.9 417.0 1311.3 417.8 1311.5 418.6 1310.4 419.4 1311.1 420.2 1311.9 421.0 1311.4 421.8 1311.2 422.6 1310.9 423.4 1310.5 424.2 1310.9 425.0 1311.2 425.8 1311.2 426.6 1310.9 427.4 1310.4 428.2 1310.2 429.0 1310.6 429.8 1311.2 430.6 1310.6 431.4 1309.9 432.2 1310.4 433.0 1310.7 433.8 1310.5 434.6 1309.7 435.4 1309.2 436.2 1309.5 437.0 1309.6 437.8 1309.1 438.6 1309.5 439.4 1310.1 440.2 1309.8 441.0 1309.1 441.8 1308.9 442.6 1309.8 443.4 1309.2 444.2 1308.7 445.0 1309.5 445.8 1309.1 446.6 1309.1 447.4 1309.1 448.2 1309.2 449.0 1309.5 449.8 1309.1 450.6 1309.6 451.4 1309.8 452.2 1309.4 453.0 1308.6 453.8 1307.7 454.6 1308.5 455.4 1309.0 456.2 1308.6 457.0 1308.5 457.8 1308.1 458.6 1307.8 459.4 1307.7 460.2 1307.7 461.0 1307.9 461.8 1307.4 462.6 1307.6 463.4 1308.5 464.2 1308.0 465.0 1307.0 465.8 1307.8 466.6 1307.8 467.4 1308.0 468.2 1308.2 469.0 1307.5 469.8 1307.5 470.6 1308.1 471.4 1308.2 472.2 1307.6 473.0 1307.4 473.8 1306.4 474.6 1305.8 475.4 1307.1 476.2 1307.8 477.0 1307.3 477.8 1307.2 478.6 1306.6 479.4 1306.5 480.2 1306.2 481.0 1306.2 481.8 1306.2 482.6 1305.9 483.4 1306.4 484.2 1306.2 485.0 1306.3 485.8 1306.6 486.6 1306.4 487.4 1306.7 488.2 1305.8 489.0 1304.4 489.8 1305.3 490.6 1306.4 491.4 1307.0 492.2 1306.9 493.0 1306.3 493.8 1305.4 494.6 1305.3 495.4 1306.0 496.2 1305.1 497.0 1304.3 497.8 1304.7 498.6 1305.2 499.4 1303.8 500.2 1303.5 501.0 1305.0 501.8 1304.7 502.6 1304.5 503.4 1304.7 504.2 1303.9 505.0 1303.7 505.8 1303.9 506.6 1303.0 507.4 1303.1 508.2 1304.3 509.0 1303.2 509.8 1301.3 510.6 1301.1 511.4 1302.9 512.2 1303.5 513.0 1302.2 513.8 1301.8 514.6 1301.1 515.4 1300.2 516.2 1300.7 517.0 1301.9 517.8 1300.4 518.6 1299.5 519.4 1300.1 520.2 1300.5 521.0 1300.9 521.8 1301.5 522.6 1302.0 523.4 1301.8 524.2 1301.6 525.0 1300.1 525.8 1298.8 526.6 1300.1 527.4 1300.4 528.2 1299.6 529.0 1297.9 529.8 1296.6 530.6 1298.1 531.4 1299.4 532.2 1298.6 533.0 1297.9 533.8 1296.8 534.6 1297.2 535.4 1298.9 536.2 1299.6 537.0 1298.7 537.8 1297.3 538.6 1296.4 539.4 1297.2 540.2 1299.1 541.0 1297.3 541.8 1295.6 542.6 1295.8 543.4 1294.5 544.2 1291.8 545.0 1291.4 545.8 1293.7 546.6 1292.3 547.4 1290.4 548.2 1288.2 549.0 1289.7 549.8 1292.9 550.6 1291.2 551.4 1289.9 552.2 1288.8 553.0 1288.5 553.8 1288.3 554.6 1287.7 555.4 1287.5 556.2 1287.4 557.0 1288.6 557.8 1286.4 558.6 1284.5 559.4 1284.9 560.2 1282.6 561.0 1279.3 561.8 1280.8 562.6 1281.9 563.4 1279.1 564.2 1280.4 565.0 1279.1 565.8 1277.6 566.6 1278.3 567.4 1278.7 568.2 1279.6 569.0 1276.2 569.8 1275.2 570.6 1275.7 571.4 1273.6 572.2 1272.6 573.0 1272.9 573.8 1270.4 574.6 1268.7 575.4 1272.1 576.2 1270.6 577.0 1271.5 577.8 1270.2 578.6 1266.7 579.4 1266.6 580.2 1264.6 581.0 1263.0 581.8 1262.6 582.6 1263.9 583.4 1262.9 584.2 1264.0 585.0 1267.4 585.8 1263.4 586.6 1262.0 587.4 1264.5 588.2 1263.3 589.0 1266.6 589.8 1268.0 590.6 1264.3 591.4 1262.3 592.2 1257.8 593.0 1258.4 593.8 1260.5 594.6 1259.2 595.4 1260.3 596.2 1261.3 597.0 1264.4 597.8 1264.1 598.6 1262.5 599.4 1260.1 600.2 1258.3 601.0 1259.8 601.8 1256.3 602.6 1258.2 603.4 1259.2 604.2 1253.3 605.0 1257.1 605.8 1262.7 606.6 1258.4 607.4 1253.5 608.2 1259.8 609.0 1260.8 609.8 1251.8 610.6 1250.2 611.4 1256.9 612.2 1258.8 613.0 1256.3 613.8 1257.0 614.6 1256.5 615.4 1253.4 616.2 1249.1 617.0 1250.2 617.8 1250.7 618.6 1249.5 619.4 1254.1 620.2 1254.7 621.0 1252.5 621.8 1251.9 622.6 1253.5 623.4 1255.3 624.2 1252.0 625.0 1251.0 625.8 1256.7 626.6 1258.0 627.4 1253.9 628.2 1251.7 629.0 1249.7 629.8 1249.9" fill="none" stroke="#1e9aa8" stroke-width="4.6" stroke-linejoin="round" stroke-linecap="round"/>
<path d="M97.0 1316.2 97.8 1316.6 98.6 1315.8 99.4 1315.4 100.2 1316.2 101.0 1316.5 101.8 1316.4 102.6 1316.4 103.4 1316.3 104.2 1316.1 105.0 1316.1 105.8 1315.8 106.6 1315.6 107.4 1315.9 108.2 1315.9 109.0 1316.1 109.8 1316.5 110.6 1316.6 111.4 1316.3 112.2 1316.2 113.0 1316.0 113.8 1315.6 114.6 1315.8 115.4 1316.0 116.2 1315.6 117.0 1315.2 117.8 1315.6 118.6 1315.8 119.4 1316.0 120.2 1316.2 121.0 1316.0 121.8 1316.0 122.6 1316.1 123.4 1316.0 124.2 1316.1 125.0 1316.0 125.8 1315.7 126.6 1315.7 127.4 1315.8 128.2 1316.0 129.0 1315.7 129.8 1316.1 130.6 1316.2 131.4 1315.7 132.2 1315.9 133.0 1316.3 133.8 1316.1 134.6 1315.9 135.4 1316.0 136.2 1315.5 137.0 1315.7 137.8 1316.2 138.6 1316.0 139.4 1315.7 140.2 1315.5 141.0 1315.2 141.8 1315.4 142.6 1315.8 143.4 1315.8 144.2 1315.7 145.0 1316.0 145.8 1316.0 146.6 1315.9 147.4 1316.2 148.2 1315.8 149.0 1315.6 149.8 1315.5 150.6 1315.4 151.4 1315.9 152.2 1315.7 153.0 1315.4 153.8 1315.5 154.6 1315.6 155.4 1315.6 156.2 1315.5 157.0 1315.6 157.8 1315.6 158.6 1315.4 159.4 1315.5 160.2 1315.9 161.0 1315.6 161.8 1315.3 162.6 1315.8 163.4 1315.8 164.2 1315.3 165.0 1315.5 165.8 1315.7 166.6 1315.8 167.4 1315.6 168.2 1315.5 169.0 1315.8 169.8 1316.0 170.6 1315.6 171.4 1315.7 172.2 1315.7 173.0 1315.1 173.8 1315.1 174.6 1315.4 175.4 1315.6 176.2 1315.6 177.0 1315.8 177.8 1315.8 178.6 1315.6 179.4 1315.9 180.2 1315.5 181.0 1314.8 181.8 1315.1 182.6 1315.2 183.4 1314.8 184.2 1314.9 185.0 1315.2 185.8 1314.9 186.6 1315.2 187.4 1316.0 188.2 1316.1 189.0 1315.7 189.8 1315.5 190.6 1315.3 191.4 1315.3 192.2 1315.4 193.0 1315.5 193.8 1315.5 194.6 1315.7 195.4 1315.9 196.2 1316.0 197.0 1315.4 197.8 1314.8 198.6 1315.2 199.4 1315.5 200.2 1315.5 201.0 1315.6 201.8 1315.6 202.6 1315.7 203.4 1315.8 204.2 1315.7 205.0 1315.4 205.8 1315.6 206.6 1315.9 207.4 1315.7 208.2 1315.8 209.0 1315.8 209.8 1315.7 210.6 1315.5 211.4 1315.5 212.2 1315.3 213.0 1315.2 213.8 1315.3 214.6 1315.4 215.4 1315.2 216.2 1315.7 217.0 1315.7 217.8 1315.1 218.6 1315.9 219.4 1315.8 220.2 1315.4 221.0 1315.7 221.8 1315.5 222.6 1315.0 223.4 1314.7 224.2 1315.0 225.0 1315.5 225.8 1315.0 226.6 1314.9 227.4 1315.2 228.2 1315.4 229.0 1315.6 229.8 1315.2 230.6 1315.1 231.4 1315.3 232.2 1315.6 233.0 1316.3 233.8 1316.1 234.6 1315.4 235.4 1315.5 236.2 1315.5 237.0 1315.5 237.8 1315.6 238.6 1315.4 239.4 1315.2 240.2 1315.2 241.0 1315.6 241.8 1315.5 242.6 1315.7 243.4 1315.9 244.2 1315.5 245.0 1315.7 245.8 1315.4 246.6 1315.3 247.4 1316.0 248.2 1315.6 249.0 1315.2 249.8 1315.5 250.6 1315.8 251.4 1315.7 252.2 1315.4 253.0 1315.5 253.8 1315.5 254.6 1315.1 255.4 1315.0 256.2 1315.2 257.0 1314.9 257.8 1315.0 258.6 1315.2 259.4 1315.3 260.2 1315.1 261.0 1314.7 261.8 1314.7 262.6 1315.2 263.4 1315.8 264.2 1315.8 265.0 1315.9 265.8 1315.7 266.6 1315.6 267.4 1315.0 268.2 1314.9 269.0 1315.2 269.8 1315.0 270.6 1314.9 271.4 1315.2 272.2 1315.5 273.0 1314.9 273.8 1315.0 274.6 1315.3 275.4 1314.9 276.2 1314.9 277.0 1314.9 277.8 1314.5 278.6 1314.3 279.4 1314.9 280.2 1315.3 281.0 1315.2 281.8 1314.9 282.6 1314.7 283.4 1315.0 284.2 1315.2 285.0 1315.0 285.8 1314.6 286.6 1315.1 287.4 1315.3 288.2 1315.0 289.0 1314.8 289.8 1314.7 290.6 1315.3 291.4 1315.6 292.2 1315.2 293.0 1314.7 293.8 1315.1 294.6 1315.7 295.4 1315.6 296.2 1315.5 297.0 1314.8 297.8 1314.3 298.6 1314.8 299.4 1315.1 300.2 1315.0 301.0 1314.9 301.8 1314.7 302.6 1314.9 303.4 1314.9 304.2 1314.8 305.0 1314.9 305.8 1314.9 306.6 1315.1 307.4 1315.3 308.2 1314.7 309.0 1314.3 309.8 1314.5 310.6 1314.7 311.4 1314.5 312.2 1314.5 313.0 1314.9 313.8 1314.8 314.6 1314.4 315.4 1314.2 316.2 1314.2 317.0 1314.3 317.8 1314.7 318.6 1314.2 319.4 1313.8 320.2 1314.1 321.0 1314.1 321.8 1314.5 322.6 1314.6 323.4 1314.2 324.2 1314.0 325.0 1314.3 325.8 1314.6 326.6 1314.3 327.4 1314.3 328.2 1313.6 329.0 1313.1 329.8 1313.3 330.6 1313.8 331.4 1313.9 332.2 1313.9 333.0 1314.1 333.8 1314.0 334.6 1314.1 335.4 1314.1 336.2 1313.4 337.0 1313.2 337.8 1314.0 338.6 1313.9 339.4 1313.8 340.2 1314.4 341.0 1313.9 341.8 1313.5 342.6 1313.3 343.4 1313.4 344.2 1313.5 345.0 1313.0 345.8 1313.0 346.6 1313.2 347.4 1313.2 348.2 1313.3 349.0 1313.4 349.8 1313.1 350.6 1313.4 351.4 1314.2 352.2 1313.9 353.0 1313.1 353.8 1312.8 354.6 1313.1 355.4 1313.2 356.2 1313.1 357.0 1312.6 357.8 1312.2 358.6 1312.4 359.4 1313.0 360.2 1313.2 361.0 1312.2 361.8 1312.4 362.6 1313.3 363.4 1313.5 364.2 1312.5 365.0 1312.1 365.8 1313.1 366.6 1313.2 367.4 1312.9 368.2 1312.2 369.0 1312.1 369.8 1312.5 370.6 1312.7 371.4 1313.0 372.2 1312.7 373.0 1312.7 373.8 1312.5 374.6 1312.0 375.4 1312.3 376.2 1312.6 377.0 1312.5 377.8 1312.7 378.6 1312.8 379.4 1312.2 380.2 1312.1 381.0 1312.1 381.8 1311.8 382.6 1311.6 383.4 1312.2 384.2 1312.8 385.0 1312.0 385.8 1312.0 386.6 1312.7 387.4 1312.3 388.2 1312.1 389.0 1312.8 389.8 1312.7 390.6 1312.2 391.4 1312.4 392.2 1312.0 393.0 1311.2 393.8 1311.1 394.6 1311.4 395.4 1312.1 396.2 1311.8 397.0 1311.1 397.8 1311.4 398.6 1311.7 399.4 1311.8 400.2 1311.8 401.0 1311.6 401.8 1311.5 402.6 1311.6 403.4 1311.3 404.2 1310.9 405.0 1311.7 405.8 1312.9 406.6 1312.7 407.4 1311.3 408.2 1310.9 409.0 1311.8 409.8 1311.2 410.6 1310.7 411.4 1311.0 412.2 1310.9 413.0 1310.7 413.8 1311.3 414.6 1311.4 415.4 1311.0 416.2 1311.6 417.0 1311.4 417.8 1310.3 418.6 1310.7 419.4 1311.9 420.2 1311.7 421.0 1311.1 421.8 1310.6 422.6 1310.2 423.4 1311.0 424.2 1311.6 425.0 1311.3 425.8 1310.7 426.6 1310.0 427.4 1309.8 428.2 1309.8 429.0 1310.3 429.8 1310.4 430.6 1309.9 431.4 1310.4 432.2 1310.7 433.0 1310.4 433.8 1310.3 434.6 1310.3 435.4 1309.4 436.2 1309.3 437.0 1309.8 437.8 1309.6 438.6 1309.8 439.4 1309.7 440.2 1310.0 441.0 1310.0 441.8 1309.6 442.6 1309.8 443.4 1309.6 444.2 1309.7 445.0 1309.9 445.8 1309.9 446.6 1309.3 447.4 1308.7 448.2 1308.7 449.0 1309.0 449.8 1308.5 450.6 1308.1 451.4 1308.3 452.2 1308.3 453.0 1308.4 453.8 1308.8 454.6 1309.3 455.4 1309.3 456.2 1308.7 457.0 1308.0 457.8 1308.2 458.6 1309.1 459.4 1309.7 460.2 1308.9 461.0 1308.4 461.8 1309.4 462.6 1308.7 463.4 1307.8 464.2 1308.6 465.0 1308.9 465.8 1308.0 466.6 1308.3 467.4 1309.0 468.2 1308.6 469.0 1307.7 469.8 1307.4 470.6 1308.3 471.4 1308.5 472.2 1308.2 473.0 1307.9 473.8 1308.1 474.6 1308.1 475.4 1307.8 476.2 1308.0 477.0 1307.2 477.8 1307.6 478.6 1307.4 479.4 1306.5 480.2 1307.0 481.0 1306.7 481.8 1305.9 482.6 1306.3 483.4 1306.8 484.2 1306.7 485.0 1307.0 485.8 1308.0 486.6 1307.6 487.4 1307.6 488.2 1307.8 489.0 1306.7 489.8 1305.5 490.6 1304.9 491.4 1306.0 492.2 1306.8 493.0 1306.3 493.8 1306.1 494.6 1306.8 495.4 1306.4 496.2 1305.3 497.0 1305.1 497.8 1305.6 498.6 1306.0 499.4 1306.5 500.2 1305.9 501.0 1305.4 501.8 1305.6 502.6 1305.5 503.4 1306.0 504.2 1306.5 505.0 1305.7 505.8 1304.7 506.6 1304.5 507.4 1304.4 508.2 1304.4 509.0 1304.5 509.8 1304.3 510.6 1303.8 511.4 1303.4 512.2 1303.8 513.0 1305.4 513.8 1305.5 514.6 1304.6 515.4 1304.4 516.2 1303.9 517.0 1304.6 517.8 1304.4 518.6 1302.9 519.4 1302.3 520.2 1302.8 521.0 1302.8 521.8 1302.1 522.6 1302.1 523.4 1301.8 524.2 1302.2 525.0 1301.9 525.8 1302.8 526.6 1302.2 527.4 1300.2 528.2 1301.5 529.0 1302.4 529.8 1302.0 530.6 1301.9 531.4 1302.0 532.2 1301.8 533.0 1302.0 533.8 1301.9 534.6 1301.5 535.4 1301.1 536.2 1301.6 537.0 1301.4 537.8 1301.2 538.6 1302.0 539.4 1301.8 540.2 1301.5 541.0 1301.0 541.8 1300.3 542.6 1300.8 543.4 1300.6 544.2 1300.5 545.0 1301.1 545.8 1300.5 546.6 1299.2 547.4 1299.5 548.2 1298.9 549.0 1298.6 549.8 1300.0 550.6 1299.9 551.4 1299.5 552.2 1299.6 553.0 1299.9 553.8 1299.8 554.6 1299.1 555.4 1296.8 556.2 1296.2 557.0 1298.5 557.8 1298.6 558.6 1297.6 559.4 1298.2 560.2 1298.0 561.0 1297.1 561.8 1297.9 562.6 1297.6 563.4 1297.2 564.2 1297.4 565.0 1296.4 565.8 1295.9 566.6 1296.3 567.4 1296.1 568.2 1296.9 569.0 1297.1 569.8 1295.9 570.6 1294.8 571.4 1294.9 572.2 1296.5 573.0 1296.4 573.8 1295.9 574.6 1296.3 575.4 1295.3 576.2 1294.2 577.0 1294.8 577.8 1294.2 578.6 1294.0 579.4 1294.3 580.2 1294.3 581.0 1294.7 581.8 1293.9 582.6 1294.8 583.4 1294.1 584.2 1293.2 585.0 1293.6 585.8 1293.8 586.6 1294.4 587.4 1294.1 588.2 1293.6 589.0 1293.0 589.8 1293.1 590.6 1292.9 591.4 1292.1 592.2 1292.0 593.0 1290.3 593.8 1288.7 594.6 1289.7 595.4 1290.2 596.2 1290.7 597.0 1288.1 597.8 1286.7 598.6 1289.6 599.4 1289.0 600.2 1288.3 601.0 1287.9 601.8 1286.6 602.6 1287.1 603.4 1285.4 604.2 1281.7 605.0 1283.0 605.8 1284.9 606.6 1283.6 607.4 1283.0 608.2 1282.9 609.0 1281.1 609.8 1280.1 610.6 1280.4 611.4 1277.4 612.2 1275.9 613.0 1277.1 613.8 1276.5 614.6 1277.5 615.4 1278.2 616.2 1278.1 617.0 1280.2 617.8 1277.9 618.6 1274.7 619.4 1278.5 620.2 1281.1 621.0 1281.9 621.8 1285.4 622.6 1285.0 623.4 1284.7 624.2 1285.7 625.0 1284.5 625.8 1285.4 626.6 1286.5 627.4 1287.4 628.2 1287.7 629.0 1287.7 629.8 1288.2" fill="none" stroke="#24b49a" stroke-width="4.5" stroke-linejoin="round" stroke-linecap="round"/>
<path d="M97.0 1316.0 97.8 1316.0 98.6 1316.0 99.4 1315.8 100.2 1315.8 101.0 1315.7 101.8 1315.8 102.6 1316.2 103.4 1316.1 104.2 1315.8 105.0 1315.9 105.8 1316.1 106.6 1316.0 107.4 1315.8 108.2 1315.8 109.0 1316.0 109.8 1315.8 110.6 1315.6 111.4 1315.5 112.2 1315.4 113.0 1315.4 113.8 1315.5 114.6 1315.6 115.4 1315.7 116.2 1315.9 117.0 1315.8 117.8 1315.4 118.6 1315.4 119.4 1315.7 120.2 1315.8 121.0 1315.6 121.8 1315.5 122.6 1315.6 123.4 1315.5 124.2 1315.8 125.0 1315.8 125.8 1315.7 126.6 1315.9 127.4 1315.8 128.2 1315.7 129.0 1315.8 129.8 1315.8 130.6 1315.6 131.4 1315.6 132.2 1316.0 133.0 1315.7 133.8 1315.6 134.6 1315.9 135.4 1315.6 136.2 1315.9 137.0 1316.1 137.8 1315.6 138.6 1315.5 139.4 1315.8 140.2 1315.7 141.0 1315.8 141.8 1315.8 142.6 1315.8 143.4 1316.0 144.2 1315.8 145.0 1315.6 145.8 1315.6 146.6 1315.6 147.4 1315.5 148.2 1315.3 149.0 1315.5 149.8 1315.7 150.6 1315.9 151.4 1315.6 152.2 1315.2 153.0 1315.6 153.8 1315.4 154.6 1315.2 155.4 1315.5 156.2 1315.8 157.0 1315.9 157.8 1315.6 158.6 1315.4 159.4 1315.4 160.2 1315.7 161.0 1315.7 161.8 1315.4 162.6 1315.5 163.4 1315.5 164.2 1315.5 165.0 1315.3 165.8 1315.3 166.6 1315.4 167.4 1315.6 168.2 1315.8 169.0 1315.6 169.8 1315.6 170.6 1315.5 171.4 1315.6 172.2 1315.6 173.0 1315.5 173.8 1315.3 174.6 1315.3 175.4 1315.2 176.2 1314.8 177.0 1315.0 177.8 1315.2 178.6 1315.3 179.4 1315.8 180.2 1315.6 181.0 1315.1 181.8 1315.3 182.6 1315.5 183.4 1315.4 184.2 1315.3 185.0 1315.4 185.8 1315.5 186.6 1315.3 187.4 1315.1 188.2 1315.3 189.0 1315.2 189.8 1315.2 190.6 1315.2 191.4 1315.3 192.2 1315.5 193.0 1315.3 193.8 1315.2 194.6 1315.2 195.4 1314.9 196.2 1314.7 197.0 1315.1 197.8 1315.0 198.6 1315.0 199.4 1315.1 200.2 1315.1 201.0 1315.2 201.8 1315.2 202.6 1315.4 203.4 1315.0 204.2 1315.2 205.0 1315.7 205.8 1315.4 206.6 1315.1 207.4 1315.1 208.2 1315.0 209.0 1315.2 209.8 1315.3 210.6 1315.1 211.4 1315.0 212.2 1314.9 213.0 1314.8 213.8 1315.1 214.6 1315.3 215.4 1315.3 216.2 1315.3 217.0 1315.0 217.8 1314.9 218.6 1315.0 219.4 1315.0 220.2 1315.0 221.0 1315.0 221.8 1314.8 222.6 1314.7 223.4 1315.2 224.2 1315.2 225.0 1314.8 225.8 1314.9 226.6 1315.3 227.4 1315.0 228.2 1314.7 229.0 1314.9 229.8 1314.6 230.6 1314.8 231.4 1315.1 232.2 1315.0 233.0 1314.9 233.8 1314.9 234.6 1315.0 235.4 1314.9 236.2 1314.8 237.0 1314.6 237.8 1315.0 238.6 1315.1 239.4 1314.9 240.2 1315.0 241.0 1314.9 241.8 1314.8 242.6 1314.9 243.4 1315.0 244.2 1314.8 245.0 1314.9 245.8 1315.1 246.6 1315.2 247.4 1315.1 248.2 1314.9 249.0 1314.5 249.8 1314.8 250.6 1315.2 251.4 1315.0 252.2 1314.9 253.0 1315.1 253.8 1315.1 254.6 1315.1 255.4 1314.9 256.2 1315.0 257.0 1314.9 257.8 1314.7 258.6 1315.0 259.4 1315.0 260.2 1315.3 261.0 1315.4 261.8 1314.8 262.6 1314.3 263.4 1314.6 264.2 1314.7 265.0 1314.6 265.8 1314.9 266.6 1314.6 267.4 1314.1 268.2 1314.4 269.0 1314.8 269.8 1314.7 270.6 1314.7 271.4 1314.6 272.2 1314.3 273.0 1314.4 273.8 1314.5 274.6 1314.2 275.4 1314.5 276.2 1314.8 277.0 1314.7 277.8 1314.6 278.6 1314.4 279.4 1314.4 280.2 1314.3 281.0 1314.5 281.8 1314.5 282.6 1314.6 283.4 1314.7 284.2 1315.0 285.0 1314.7 285.8 1314.5 286.6 1314.7 287.4 1314.6 288.2 1314.3 289.0 1314.2 289.8 1314.6 290.6 1314.7 291.4 1314.6 292.2 1314.5 293.0 1314.7 293.8 1314.7 294.6 1314.1 295.4 1314.0 296.2 1314.1 297.0 1313.6 297.8 1313.8 298.6 1314.7 299.4 1314.8 300.2 1314.3 301.0 1314.1 301.8 1314.5 302.6 1314.6 303.4 1314.4 304.2 1314.3 305.0 1314.3 305.8 1314.4 306.6 1314.5 307.4 1314.4 308.2 1314.0 309.0 1314.1 309.8 1314.1 310.6 1314.2 311.4 1314.0 312.2 1313.8 313.0 1314.0 313.8 1313.7 314.6 1314.0 315.4 1314.5 316.2 1314.1 317.0 1313.9 317.8 1314.1 318.6 1313.4 319.4 1313.3 320.2 1313.8 321.0 1313.7 321.8 1313.5 322.6 1313.4 323.4 1313.5 324.2 1313.8 325.0 1313.9 325.8 1313.6 326.6 1313.8 327.4 1313.7 328.2 1313.3 329.0 1313.0 329.8 1313.3 330.6 1313.9 331.4 1313.7 332.2 1313.6 333.0 1313.4 333.8 1313.3 334.6 1313.2 335.4 1313.1 336.2 1313.1 337.0 1313.4 337.8 1313.5 338.6 1313.2 339.4 1312.9 340.2 1312.7 341.0 1313.2 341.8 1313.4 342.6 1313.0 343.4 1312.8 344.2 1312.5 345.0 1312.6 345.8 1313.0 346.6 1312.9 347.4 1312.6 348.2 1312.6 349.0 1312.6 349.8 1312.3 350.6 1312.2 351.4 1312.3 352.2 1312.5 353.0 1312.5 353.8 1312.4 354.6 1312.9 355.4 1312.7 356.2 1312.2 357.0 1312.3 357.8 1312.4 358.6 1312.1 359.4 1312.2 360.2 1312.8 361.0 1312.6 361.8 1312.1 362.6 1311.9 363.4 1312.0 364.2 1311.9 365.0 1311.5 365.8 1312.1 366.6 1312.1 367.4 1312.0 368.2 1312.5 369.0 1312.3 369.8 1312.1 370.6 1312.4 371.4 1312.2 372.2 1311.6 373.0 1311.3 373.8 1311.4 374.6 1312.0 375.4 1312.2 376.2 1311.6 377.0 1311.2 377.8 1311.3 378.6 1311.5 379.4 1311.5 380.2 1311.5 381.0 1311.6 381.8 1311.4 382.6 1311.3 383.4 1311.4 384.2 1311.4 385.0 1311.4 385.8 1311.8 386.6 1311.8 387.4 1311.4 388.2 1310.8 389.0 1310.9 389.8 1310.8 390.6 1310.3 391.4 1310.9 392.2 1311.4 393.0 1311.1 393.8 1310.5 394.6 1310.5 395.4 1310.7 396.2 1310.9 397.0 1311.6 397.8 1311.4 398.6 1310.7 399.4 1310.3 400.2 1310.4 401.0 1310.7 401.8 1310.4 402.6 1310.4 403.4 1310.4 404.2 1310.6 405.0 1311.1 405.8 1311.1 406.6 1310.7 407.4 1310.5 408.2 1310.5 409.0 1310.3 409.8 1310.2 410.6 1309.9 411.4 1309.6 412.2 1310.1 413.0 1310.4 413.8 1310.2 414.6 1310.5 415.4 1310.0 416.2 1309.5 417.0 1310.0 417.8 1310.2 418.6 1310.1 419.4 1310.2 420.2 1310.3 421.0 1309.7 421.8 1309.3 422.6 1309.8 423.4 1310.1 424.2 1309.3 425.0 1309.5 425.8 1310.1 426.6 1310.0 427.4 1309.7 428.2 1309.2 429.0 1308.9 429.8 1309.6 430.6 1309.8 431.4 1309.5 432.2 1309.3 433.0 1308.9 433.8 1308.6 434.6 1308.3 435.4 1309.0 436.2 1308.7 437.0 1308.7 437.8 1309.1 438.6 1308.4 439.4 1308.1 440.2 1308.2 441.0 1308.3 441.8 1308.2 442.6 1307.9 443.4 1307.9 444.2 1307.8 445.0 1307.5 445.8 1307.7 446.6 1308.2 447.4 1307.8 448.2 1307.4 449.0 1307.6 449.8 1307.3 450.6 1307.7 451.4 1307.7 452.2 1307.9 453.0 1307.7 453.8 1307.3 454.6 1307.5 455.4 1307.0 456.2 1307.2 457.0 1307.4 457.8 1307.3 458.6 1307.3 459.4 1306.7 460.2 1306.6 461.0 1306.9 461.8 1307.2 462.6 1306.8 463.4 1306.5 464.2 1306.1 465.0 1306.3 465.8 1306.4 466.6 1305.6 467.4 1305.9 468.2 1306.7 469.0 1306.2 469.8 1305.4 470.6 1305.6 471.4 1305.5 472.2 1305.8 473.0 1305.9 473.8 1305.5 474.6 1305.9 475.4 1305.8 476.2 1305.7 477.0 1305.5 477.8 1304.9 478.6 1304.6 479.4 1305.6 480.2 1306.0 481.0 1305.4 481.8 1305.4 482.6 1305.3 483.4 1305.3 484.2 1305.8 485.0 1305.4 485.8 1304.2 486.6 1304.1 487.4 1304.1 488.2 1304.7 489.0 1305.4 489.8 1304.7 490.6 1303.9 491.4 1304.0 492.2 1304.9 493.0 1304.0 493.8 1303.7 494.6 1304.2 495.4 1304.3 496.2 1304.3 497.0 1303.7 497.8 1303.5 498.6 1303.2 499.4 1304.2 500.2 1304.8 501.0 1304.0 501.8 1303.3 502.6 1302.6 503.4 1302.7 504.2 1303.3 505.0 1303.3 505.8 1303.2 506.6 1302.7 507.4 1302.6 508.2 1302.9 509.0 1303.3 509.8 1303.9 510.6 1303.3 511.4 1302.1 512.2 1302.0 513.0 1302.0 513.8 1301.6 514.6 1301.7 515.4 1301.5 516.2 1301.7 517.0 1301.9 517.8 1301.7 518.6 1301.5 519.4 1301.0 520.2 1300.6 521.0 1300.7 521.8 1300.8 522.6 1300.9 523.4 1301.0 524.2 1300.2 525.0 1300.1 525.8 1300.0 526.6 1299.6 527.4 1300.0 528.2 1299.2 529.0 1299.3 529.8 1300.1 530.6 1299.9 531.4 1299.6 532.2 1299.4 533.0 1299.0 533.8 1298.9 534.6 1299.0 535.4 1299.1 536.2 1298.7 537.0 1298.6 537.8 1299.1 538.6 1298.9 539.4 1298.5 540.2 1298.7 541.0 1298.0 541.8 1297.9 542.6 1298.6 543.4 1298.5 544.2 1298.4 545.0 1297.9 545.8 1297.5 546.6 1298.0 547.4 1298.2 548.2 1297.9 549.0 1296.8 549.8 1296.9 550.6 1298.1 551.4 1298.2 552.2 1297.6 553.0 1296.3 553.8 1296.5 554.6 1297.1 555.4 1295.3 556.2 1295.5 557.0 1295.9 557.8 1294.9 558.6 1295.2 559.4 1296.4 560.2 1296.4 561.0 1295.8 561.8 1296.8 562.6 1297.3 563.4 1296.3 564.2 1295.2 565.0 1294.5 565.8 1294.1 566.6 1294.9 567.4 1295.3 568.2 1295.0 569.0 1295.2 569.8 1294.6 570.6 1294.0 571.4 1294.6 572.2 1294.9 573.0 1294.9 573.8 1294.7 574.6 1293.9 575.4 1293.7 576.2 1293.2 577.0 1292.0 577.8 1292.8 578.6 1293.5 579.4 1293.2 580.2 1292.2 581.0 1291.7 581.8 1292.2 582.6 1291.8 583.4 1290.7 584.2 1290.9 585.0 1292.6 585.8 1292.9 586.6 1291.9 587.4 1291.5 588.2 1292.2 589.0 1290.5 589.8 1289.9 590.6 1291.7 591.4 1292.0 592.2 1292.6 593.0 1292.7 593.8 1291.8 594.6 1291.2 595.4 1291.3 596.2 1290.7 597.0 1290.1 597.8 1290.8 598.6 1291.9 599.4 1291.2 600.2 1289.8 601.0 1289.9 601.8 1290.6 602.6 1290.4 603.4 1290.3 604.2 1289.6 605.0 1288.5 605.8 1288.8 606.6 1289.3 607.4 1289.9 608.2 1288.3 609.0 1287.0 609.8 1288.0 610.6 1288.0 611.4 1286.7 612.2 1287.7 613.0 1288.8 613.8 1288.3 614.6 1287.6 615.4 1287.8 616.2 1287.8 617.0 1287.7 617.8 1287.2 618.6 1285.7 619.4 1286.3 620.2 1286.3 621.0 1286.5 621.8 1287.0 622.6 1285.8 623.4 1285.5 624.2 1285.8 625.0 1286.2 625.8 1285.9 626.6 1284.8 627.4 1286.0 628.2 1287.7 629.0 1288.1 629.8 1286.5" fill="none" stroke="#20e890" stroke-width="4.5" stroke-linejoin="round" stroke-linecap="round"/>
<path d="M97.0 1315.8 97.8 1315.6 98.6 1315.6 99.4 1315.7 100.2 1315.6 101.0 1315.6 101.8 1315.8 102.6 1316.0 103.4 1316.2 104.2 1316.3 105.0 1316.3 105.8 1316.1 106.6 1316.1 107.4 1316.3 108.2 1316.1 109.0 1315.9 109.8 1316.0 110.6 1316.1 111.4 1316.0 112.2 1315.8 113.0 1315.9 113.8 1316.0 114.6 1315.7 115.4 1315.7 116.2 1315.9 117.0 1315.9 117.8 1315.8 118.6 1315.9 119.4 1315.7 120.2 1315.8 121.0 1316.0 121.8 1315.4 122.6 1315.5 123.4 1316.1 124.2 1316.0 125.0 1316.0 125.8 1316.3 126.6 1316.0 127.4 1315.4 128.2 1315.3 129.0 1315.8 129.8 1315.9 130.6 1315.5 131.4 1315.4 132.2 1315.6 133.0 1315.8 133.8 1315.9 134.6 1316.1 135.4 1315.8 136.2 1315.7 137.0 1315.6 137.8 1315.6 138.6 1315.6 139.4 1315.5 140.2 1315.9 141.0 1316.1 141.8 1315.9 142.6 1316.2 143.4 1316.2 144.2 1315.9 145.0 1315.8 145.8 1315.7 146.6 1315.8 147.4 1315.9 148.2 1316.0 149.0 1315.9 149.8 1315.6 150.6 1315.6 151.4 1315.8 152.2 1315.8 153.0 1315.9 153.8 1315.8 154.6 1315.7 155.4 1316.0 156.2 1316.0 157.0 1315.7 157.8 1316.0 158.6 1316.0 159.4 1315.7 160.2 1315.3 161.0 1315.7 161.8 1316.1 162.6 1315.9 163.4 1315.8 164.2 1315.9 165.0 1316.0 165.8 1315.7 166.6 1315.5 167.4 1315.6 168.2 1315.6 169.0 1315.5 169.8 1315.4 170.6 1315.3 171.4 1315.6 172.2 1315.5 173.0 1315.5 173.8 1315.7 174.6 1315.7 175.4 1315.5 176.2 1315.4 177.0 1315.7 177.8 1315.5 178.6 1315.3 179.4 1315.5 180.2 1315.5 181.0 1315.6 181.8 1315.4 182.6 1315.7 183.4 1315.9 184.2 1315.4 185.0 1315.2 185.8 1315.4 186.6 1315.7 187.4 1315.4 188.2 1315.5 189.0 1315.4 189.8 1315.2 190.6 1315.5 191.4 1315.9 192.2 1315.8 193.0 1315.5 193.8 1315.7 194.6 1315.5 195.4 1315.4 196.2 1315.6 197.0 1315.7 197.8 1315.7 198.6 1315.5 199.4 1315.5 200.2 1315.4 201.0 1315.4 201.8 1315.5 202.6 1315.2 203.4 1315.3 204.2 1315.4 205.0 1315.6 205.8 1315.5 206.6 1315.5 207.4 1315.7 208.2 1315.6 209.0 1315.3 209.8 1315.4 210.6 1315.6 211.4 1315.2 212.2 1315.0 213.0 1315.3 213.8 1315.2 214.6 1315.1 215.4 1315.1 216.2 1315.2 217.0 1315.5 217.8 1315.5 218.6 1315.6 219.4 1315.6 220.2 1315.3 221.0 1315.6 221.8 1315.5 222.6 1315.3 223.4 1315.3 224.2 1315.2 225.0 1315.7 225.8 1315.7 226.6 1315.3 227.4 1315.6 228.2 1315.6 229.0 1315.2 229.8 1315.4 230.6 1315.2 231.4 1315.3 232.2 1315.7 233.0 1315.7 233.8 1315.5 234.6 1315.3 235.4 1315.4 236.2 1315.0 237.0 1314.8 237.8 1315.3 238.6 1315.0 239.4 1315.1 240.2 1315.3 241.0 1315.3 241.8 1315.3 242.6 1315.4 243.4 1315.4 244.2 1315.2 245.0 1315.1 245.8 1315.2 246.6 1315.2 247.4 1315.2 248.2 1315.3 249.0 1315.6 249.8 1315.7 250.6 1315.8 251.4 1315.8 252.2 1315.4 253.0 1315.1 253.8 1315.1 254.6 1315.2 255.4 1315.3 256.2 1315.3 257.0 1315.6 257.8 1315.4 258.6 1315.3 259.4 1315.3 260.2 1314.9 261.0 1314.8 261.8 1314.9 262.6 1314.8 263.4 1315.0 264.2 1315.5 265.0 1315.2 265.8 1314.9 266.6 1315.3 267.4 1315.4 268.2 1315.2 269.0 1315.1 269.8 1315.3 270.6 1315.4 271.4 1315.0 272.2 1314.6 273.0 1314.4 273.8 1314.8 274.6 1315.2 275.4 1315.3 276.2 1315.4 277.0 1315.0 277.8 1315.0 278.6 1315.3 279.4 1315.1 280.2 1314.9 281.0 1315.3 281.8 1315.1 282.6 1314.7 283.4 1315.1 284.2 1315.3 285.0 1314.9 285.8 1314.7 286.6 1314.9 287.4 1315.3 288.2 1315.4 289.0 1315.2 289.8 1315.3 290.6 1315.3 291.4 1315.0 292.2 1315.2 293.0 1315.2 293.8 1314.8 294.6 1315.0 295.4 1315.2 296.2 1315.1 297.0 1314.9 297.8 1314.7 298.6 1314.8 299.4 1315.1 300.2 1315.2 301.0 1314.9 301.8 1314.8 302.6 1314.8 303.4 1314.7 304.2 1314.8 305.0 1315.0 305.8 1314.9 306.6 1314.7 307.4 1314.6 308.2 1314.5 309.0 1314.5 309.8 1314.5 310.6 1314.7 311.4 1314.6 312.2 1314.5 313.0 1314.5 313.8 1314.4 314.6 1314.5 315.4 1314.3 316.2 1314.3 317.0 1314.5 317.8 1314.6 318.6 1314.6 319.4 1314.5 320.2 1314.2 321.0 1314.5 321.8 1314.3 322.6 1313.8 323.4 1314.0 324.2 1314.5 325.0 1314.4 325.8 1314.2 326.6 1314.5 327.4 1314.3 328.2 1314.0 329.0 1314.3 329.8 1314.2 330.6 1313.7 331.4 1313.9 332.2 1314.0 333.0 1314.0 333.8 1314.2 334.6 1313.6 335.4 1313.6 336.2 1313.8 337.0 1313.6 337.8 1313.8 338.6 1313.6 339.4 1313.1 340.2 1313.3 341.0 1313.7 341.8 1313.5 342.6 1313.2 343.4 1313.3 344.2 1313.1 345.0 1313.2 345.8 1313.2 346.6 1313.1 347.4 1313.4 348.2 1313.3 349.0 1313.0 349.8 1313.0 350.6 1313.0 351.4 1312.8 352.2 1312.7 353.0 1313.0 353.8 1313.1 354.6 1313.6 355.4 1313.6 356.2 1313.0 357.0 1312.9 357.8 1312.7 358.6 1312.9 359.4 1312.9 360.2 1313.2 361.0 1313.2 361.8 1312.7 362.6 1312.7 363.4 1312.7 364.2 1312.6 365.0 1313.1 365.8 1313.3 366.6 1313.2 367.4 1313.1 368.2 1312.8 369.0 1312.4 369.8 1312.3 370.6 1312.5 371.4 1312.6 372.2 1312.9 373.0 1312.8 373.8 1312.5 374.6 1312.7 375.4 1313.1 376.2 1312.7 377.0 1312.4 377.8 1312.6 378.6 1312.5 379.4 1312.4 380.2 1312.4 381.0 1312.4 381.8 1312.3 382.6 1312.0 383.4 1311.6 384.2 1312.2 385.0 1312.2 385.8 1311.9 386.6 1312.3 387.4 1312.2 388.2 1312.0 389.0 1312.1 389.8 1312.3 390.6 1312.0 391.4 1311.6 392.2 1311.6 393.0 1311.7 393.8 1311.5 394.6 1311.7 395.4 1312.0 396.2 1312.1 397.0 1312.0 397.8 1311.7 398.6 1311.9 399.4 1312.1 400.2 1312.3 401.0 1312.2 401.8 1311.5 402.6 1311.6 403.4 1312.2 404.2 1312.1 405.0 1311.5 405.8 1311.3 406.6 1311.7 407.4 1311.8 408.2 1311.3 409.0 1311.4 409.8 1311.1 410.6 1311.0 411.4 1311.0 412.2 1311.0 413.0 1311.3 413.8 1311.5 414.6 1311.3 415.4 1311.3 416.2 1311.2 417.0 1310.7 417.8 1310.9 418.6 1311.1 419.4 1311.0 420.2 1310.5 421.0 1310.4 421.8 1311.0 422.6 1311.0 423.4 1311.1 424.2 1310.9 425.0 1311.1 425.8 1311.3 426.6 1310.9 427.4 1310.1 428.2 1309.5 429.0 1310.4 429.8 1310.9 430.6 1310.7 431.4 1310.5 432.2 1310.2 433.0 1310.3 433.8 1310.1 434.6 1310.3 435.4 1310.1 436.2 1309.8 437.0 1310.0 437.8 1310.0 438.6 1310.3 439.4 1309.9 440.2 1309.6 441.0 1309.9 441.8 1309.9 442.6 1309.8 443.4 1309.5 444.2 1309.6 445.0 1309.9 445.8 1310.0 446.6 1309.6 447.4 1309.5 448.2 1309.0 449.0 1308.8 449.8 1309.0 450.6 1309.0 451.4 1308.8 452.2 1308.9 453.0 1309.1 453.8 1309.5 454.6 1309.2 455.4 1308.5 456.2 1308.8 457.0 1309.1 457.8 1308.5 458.6 1308.8 459.4 1308.9 460.2 1308.4 461.0 1308.3 461.8 1308.1 462.6 1308.2 463.4 1308.1 464.2 1308.7 465.0 1309.0 465.8 1308.2 466.6 1307.9 467.4 1308.0 468.2 1308.4 469.0 1308.3 469.8 1307.7 470.6 1307.5 471.4 1307.3 472.2 1307.7 473.0 1308.3 473.8 1307.9 474.6 1307.8 475.4 1307.5 476.2 1307.4 477.0 1307.7 477.8 1307.7 478.6 1307.5 479.4 1307.6 480.2 1307.4 481.0 1307.4 481.8 1307.6 482.6 1307.4 483.4 1307.2 484.2 1307.0 485.0 1306.6 485.8 1306.6 486.6 1306.9 487.4 1307.0 488.2 1307.1 489.0 1306.8 489.8 1306.5 490.6 1306.4 491.4 1306.6 492.2 1306.7 493.0 1306.4 493.8 1306.4 494.6 1306.0 495.4 1306.2 496.2 1305.9 497.0 1305.4 497.8 1306.3 498.6 1306.4 499.4 1306.1 500.2 1306.0 501.0 1305.3 501.8 1305.3 502.6 1306.0 503.4 1306.0 504.2 1305.6 505.0 1305.8 505.8 1305.6 506.6 1305.5 507.4 1305.8 508.2 1305.2 509.0 1305.3 509.8 1305.9 510.6 1305.5 511.4 1305.1 512.2 1305.0 513.0 1304.6 513.8 1304.8 514.6 1304.8 515.4 1304.6 516.2 1304.7 517.0 1304.2 517.8 1304.4 518.6 1304.8 519.4 1305.1 520.2 1304.9 521.0 1304.3 521.8 1304.3 522.6 1304.1 523.4 1304.5 524.2 1305.0 525.0 1304.7 525.8 1303.8 526.6 1303.7 527.4 1303.9 528.2 1303.6 529.0 1303.0 529.8 1303.4 530.6 1304.2 531.4 1304.0 532.2 1303.6 533.0 1304.1 533.8 1304.5 534.6 1303.9 535.4 1302.2 536.2 1302.3 537.0 1303.3 537.8 1303.2 538.6 1302.9 539.4 1302.3 540.2 1302.6 541.0 1302.7 541.8 1302.5 542.6 1302.7 543.4 1302.6 544.2 1301.9 545.0 1302.0 545.8 1302.3 546.6 1301.9 547.4 1302.2 548.2 1301.7 549.0 1301.4 549.8 1301.2 550.6 1301.0 551.4 1301.7 552.2 1301.8 553.0 1301.5 553.8 1301.7 554.6 1301.5 555.4 1300.7 556.2 1301.2 557.0 1301.7 557.8 1301.6 558.6 1301.3 559.4 1300.8 560.2 1300.6 561.0 1300.0 561.8 1300.0 562.6 1300.4 563.4 1301.1 564.2 1300.6 565.0 1299.9 565.8 1300.5 566.6 1300.4 567.4 1300.3 568.2 1300.4 569.0 1300.7 569.8 1299.9 570.6 1299.9 571.4 1300.3 572.2 1299.6 573.0 1298.9 573.8 1298.5 574.6 1299.1 575.4 1299.3 576.2 1298.9 577.0 1299.0 577.8 1299.4 578.6 1299.4 579.4 1298.9 580.2 1298.7 581.0 1299.0 581.8 1298.8 582.6 1299.2 583.4 1300.0 584.2 1300.1 585.0 1299.4 585.8 1298.7 586.6 1298.5 587.4 1299.1 588.2 1299.2 589.0 1299.4 589.8 1298.8 590.6 1297.9 591.4 1298.9 592.2 1298.7 593.0 1298.7 593.8 1299.5 594.6 1299.1 595.4 1298.6 596.2 1298.4 597.0 1297.5 597.8 1297.2 598.6 1298.0 599.4 1298.5 600.2 1297.5 601.0 1297.4 601.8 1298.2 602.6 1298.2 603.4 1298.3 604.2 1297.4 605.0 1296.5 605.8 1296.6 606.6 1296.9 607.4 1297.9 608.2 1297.5 609.0 1297.1 609.8 1297.5 610.6 1297.1 611.4 1297.0 612.2 1297.1 613.0 1297.4 613.8 1298.0 614.6 1297.0 615.4 1296.0 616.2 1297.0 617.0 1296.7 617.8 1296.4 618.6 1296.5 619.4 1295.4 620.2 1296.3 621.0 1296.9 621.8 1295.6 622.6 1295.2 623.4 1295.3 624.2 1294.8 625.0 1295.0 625.8 1295.9 626.6 1295.2 627.4 1294.9 628.2 1294.8 629.0 1294.4 629.8 1294.4" fill="none" stroke="#28f880" stroke-width="4.5" stroke-linejoin="round" stroke-linecap="round"/>
</g>
<rect x="96.8" y="903.8" width="533.5" height="439.10000000000014" fill="none" stroke="#444" stroke-width="1.4"/>
<path d="M85.5 904.5H96.8M85.5 1050.4H96.8M85.5 1196.4H96.8M85.5 1342.8H96.8M160.5 1342.9V1338.4M198.4 1342.9V1338.4M225.3 1342.9V1338.4M246.2 1342.9V1338.4M263.2 1342.9V1338.4M277.6 1342.9V1338.4M290.1 1342.9V1338.4M301.1 1342.9V1338.4M311.0 1342.9V1332.4M375.8 1342.9V1338.4M413.7 1342.9V1338.4M440.6 1342.9V1338.4M461.5 1342.9V1338.4M478.5 1342.9V1338.4M492.9 1342.9V1338.4M505.4 1342.9V1338.4M516.4 1342.9V1338.4M526.3 1342.9V1332.4M591.1 1342.9V1338.4" stroke="#333" stroke-width="1.2" fill="none"/>
<g class="t" text-anchor="end">
<text x="77" y="914.3">3</text>
<text x="77" y="1060.2">2</text>
<text x="77" y="1206.2">1</text>
<text x="77" y="1352.6">0</text>
</g>
<text class="t" x="292" y="1381">10<tspan dy="-13" font-size="19">3</tspan></text>
<text class="t" x="507" y="1381">10<tspan dy="-13" font-size="19">4</tspan></text>
<text class="t" x="340" y="1419"><tspan class="i">t</tspan> (s)</text>
<text class="t" transform="translate(34.7,1226.9) rotate(-90)"><tspan x="0" y="0" class="i">R</tspan><tspan x="17.4" y="8.6" font-size="19">g</tspan><tspan x="28.2" y="-12.4" font-size="19">2</tspan><tspan x="45" y="0">(µm</tspan><tspan dy="-11.5" font-size="19">2</tspan><tspan dy="11.5">)</tspan><tspan x="116.6" y="0">×</tspan><tspan x="140.4" y="0">1,000</tspan></text>
<defs><linearGradient id="cbar" x1="0" y1="0" x2="0" y2="1">
<stop offset="0" stop-color="#1224f2"/>
<stop offset="0.2" stop-color="#1a3ee0"/>
<stop offset="0.4" stop-color="#2e66cc"/>
<stop offset="0.55" stop-color="#4088bc"/>
<stop offset="0.7" stop-color="#52a8a8"/>
<stop offset="0.85" stop-color="#66d09a"/>
<stop offset="1" stop-color="#7cf48c"/>
</linearGradient></defs>
<rect x="638.5" y="905.5" width="17.4" height="437.6" fill="url(#cbar)" stroke="#1c2a4a" stroke-width="0.9"/>
<text class="t" x="667" y="914.4">1.00</text>
<text class="t" x="667" y="976.9">0.75</text>
<text class="t" x="667" y="1039.4">0.60</text>
<text class="t" x="667" y="1101.9">0.50</text>
<text class="t" x="667" y="1164.4">0.40</text>
<text class="t" x="667" y="1226.9">0.37</text>
<text class="t" x="667" y="1289.4">0.30</text>
<text class="t" x="667" y="1351.9">0.25</text>
<path d="M650 968.0H656M650 1030.5H656M650 1093.0H656M650 1155.5H656M650 1218.0H656M650 1280.5H656" stroke="#000" stroke-width="1.2"/>
<text class="t" transform="translate(746,1126) rotate(90)" text-anchor="middle"><tspan class="i">E</tspan><tspan dy="7" font-size="19">sub</tspan><tspan dy="-7">/</tspan><tspan class="i">E</tspan><tspan dy="7" font-size="19">cell</tspan></text>
<defs><linearGradient id="lowhigh" x1="0" y1="0" x2="1" y2="0"><stop offset="0" stop-color="#0a62ac"/><stop offset="0.35" stop-color="#2a8cc8"/><stop offset="0.7" stop-color="#7cc8e8"/><stop offset="1" stop-color="#b4ecfa"/></linearGradient>
<radialGradient id="sphD" cx="0.5" cy="0.3" r="0.75" fx="0.5" fy="0.13"><stop offset="0" stop-color="#8cf2ff"/><stop offset="0.18" stop-color="#4cc4f4"/><stop offset="0.5" stop-color="#1f94da"/><stop offset="0.85" stop-color="#0c6cb8"/><stop offset="1" stop-color="#08589c"/></radialGradient>
<radialGradient id="sphL" cx="0.5" cy="0.3" r="0.78" fx="0.5" fy="0.13"><stop offset="0" stop-color="#ffffff"/><stop offset="0.25" stop-color="#c4ebfa"/><stop offset="0.55" stop-color="#8ed0f2"/><stop offset="0.85" stop-color="#4c9ee6"/><stop offset="1" stop-color="#3a84dc"/></radialGradient>
</defs>
<rect x="223.8" y="922.6" width="222.8" height="24" fill="url(#lowhigh)"/>
<text x="229.2" y="941.8" font-size="20.5">Low</text><text x="397" y="941.8" font-size="20.5">High</text>
<path d="M288.2 935.7H371" stroke="#000" stroke-width="1.9"/><path d="M381 935.7L366.3 927.4L370.4 935.7L366.3 944Z"/>
<path d="M104.4 1037.8L117.6 1014.5H319.5L332.7 1037.8Z" fill="#ab8fdd" stroke="#a81f8a" stroke-width="1.2" stroke-linejoin="round"/>
<rect x="104.4" y="1037.8" width="228.3" height="48.1" fill="#ab8fdd" stroke="#a81f8a" stroke-width="1.3"/>
<ellipse cx="143.5" cy="976.2" rx="21.0" ry="21.8" fill="url(#sphD)"/>
<ellipse cx="190.1" cy="976.2" rx="21.0" ry="21.8" fill="url(#sphD)"/>
<ellipse cx="240.5" cy="982.6" rx="19.4" ry="20.2" fill="url(#sphD)"/>
<ellipse cx="278.5" cy="977.8" rx="21.0" ry="21.8" fill="url(#sphD)"/>
<ellipse cx="137.9" cy="1010.1" rx="21.0" ry="25.4" fill="url(#sphD)"/>
<ellipse cx="184.7" cy="1010.1" rx="21.0" ry="25.4" fill="url(#sphD)"/>
<ellipse cx="160.5" cy="997.2" rx="21.5" ry="25.1" fill="url(#sphD)"/>
<ellipse cx="211.4" cy="997.2" rx="21.5" ry="25.1" fill="url(#sphD)"/>
<ellipse cx="270.5" cy="997.2" rx="21.0" ry="25.1" fill="url(#sphD)"/>
<ellipse cx="239.7" cy="1010.1" rx="21.5" ry="25.5" fill="url(#sphD)"/>
<ellipse cx="296.3" cy="1010.1" rx="21.8" ry="25.5" fill="url(#sphD)"/>
<g fill="#fa0a14">
<circle cx="144.0" cy="980.4" r="2.7"/>
<circle cx="174.6" cy="979.1" r="2.7"/>
<circle cx="196.2" cy="980.4" r="2.7"/>
<circle cx="259.5" cy="976.2" r="2.7"/>
<circle cx="231.6" cy="988.3" r="2.7"/>
<circle cx="290.3" cy="985.5" r="2.7"/>
<circle cx="138.7" cy="1001.2" r="2.7"/>
<circle cx="190.7" cy="1007.2" r="2.7"/>
<circle cx="249.4" cy="1001.2" r="2.7"/>
</g><g fill="#10a81e">
<circle cx="138.7" cy="1034.9" r="2.7"/>
<circle cx="161.5" cy="1023.0" r="2.7"/>
<circle cx="186.4" cy="1034.9" r="2.7"/>
<circle cx="211.8" cy="1022.2" r="2.7"/>
<circle cx="240.5" cy="1034.9" r="2.7"/>
<circle cx="270.5" cy="1022.2" r="2.7"/>
<circle cx="300.0" cy="1034.4" r="2.7"/>
</g>
<text x="115.0" y="1069.2" font-size="27"><tspan class="i">E</tspan><tspan dy="7.5" font-size="18.4">sub</tspan></text>
<path d="M337.6 1037.8L351.5 1013H554L565.8 1037.8Z" fill="#ab8fdd" stroke="#a81f8a" stroke-width="1.2" stroke-linejoin="round"/>
<rect x="337.6" y="1037.8" width="228.2" height="48.1" fill="#ab8fdd" stroke="#a81f8a" stroke-width="1.3"/>
<ellipse cx="380.5" cy="974.9" rx="21.0" ry="21.8" fill="url(#sphL)"/>
<ellipse cx="426.7" cy="974.5" rx="21.0" ry="21.8" fill="url(#sphL)"/>
<ellipse cx="477.2" cy="981.3" rx="19.4" ry="20.2" fill="url(#sphL)"/>
<ellipse cx="515.6" cy="976.2" rx="21.0" ry="21.8" fill="url(#sphL)"/>
<ellipse cx="375.0" cy="1008.5" rx="21.0" ry="25.4" fill="url(#sphL)"/>
<ellipse cx="422.2" cy="1008.5" rx="21.0" ry="25.4" fill="url(#sphL)"/>
<ellipse cx="397.6" cy="995.6" rx="21.5" ry="25.1" fill="url(#sphL)"/>
<ellipse cx="448.4" cy="995.6" rx="21.5" ry="25.1" fill="url(#sphL)"/>
<ellipse cx="507.1" cy="995.6" rx="21.0" ry="25.1" fill="url(#sphL)"/>
<ellipse cx="476.3" cy="1008.5" rx="21.5" ry="25.5" fill="url(#sphL)"/>
<ellipse cx="532.9" cy="1008.5" rx="21.8" ry="25.5" fill="url(#sphL)"/>
<g fill="#fa0a14">
<circle cx="384.2" cy="974.7" r="2.7"/>
<circle cx="411.5" cy="977.1" r="2.7"/>
<circle cx="433.0" cy="978.6" r="2.7"/>
<circle cx="496.1" cy="974.0" r="2.7"/>
<circle cx="467.8" cy="985.7" r="2.7"/>
<circle cx="527.0" cy="985.0" r="2.7"/>
<circle cx="375.4" cy="998.5" r="2.7"/>
<circle cx="427.3" cy="1001.4" r="2.7"/>
<circle cx="485.9" cy="1001.4" r="2.7"/>
</g><g fill="#10a81e">
<circle cx="375.4" cy="1033.1" r="2.7"/>
<circle cx="398.4" cy="1020.9" r="2.7"/>
<circle cx="423.0" cy="1033.1" r="2.7"/>
<circle cx="448.5" cy="1020.3" r="2.7"/>
<circle cx="477.5" cy="1033.1" r="2.7"/>
<circle cx="507.2" cy="1020.3" r="2.7"/>
<circle cx="537.3" cy="1032.4" r="2.7"/>
</g>
<text x="348.2" y="1069.2" font-size="27"><tspan class="i">E</tspan><tspan dy="7.5" font-size="18.4">sub</tspan></text>
<text x="310.7" y="972.3" font-size="27"><tspan class="i">E</tspan><tspan dy="8.5" font-size="18.2">cell</tspan></text>
<circle cx="148.8" cy="1103.7" r="4.6" fill="#14b428"/><circle cx="351.7" cy="1103.7" r="4.6" fill="#f01818"/>
<text x="168.5" y="1110.3" font-size="20.7">Cell-sub adhesion</text><text x="363.3" y="1110.3" font-size="20.7">Cell–cell adhesion</text>
<text class="t" x="113.3" y="1150">In silico</text>
</g>

<!-- ===== panel e ===== -->
<g id="panel-e">
<text x="831.2" y="909" class="pl">e</text>
<clipPath id="clipe"><rect x="930.8" y="909.8" width="581.9000000000001" height="432.5"/></clipPath>
<g clip-path="url(#clipe)">
<path d="M930.9 1258.4 933.9 1258.3 936.9 1258.3 939.9 1258.3 942.9 1258.2 945.9 1258.2 948.9 1258.2 951.9 1258.1 954.9 1258.1 957.9 1258.0 960.9 1258.0 963.9 1258.0 966.9 1257.9 969.9 1257.9 972.9 1257.9 975.9 1257.8 978.9 1257.8 981.9 1257.8 984.9 1257.7 987.9 1257.7 990.9 1257.7 993.9 1257.7 996.9 1257.7 999.9 1257.7 1002.9 1257.7 1005.9 1257.7 1008.9 1257.7 1011.9 1257.7 1014.9 1257.7 1017.9 1257.8 1020.9 1258.1 1023.9 1258.4 1026.9 1258.8 1029.9 1259.1 1032.9 1259.5 1035.9 1259.8 1038.9 1260.2 1041.9 1260.5 1044.9 1260.9 1047.9 1261.2 1050.9 1261.6 1053.9 1261.9 1056.9 1262.2 1059.9 1262.6 1062.9 1262.9 1065.9 1263.3 1068.9 1263.6 1071.9 1264.3 1074.9 1265.0 1077.9 1265.7 1080.9 1266.4 1083.9 1267.1 1086.9 1267.8 1089.9 1268.5 1092.9 1269.1 1095.9 1269.8 1098.9 1270.5 1101.9 1271.2 1104.9 1271.9 1107.9 1271.7 1110.9 1271.2 1113.9 1270.8 1116.9 1270.3 1119.9 1269.8 1122.9 1269.4 1125.9 1268.9 1128.9 1268.5 1131.9 1268.0 1134.9 1267.5 1137.9 1266.8 1140.9 1266.0 1143.9 1265.2 1146.9 1264.4 1149.9 1263.7 1152.9 1262.9 1155.9 1262.1 1158.9 1262.4 1161.9 1262.8 1164.9 1263.1 1167.9 1263.5 1170.9 1263.8 1173.9 1264.1 1176.9 1264.5 1179.9 1264.8 1182.9 1265.1 1185.9 1265.4 1188.9 1265.7 1191.9 1266.0 1194.9 1266.3 1197.9 1266.6 1200.9 1266.8 1203.9 1266.8 1206.9 1266.8 1209.9 1266.8 1212.9 1266.8 1215.9 1266.8 1218.9 1266.8 1221.9 1266.8 1224.9 1266.8 1227.9 1266.7 1230.9 1266.6 1233.9 1266.5 1236.9 1266.3 1239.9 1266.2 1242.9 1266.1 1245.9 1266.0 1248.9 1265.8 1251.9 1265.7 1254.9 1265.5 1257.9 1265.4 1260.9 1265.2 1263.9 1264.3 1266.9 1263.1 1269.9 1261.9 1272.9 1262.8 1275.9 1264.8 1278.9 1266.8 1281.9 1266.6 1284.9 1264.6 1287.9 1262.7 1290.9 1260.7 1293.9 1260.5 1296.9 1262.5 1299.9 1264.5 1302.9 1264.8 1305.9 1261.8 1308.9 1260.5 1311.9 1263.9 1314.9 1266.3 1317.9 1263.6 1320.9 1260.9 1323.9 1258.5 1326.9 1260.6 1329.9 1262.6 1332.9 1264.1 1335.9 1264.9 1338.9 1265.9 1341.9 1267.6 1344.9 1268.7 1347.9 1271.0 1350.9 1272.4 1353.9 1271.7 1356.9 1272.0 1359.9 1271.1 1362.9 1268.5 1365.9 1267.9 1368.9 1266.2 1371.9 1265.3 1374.9 1265.2 1377.9 1266.3 1380.9 1259.2 1383.9 1254.6 1386.9 1253.4 1389.9 1247.0 1392.9 1247.2 1395.9 1237.7 1398.9 1232.0 1401.9 1223.0 1404.9 1209.8 1407.9 1211.4 1410.9 1206.7 1413.9 1202.7 1416.9 1195.3 1419.9 1195.7 1422.9 1189.4 1425.9 1186.6 1428.9 1186.7 1431.9 1192.3 1434.9 1192.3 1437.9 1204.6 1440.9 1207.5 1443.9 1194.2 1446.9 1173.8 1449.9 1149.9 1452.9 1114.9 1455.9 1092.2 1458.9 1069.5 1461.9 1049.5 1464.9 1020.4 1467.9 992.2 1470.9 993.4 1473.9 997.9 1476.9 999.3 1479.9 1008.5 1482.9 1003.8 1485.9 994.2 1488.9 974.1 1491.9 956.9 1494.9 914.9 1497.9 904.4 1500.9 866.3" fill="none" stroke="#7d7d7d" stroke-width="4.1" stroke-linejoin="round" stroke-linecap="round"/>
<path d="M930.9 1283.2 933.9 1283.1 936.9 1283.1 939.9 1283.0 942.9 1282.9 945.9 1282.9 948.9 1282.8 951.9 1282.7 954.9 1282.7 957.9 1282.6 960.9 1282.5 963.9 1282.5 966.9 1282.4 969.9 1282.3 972.9 1282.3 975.9 1282.2 978.9 1282.1 981.9 1282.1 984.9 1282.0 987.9 1281.9 990.9 1281.9 993.9 1281.8 996.9 1281.7 999.9 1281.6 1002.9 1281.6 1005.9 1281.5 1008.9 1281.4 1011.9 1281.4 1014.9 1281.4 1017.9 1281.4 1020.9 1281.4 1023.9 1281.5 1026.9 1281.5 1029.9 1281.6 1032.9 1281.6 1035.9 1281.6 1038.9 1281.7 1041.9 1281.7 1044.9 1281.8 1047.9 1281.8 1050.9 1281.8 1053.9 1281.9 1056.9 1281.9 1059.9 1282.0 1062.9 1282.0 1065.9 1282.0 1068.9 1282.1 1071.9 1282.1 1074.9 1282.2 1077.9 1282.2 1080.9 1282.2 1083.9 1282.3 1086.9 1282.3 1089.9 1282.4 1092.9 1282.4 1095.9 1282.4 1098.9 1282.5 1101.9 1282.5 1104.9 1282.6 1107.9 1282.6 1110.9 1282.7 1113.9 1282.7 1116.9 1282.8 1119.9 1282.9 1122.9 1282.9 1125.9 1283.0 1128.9 1283.0 1131.9 1283.1 1134.9 1283.2 1137.9 1283.1 1140.9 1282.6 1143.9 1282.1 1146.9 1281.6 1149.9 1281.1 1152.9 1280.6 1155.9 1280.1 1158.9 1280.2 1161.9 1280.3 1164.9 1280.4 1167.9 1280.4 1170.9 1280.5 1173.9 1280.6 1176.9 1280.7 1179.9 1280.8 1182.9 1280.9 1185.9 1281.0 1188.9 1281.0 1191.9 1281.1 1194.9 1281.2 1197.9 1281.3 1200.9 1281.4 1203.9 1281.6 1206.9 1281.8 1209.9 1282.0 1212.9 1282.2 1215.9 1282.3 1218.9 1282.5 1221.9 1282.7 1224.9 1282.9 1227.9 1283.1 1230.9 1283.2 1233.9 1282.8 1236.9 1282.4 1239.9 1282.0 1242.9 1281.6 1245.9 1281.2 1248.9 1280.8 1251.9 1280.4 1254.9 1280.0 1257.9 1279.6 1260.9 1279.3 1263.9 1279.0 1266.9 1278.8 1269.9 1278.6 1272.9 1278.4 1275.9 1278.2 1278.9 1278.0 1281.9 1277.7 1284.9 1277.5 1287.9 1277.3 1290.9 1277.1 1293.9 1277.1 1296.9 1277.3 1299.9 1277.5 1302.9 1277.7 1305.9 1277.9 1308.9 1278.1 1311.9 1278.3 1314.9 1278.6 1317.9 1278.8 1320.9 1279.0 1323.9 1279.1 1326.9 1278.8 1329.9 1278.5 1332.9 1278.2 1335.9 1277.9 1338.9 1277.3 1341.9 1277.1 1344.9 1277.5 1347.9 1276.5 1350.9 1276.6 1353.9 1276.5 1356.9 1275.3 1359.9 1275.4 1362.9 1274.6 1365.9 1274.4 1368.9 1272.7 1371.9 1269.6 1374.9 1266.3 1377.9 1263.3 1380.9 1261.3 1383.9 1256.7 1386.9 1252.8 1389.9 1249.6 1392.9 1249.0 1395.9 1241.7 1398.9 1243.6 1401.9 1233.7 1404.9 1232.3 1407.9 1233.2 1410.9 1229.4 1413.9 1222.0 1416.9 1220.2 1419.9 1214.3 1422.9 1215.2 1425.9 1206.8 1428.9 1194.6 1431.9 1191.5 1434.9 1180.7 1437.9 1171.1 1440.9 1159.8 1443.9 1144.3 1446.9 1136.9 1449.9 1123.3 1452.9 1109.3 1455.9 1101.7 1458.9 1084.3 1461.9 1068.1 1464.9 1066.8 1467.9 1062.5 1470.9 1052.3 1473.9 1047.1 1476.9 1048.5 1479.9 1043.7 1482.9 1038.0 1485.9 1023.0 1488.9 1044.0 1491.9 1056.2 1494.9 1068.9 1497.9 1082.7 1500.9 1085.9 1503.9 1094.8" fill="none" stroke="#7d7d7d" stroke-width="4.6" stroke-linejoin="round" stroke-linecap="round"/>
<path d="M930.9 1285.7 933.9 1285.6 936.9 1285.6 939.9 1285.5 942.9 1285.4 945.9 1285.4 948.9 1285.3 951.9 1285.2 954.9 1285.1 957.9 1285.1 960.9 1285.0 963.9 1284.9 966.9 1284.9 969.9 1284.8 972.9 1284.7 975.9 1284.7 978.9 1284.6 981.9 1284.5 984.9 1284.5 987.9 1284.4 990.9 1284.3 993.9 1284.3 996.9 1284.2 999.9 1284.1 1002.9 1284.1 1005.9 1284.0 1008.9 1283.9 1011.9 1283.9 1014.9 1283.8 1017.9 1283.9 1020.9 1283.9 1023.9 1283.9 1026.9 1283.9 1029.9 1283.9 1032.9 1284.0 1035.9 1284.0 1038.9 1284.0 1041.9 1284.0 1044.9 1284.0 1047.9 1284.1 1050.9 1284.1 1053.9 1284.1 1056.9 1284.1 1059.9 1284.1 1062.9 1284.2 1065.9 1284.2 1068.9 1284.2 1071.9 1284.2 1074.9 1284.2 1077.9 1284.3 1080.9 1284.3 1083.9 1284.3 1086.9 1284.3 1089.9 1284.3 1092.9 1284.4 1095.9 1284.4 1098.9 1284.4 1101.9 1284.4 1104.9 1284.4 1107.9 1284.5 1110.9 1284.6 1113.9 1284.7 1116.9 1284.8 1119.9 1284.9 1122.9 1284.9 1125.9 1285.0 1128.9 1285.1 1131.9 1285.2 1134.9 1285.3 1137.9 1285.3 1140.9 1285.0 1143.9 1284.6 1146.9 1284.3 1149.9 1283.9 1152.9 1283.6 1155.9 1283.2 1158.9 1283.2 1161.9 1283.2 1164.9 1283.2 1167.9 1283.2 1170.9 1283.2 1173.9 1283.2 1176.9 1283.2 1179.9 1283.2 1182.9 1283.2 1185.9 1283.2 1188.9 1283.2 1191.9 1283.2 1194.9 1283.2 1197.9 1283.2 1200.9 1283.4 1203.9 1283.7 1206.9 1284.0 1209.9 1284.3 1212.9 1284.6 1215.9 1284.9 1218.9 1285.2 1221.9 1285.5 1224.9 1285.8 1227.9 1286.1 1230.9 1286.3 1233.9 1286.0 1236.9 1285.7 1239.9 1285.4 1242.9 1285.1 1245.9 1284.8 1248.9 1284.5 1251.9 1284.2 1254.9 1283.9 1257.9 1283.6 1260.9 1283.3 1263.9 1283.2 1266.9 1283.2 1269.9 1283.2 1272.9 1283.2 1275.9 1283.2 1278.9 1283.2 1281.9 1283.2 1284.9 1283.2 1287.9 1283.2 1290.9 1283.2 1293.9 1283.3 1296.9 1283.5 1299.9 1283.7 1302.9 1283.9 1305.9 1284.1 1308.9 1284.3 1311.9 1284.6 1314.9 1284.8 1317.9 1285.0 1320.9 1285.2 1323.9 1285.4 1326.9 1285.5 1329.9 1285.7 1332.9 1285.8 1335.9 1286.0 1338.9 1286.2 1341.9 1286.5 1344.9 1286.7 1347.9 1286.3 1350.9 1287.1 1353.9 1287.0 1356.9 1286.6 1359.9 1285.4 1362.9 1283.4 1365.9 1282.5 1368.9 1281.0 1371.9 1278.1 1374.9 1274.1 1377.9 1267.6 1380.9 1265.7 1383.9 1269.3 1386.9 1263.0 1389.9 1263.6 1392.9 1262.6 1395.9 1259.4 1398.9 1261.7 1401.9 1260.7 1404.9 1257.1 1407.9 1255.9 1410.9 1253.6 1413.9 1248.1 1416.9 1250.0 1419.9 1244.5 1422.9 1243.1 1425.9 1249.2 1428.9 1253.2 1431.9 1252.6 1434.9 1259.5 1437.9 1246.3 1440.9 1221.6 1443.9 1200.4 1446.9 1181.6 1449.9 1158.6 1452.9 1137.7 1455.9 1131.6 1458.9 1117.4 1461.9 1094.8 1464.9 1084.5 1467.9 1072.0 1470.9 1060.4 1473.9 1047.6 1476.9 1033.0 1479.9 1038.3 1482.9 1020.9 1485.9 1015.7 1488.9 1019.4 1491.9 995.1 1494.9 992.3 1497.9 969.2 1500.9 963.6 1503.9 960.6" fill="none" stroke="#7d7d7d" stroke-width="4.1" stroke-linejoin="round" stroke-linecap="round"/>
<path d="M930.9 1302.5 933.9 1302.4 936.9 1302.4 939.9 1302.4 942.9 1302.3 945.9 1302.3 948.9 1302.3 951.9 1302.2 954.9 1302.2 957.9 1302.2 960.9 1302.1 963.9 1302.1 966.9 1302.1 969.9 1302.0 972.9 1302.0 975.9 1301.9 978.9 1301.9 981.9 1301.9 984.9 1301.8 987.9 1301.8 990.9 1301.8 993.9 1301.7 996.9 1301.7 999.9 1301.7 1002.9 1301.6 1005.9 1301.6 1008.9 1301.6 1011.9 1301.5 1014.9 1301.4 1017.9 1301.2 1020.9 1300.9 1023.9 1300.7 1026.9 1300.5 1029.9 1300.2 1032.9 1300.0 1035.9 1299.8 1038.9 1299.5 1041.9 1299.3 1044.9 1299.1 1047.9 1298.8 1050.9 1298.6 1053.9 1298.4 1056.9 1298.1 1059.9 1297.9 1062.9 1297.7 1065.9 1297.4 1068.9 1297.2 1071.9 1297.2 1074.9 1297.3 1077.9 1297.3 1080.9 1297.4 1083.9 1297.4 1086.9 1297.5 1089.9 1297.5 1092.9 1297.6 1095.9 1297.6 1098.9 1297.7 1101.9 1297.7 1104.9 1297.8 1107.9 1298.0 1110.9 1298.4 1113.9 1298.8 1116.9 1299.2 1119.9 1299.6 1122.9 1300.0 1125.9 1300.4 1128.9 1300.8 1131.9 1301.2 1134.9 1301.4 1137.9 1300.5 1140.9 1299.7 1143.9 1298.9 1146.9 1298.1 1149.9 1297.3 1152.9 1296.5 1155.9 1295.7 1158.9 1295.3 1161.9 1295.0 1164.9 1294.6 1167.9 1294.3 1170.9 1293.9 1173.9 1293.6 1176.9 1293.2 1179.9 1293.3 1182.9 1293.5 1185.9 1293.7 1188.9 1293.9 1191.9 1294.2 1194.9 1294.4 1197.9 1294.6 1200.9 1294.5 1203.9 1294.1 1206.9 1293.6 1209.9 1293.2 1212.9 1292.8 1215.9 1292.3 1218.9 1291.9 1221.9 1291.7 1224.9 1292.1 1227.9 1292.4 1230.9 1292.8 1233.9 1293.2 1236.9 1293.6 1239.9 1293.9 1242.9 1294.3 1245.9 1294.7 1248.9 1294.4 1251.9 1294.1 1254.9 1293.8 1257.9 1293.5 1260.9 1293.2 1263.9 1292.0 1266.9 1290.5 1269.9 1289.0 1272.9 1287.5 1275.9 1286.0 1278.9 1284.5 1281.9 1284.1 1284.9 1284.5 1287.9 1284.9 1290.9 1285.4 1293.9 1285.8 1296.9 1286.2 1299.9 1286.6 1302.9 1287.1 1305.9 1287.8 1308.9 1288.4 1311.9 1289.1 1314.9 1289.7 1317.9 1290.4 1320.9 1291.0 1323.9 1291.6 1326.9 1291.9 1329.9 1292.2 1332.9 1292.5 1335.9 1292.9 1338.9 1293.3 1341.9 1292.7 1344.9 1291.8 1347.9 1291.3 1350.9 1290.9 1353.9 1290.2 1356.9 1288.7 1359.9 1288.2 1362.9 1288.1 1365.9 1284.9 1368.9 1284.4 1371.9 1283.5 1374.9 1279.3 1377.9 1276.8 1380.9 1275.9 1383.9 1274.9 1386.9 1272.2 1389.9 1272.6 1392.9 1266.9 1395.9 1269.2 1398.9 1266.3 1401.9 1262.4 1404.9 1260.4 1407.9 1256.8 1410.9 1256.4 1413.9 1251.7 1416.9 1256.1 1419.9 1257.3 1422.9 1261.5 1425.9 1266.6 1428.9 1268.4 1431.9 1262.2 1434.9 1253.1 1437.9 1246.6 1440.9 1231.8 1443.9 1214.7 1446.9 1183.5 1449.9 1170.5 1452.9 1156.1 1455.9 1139.8 1458.9 1123.1 1461.9 1094.0 1464.9 1090.2 1467.9 1087.6 1470.9 1082.1 1473.9 1069.6 1476.9 1061.5 1479.9 1054.9 1482.9 1042.0 1485.9 1042.3 1488.9 1037.0 1491.9 1016.2 1494.9 1013.4 1497.9 973.4 1500.9 978.6 1503.9 979.9" fill="none" stroke="#7d7d7d" stroke-width="4.1" stroke-linejoin="round" stroke-linecap="round"/>
<path d="M930.9 1323.8 931.8 1323.4 932.7 1324.3 933.6 1324.2 934.5 1324.1 935.4 1323.5 936.3 1324.6 937.2 1324.6 938.1 1324.5 939.0 1323.9 939.9 1324.3 940.8 1324.8 941.7 1324.4 942.6 1323.9 943.5 1323.0 944.4 1323.4 945.3 1323.7 946.2 1324.5 947.1 1324.4 948.0 1325.1 948.9 1325.2 949.8 1325.2 950.7 1324.5 951.6 1323.9 952.5 1323.7 953.4 1323.4 954.3 1324.4 955.2 1324.5 956.1 1324.3 957.0 1323.6 957.9 1324.1 958.8 1323.8 959.7 1322.5 960.6 1322.0 961.5 1323.0 962.4 1323.7 963.3 1324.2 964.2 1323.8 965.1 1324.4 966.0 1323.8 966.9 1323.4 967.8 1323.6 968.7 1324.0 969.6 1322.7 970.5 1322.3 971.4 1322.8 972.3 1323.7 973.2 1323.3 974.1 1321.5 975.0 1321.5 975.9 1320.9 976.8 1320.8 977.7 1321.0 978.6 1321.0 979.5 1321.5 980.4 1321.3 981.3 1319.5 982.2 1319.2 983.1 1317.5 984.0 1318.3 984.9 1317.8 985.8 1317.9 986.7 1318.0 987.6 1317.0 988.5 1317.1 989.4 1317.3 990.3 1317.3 991.2 1317.4 992.1 1316.0 993.0 1316.7 993.9 1315.6 994.8 1316.0 995.7 1314.8 996.6 1316.0 997.5 1316.0 998.4 1316.7 999.3 1316.8 1000.2 1318.0 1001.1 1318.7 1002.0 1318.4 1002.9 1318.7 1003.8 1319.0 1004.7 1319.0 1005.6 1319.3 1006.5 1318.2 1007.4 1318.3 1008.3 1318.0 1009.2 1319.0 1010.1 1319.4 1011.0 1318.4 1011.9 1317.5 1012.8 1317.0 1013.7 1317.5 1014.6 1317.8 1015.5 1317.2 1016.4 1316.6 1017.3 1318.2 1018.2 1319.6 1019.1 1321.1 1020.0 1319.9 1020.9 1319.2 1021.8 1317.6 1022.7 1318.7 1023.6 1318.3 1024.5 1318.5 1025.4 1317.9 1026.3 1317.5 1027.2 1317.2 1028.1 1316.3 1029.0 1317.0 1029.9 1317.6 1030.8 1317.6 1031.7 1317.9 1032.6 1317.1 1033.5 1317.5 1034.4 1317.1 1035.3 1317.0 1036.2 1316.2 1037.1 1316.1 1038.0 1316.4 1038.9 1318.5 1039.8 1319.5 1040.7 1320.4 1041.6 1318.8 1042.5 1318.9 1043.4 1318.8 1044.3 1319.3 1045.2 1319.4 1046.1 1319.1 1047.0 1319.3 1047.9 1318.5 1048.8 1317.8 1049.7 1318.4 1050.6 1317.7 1051.5 1318.4 1052.4 1317.0 1053.3 1317.9 1054.2 1317.2 1055.1 1318.5 1056.0 1318.2 1056.9 1318.6 1057.8 1317.7 1058.7 1317.7 1059.6 1317.6 1060.5 1318.8 1061.4 1319.4 1062.3 1319.4 1063.2 1319.5 1064.1 1319.6 1065.0 1320.7 1065.9 1320.6 1066.8 1319.9 1067.7 1319.1 1068.6 1318.7 1069.5 1320.3 1070.4 1321.2 1071.3 1320.2 1072.2 1318.3 1073.1 1318.5 1074.0 1319.5 1074.9 1320.9 1075.8 1320.8 1076.7 1319.6 1077.6 1319.4 1078.5 1318.7 1079.4 1319.7 1080.3 1320.3 1081.2 1320.3 1082.1 1320.0 1083.0 1318.0 1083.9 1319.0 1084.8 1319.7 1085.7 1319.8 1086.6 1318.9 1087.5 1318.7 1088.4 1318.2 1089.3 1318.3 1090.2 1317.7 1091.1 1319.4 1092.0 1318.7 1092.9 1319.0 1093.8 1316.9 1094.7 1316.8 1095.6 1316.2 1096.5 1318.7 1097.4 1319.2 1098.3 1319.9 1099.2 1318.4 1100.1 1318.3 1101.0 1318.3 1101.9 1320.3 1102.8 1320.3 1103.7 1321.3 1104.6 1320.8 1105.5 1321.4 1106.4 1320.9 1107.3 1320.7 1108.2 1320.2 1109.1 1319.7 1110.0 1318.7 1110.9 1319.1 1111.8 1319.7 1112.7 1321.4 1113.6 1322.1 1114.5 1322.1 1115.4 1319.7 1116.3 1320.0 1117.2 1319.4 1118.1 1321.1 1119.0 1320.8 1119.9 1322.0 1120.8 1321.5 1121.7 1321.4 1122.6 1320.5 1123.5 1320.2 1124.4 1320.3 1125.3 1319.7 1126.2 1319.5 1127.1 1319.0 1128.0 1319.6 1128.9 1317.6 1129.8 1316.9 1130.7 1315.9 1131.6 1319.2 1132.5 1316.5 1133.4 1316.4 1134.3 1314.4 1135.2 1316.3 1136.1 1316.8 1137.0 1316.5 1137.9 1316.5 1138.8 1314.1 1139.7 1314.1 1140.6 1314.2 1141.5 1316.6 1142.4 1316.3 1143.3 1317.0 1144.2 1317.1 1145.1 1316.4 1146.0 1315.9 1146.9 1313.5 1147.8 1312.8 1148.7 1312.4 1149.6 1313.5 1150.5 1314.3 1151.4 1312.9 1152.3 1311.4 1153.2 1311.4 1154.1 1311.6 1155.0 1313.0 1155.9 1313.4 1156.8 1312.9 1157.7 1312.0 1158.6 1310.7 1159.5 1311.5 1160.4 1311.4 1161.3 1311.0 1162.2 1310.2 1163.1 1309.9 1164.0 1310.4 1164.9 1309.6 1165.8 1309.8 1166.7 1310.8 1167.6 1312.6 1168.5 1312.5 1169.4 1310.4 1170.3 1311.5 1171.2 1312.5 1172.1 1314.6 1173.0 1313.2 1173.9 1312.6 1174.8 1310.9 1175.7 1309.8 1176.6 1309.7 1177.5 1310.8 1178.4 1311.8 1179.3 1311.2 1180.2 1310.2 1181.1 1310.2 1182.0 1311.2 1182.9 1311.6 1183.8 1310.7 1184.7 1310.9 1185.6 1311.4 1186.5 1311.0 1187.4 1309.6 1188.3 1310.2 1189.2 1311.4 1190.1 1311.0 1191.0 1310.1 1191.9 1310.3 1192.8 1311.7 1193.7 1311.3 1194.6 1310.8 1195.5 1310.3 1196.4 1310.9 1197.3 1311.3 1198.2 1312.3 1199.1 1310.3 1200.0 1309.4 1200.9 1308.2 1201.8 1309.9 1202.7 1311.5 1203.6 1311.5 1204.5 1310.9 1205.4 1307.9 1206.3 1307.4 1207.2 1307.2 1208.1 1309.4 1209.0 1309.0 1209.9 1308.8 1210.8 1306.9 1211.7 1306.2 1212.6 1306.3 1213.5 1306.5 1214.4 1306.2 1215.3 1305.2 1216.2 1305.6 1217.1 1306.4 1218.0 1307.8 1218.9 1306.9 1219.8 1307.4 1220.7 1307.8 1221.6 1308.5 1222.5 1307.8 1223.4 1307.7 1224.3 1306.2 1225.2 1306.6 1226.1 1305.2 1227.0 1309.0 1227.9 1310.3 1228.8 1311.8 1229.7 1310.9 1230.6 1310.5 1231.5 1310.3 1232.4 1309.8 1233.3 1309.4 1234.2 1307.6 1235.1 1305.7 1236.0 1303.6 1236.9 1304.0 1237.8 1305.0 1238.7 1306.5 1239.6 1304.5 1240.5 1304.8 1241.4 1303.4 1242.3 1303.2 1243.2 1302.7 1244.1 1302.5 1245.0 1302.3 1245.9 1301.6 1246.8 1301.9 1247.7 1302.2 1248.6 1301.6 1249.5 1301.9 1250.4 1301.6 1251.3 1301.8 1252.2 1300.0 1253.1 1298.8 1254.0 1297.5 1254.9 1298.1 1255.8 1299.2 1256.7 1298.7 1257.6 1298.6 1258.5 1296.7 1259.4 1296.1 1260.3 1294.9 1261.2 1295.8 1262.1 1296.0 1263.0 1295.6 1263.9 1297.7 1264.8 1295.3 1265.7 1294.6 1266.6 1293.7 1267.5 1294.8 1268.4 1294.2 1269.3 1292.2 1270.2 1291.8 1271.1 1292.1 1272.0 1289.9 1272.9 1289.5 1273.8 1289.0 1274.7 1290.1 1275.6 1289.8 1276.5 1287.9 1277.4 1287.0 1278.3 1283.9 1279.2 1283.8 1280.1 1283.3 1281.0 1286.3 1281.9 1288.9 1282.8 1289.2 1283.7 1289.6 1284.6 1291.1 1285.5 1292.5 1286.4 1292.5 1287.3 1289.4 1288.2 1287.8 1289.1 1287.6 1290.0 1288.6 1290.9 1290.8 1291.8 1290.5 1292.7 1290.0 1293.6 1289.7 1294.5 1288.9 1295.4 1288.4 1296.3 1287.6 1297.2 1287.8 1298.1 1285.5 1299.0 1284.8 1299.9 1285.0 1300.8 1289.0 1301.7 1287.7 1302.6 1288.7 1303.5 1286.4 1304.4 1287.9 1305.3 1285.8 1306.2 1286.6 1307.1 1284.1 1308.0 1284.0 1308.9 1284.6 1309.8 1284.5 1310.7 1286.6 1311.6 1283.5 1312.5 1285.7 1313.4 1286.1 1314.3 1289.7 1315.2 1287.9 1316.1 1286.4 1317.0 1281.5 1317.9 1283.8 1318.8 1281.2 1319.7 1284.7 1320.6 1283.2 1321.5 1285.1 1322.4 1285.3 1323.3 1283.9 1324.2 1286.1 1325.1 1287.7 1326.0 1289.7 1326.9 1287.8 1327.8 1283.9 1328.7 1283.1 1329.6 1282.8 1330.5 1281.9 1331.4 1282.0 1332.3 1280.5 1333.2 1281.3 1334.1 1278.6 1335.0 1280.4 1335.9 1278.9 1336.8 1278.6 1337.7 1275.3 1338.6 1278.2 1339.5 1279.2 1340.4 1280.4 1341.3 1278.8 1342.2 1277.2 1343.1 1278.7 1344.0 1277.9 1344.9 1275.6 1345.8 1273.5 1346.7 1272.5 1347.6 1273.7 1348.5 1275.6 1349.4 1275.7 1350.3 1278.8 1351.2 1278.9 1352.1 1280.4 1353.0 1278.9 1353.9 1277.0 1354.8 1275.1 1355.7 1274.8 1356.6 1272.7 1357.5 1273.5 1358.4 1270.8 1359.3 1270.7 1360.2 1270.2 1361.1 1272.3 1362.0 1272.4 1362.9 1272.2 1363.8 1271.8 1364.7 1269.3 1365.6 1269.6 1366.5 1268.0 1367.4 1272.4 1368.3 1269.1 1369.2 1268.8 1370.1 1263.7 1371.0 1266.3 1371.9 1268.2 1372.8 1268.5 1373.7 1268.3 1374.6 1266.6 1375.5 1271.4 1376.4 1273.4 1377.3 1277.6 1378.2 1278.2 1379.1 1279.4 1380.0 1279.3 1380.9 1278.4 1381.8 1275.3 1382.7 1272.9 1383.6 1272.1 1384.5 1273.7 1385.4 1274.0 1386.3 1274.6 1387.2 1275.6 1388.1 1276.9 1389.0 1276.5 1389.9 1275.2 1390.8 1275.4 1391.7 1273.9 1392.6 1271.5 1393.5 1268.8 1394.4 1266.4 1395.3 1263.6 1396.2 1263.2 1397.1 1263.3 1398.0 1265.9 1398.9 1262.1 1399.8 1262.1 1400.7 1260.1 1401.6 1266.6 1402.5 1264.5 1403.4 1267.0 1404.3 1261.3 1405.2 1263.3 1406.1 1260.2 1407.0 1262.5 1407.9 1260.6 1408.8 1260.6 1409.7 1262.1 1410.6 1265.8 1411.5 1269.0 1412.4 1268.7 1413.3 1269.1 1414.2 1269.2 1415.1 1268.0 1416.0 1268.9 1416.9 1266.3 1417.8 1266.5 1418.7 1263.5 1419.6 1262.9 1420.5 1262.2 1421.4 1259.8 1422.3 1256.4 1423.2 1255.8 1424.1 1253.8 1425.0 1256.6 1425.9 1255.4 1426.8 1257.2 1427.7 1252.9 1428.6 1244.1 1429.5 1240.1 1430.4 1239.2 1431.3 1241.4 1432.2 1242.1 1433.1 1241.3 1434.0 1239.5 1434.9 1239.5 1435.8 1234.4 1436.7 1238.3 1437.6 1229.1 1438.5 1229.9 1439.4 1221.9 1440.3 1224.6 1441.2 1220.0 1442.1 1220.2 1443.0 1218.0 1443.9 1220.1 1444.8 1224.1 1445.7 1219.7 1446.6 1216.7 1447.5 1208.7 1448.4 1216.8 1449.3 1218.9 1450.2 1219.3 1451.1 1212.4 1452.0 1214.4 1452.9 1216.2 1453.8 1216.8 1454.7 1216.6 1455.6 1215.0 1456.5 1218.8 1457.4 1218.9 1458.3 1224.2 1459.2 1221.6 1460.1 1219.6 1461.0 1213.4 1461.9 1208.4 1462.8 1204.6 1463.7 1203.2 1464.6 1198.0 1465.5 1196.9 1466.4 1196.8 1467.3 1192.7 1468.2 1187.6 1469.1 1184.1 1470.0 1188.5 1470.9 1182.8 1471.8 1177.9 1472.7 1168.1 1473.6 1173.0 1474.5 1179.5 1475.4 1186.0 1476.3 1184.9 1477.2 1186.5 1478.1 1186.3 1479.0 1184.4 1479.9 1179.7 1480.8 1173.9 1481.7 1182.2 1482.6 1172.6 1483.5 1168.5 1484.4 1157.9 1485.3 1158.4 1486.2 1151.5 1487.1 1152.3 1488.0 1151.1 1488.9 1158.3 1489.8 1151.2 1490.7 1153.4 1491.6 1152.1 1492.5 1154.1 1493.4 1154.7 1494.3 1156.3 1495.2 1153.3 1496.1 1148.2 1497.0 1141.6 1497.9 1142.9 1498.8 1133.3 1499.7 1127.5 1500.6 1118.4 1501.5 1126.4 1502.4 1128.9 1503.3 1128.6 1504.2 1126.1 1505.1 1132.8 1506.0 1144.6 1506.9 1147.0 1507.8 1147.4 1508.7 1149.8 1509.6 1156.9 1510.5 1157.0 1511.4 1157.3" fill="none" stroke="#7f86fb" stroke-width="4.6" stroke-linejoin="round" stroke-linecap="round" opacity="0.88"/>
<path d="M930.9 1325.6 931.8 1325.6 932.7 1326.4 933.6 1325.6 934.5 1326.2 935.4 1326.0 936.3 1326.0 937.2 1324.9 938.1 1324.2 939.0 1324.4 939.9 1325.6 940.8 1326.6 941.7 1326.7 942.6 1325.9 943.5 1326.3 944.4 1327.0 945.3 1326.9 946.2 1325.9 947.1 1325.3 948.0 1325.7 948.9 1326.2 949.8 1326.2 950.7 1326.3 951.6 1326.2 952.5 1326.7 953.4 1326.2 954.3 1325.8 955.2 1326.4 956.1 1326.6 957.0 1326.7 957.9 1326.0 958.8 1325.8 959.7 1325.6 960.6 1326.1 961.5 1327.0 962.4 1326.6 963.3 1325.9 964.2 1324.7 965.1 1324.5 966.0 1324.4 966.9 1325.7 967.8 1326.2 968.7 1326.6 969.6 1325.3 970.5 1325.2 971.4 1324.3 972.3 1324.7 973.2 1324.9 974.1 1324.9 975.0 1324.5 975.9 1323.1 976.8 1322.4 977.7 1322.4 978.6 1322.6 979.5 1322.0 980.4 1320.9 981.3 1321.4 982.2 1322.1 983.1 1322.5 984.0 1322.1 984.9 1322.0 985.8 1322.0 986.7 1321.4 987.6 1321.6 988.5 1321.9 989.4 1322.7 990.3 1322.5 991.2 1322.0 992.1 1321.0 993.0 1320.3 993.9 1319.9 994.8 1320.2 995.7 1320.5 996.6 1321.5 997.5 1322.3 998.4 1322.2 999.3 1321.8 1000.2 1320.5 1001.1 1320.2 1002.0 1319.5 1002.9 1320.2 1003.8 1320.4 1004.7 1320.6 1005.6 1320.6 1006.5 1319.9 1007.4 1320.3 1008.3 1320.6 1009.2 1322.3 1010.1 1321.8 1011.0 1321.4 1011.9 1319.7 1012.8 1321.1 1013.7 1321.2 1014.6 1322.4 1015.5 1320.9 1016.4 1320.8 1017.3 1320.3 1018.2 1320.5 1019.1 1320.0 1020.0 1319.8 1020.9 1319.9 1021.8 1319.6 1022.7 1320.8 1023.6 1321.2 1024.5 1322.1 1025.4 1321.5 1026.3 1321.3 1027.2 1321.2 1028.1 1321.4 1029.0 1321.3 1029.9 1322.0 1030.8 1321.6 1031.7 1322.3 1032.6 1321.1 1033.5 1321.4 1034.4 1321.1 1035.3 1322.3 1036.2 1322.8 1037.1 1321.9 1038.0 1320.9 1038.9 1321.0 1039.8 1321.3 1040.7 1320.8 1041.6 1320.5 1042.5 1321.0 1043.4 1321.2 1044.3 1320.3 1045.2 1320.6 1046.1 1321.1 1047.0 1321.1 1047.9 1320.2 1048.8 1321.2 1049.7 1320.6 1050.6 1321.0 1051.5 1320.4 1052.4 1321.5 1053.3 1321.7 1054.2 1321.7 1055.1 1321.7 1056.0 1321.6 1056.9 1322.3 1057.8 1320.9 1058.7 1320.6 1059.6 1320.0 1060.5 1320.5 1061.4 1321.4 1062.3 1321.6 1063.2 1321.5 1064.1 1320.7 1065.0 1320.8 1065.9 1321.8 1066.8 1321.6 1067.7 1321.5 1068.6 1321.7 1069.5 1321.7 1070.4 1321.3 1071.3 1321.9 1072.2 1323.0 1073.1 1322.7 1074.0 1321.8 1074.9 1322.0 1075.8 1322.9 1076.7 1323.3 1077.6 1322.5 1078.5 1322.4 1079.4 1322.9 1080.3 1321.9 1081.2 1322.3 1082.1 1321.5 1083.0 1322.1 1083.9 1321.4 1084.8 1321.4 1085.7 1321.6 1086.6 1322.0 1087.5 1322.4 1088.4 1323.4 1089.3 1322.7 1090.2 1323.4 1091.1 1322.4 1092.0 1323.3 1092.9 1322.8 1093.8 1323.9 1094.7 1323.2 1095.6 1323.4 1096.5 1323.7 1097.4 1324.9 1098.3 1324.7 1099.2 1324.3 1100.1 1324.2 1101.0 1324.5 1101.9 1324.7 1102.8 1324.6 1103.7 1323.3 1104.6 1323.0 1105.5 1324.2 1106.4 1325.1 1107.3 1324.6 1108.2 1322.9 1109.1 1322.6 1110.0 1322.6 1110.9 1322.5 1111.8 1323.8 1112.7 1323.8 1113.6 1324.1 1114.5 1323.0 1115.4 1322.7 1116.3 1322.0 1117.2 1321.5 1118.1 1322.6 1119.0 1322.8 1119.9 1322.6 1120.8 1321.9 1121.7 1323.0 1122.6 1323.8 1123.5 1323.8 1124.4 1322.8 1125.3 1322.4 1126.2 1321.9 1127.1 1322.3 1128.0 1320.8 1128.9 1321.0 1129.8 1319.8 1130.7 1321.3 1131.6 1321.1 1132.5 1322.1 1133.4 1323.0 1134.3 1323.4 1135.2 1322.1 1136.1 1320.8 1137.0 1320.5 1137.9 1320.6 1138.8 1320.3 1139.7 1321.3 1140.6 1322.2 1141.5 1322.3 1142.4 1320.9 1143.3 1320.4 1144.2 1320.5 1145.1 1321.2 1146.0 1321.5 1146.9 1321.8 1147.8 1321.0 1148.7 1320.3 1149.6 1319.4 1150.5 1319.6 1151.4 1320.7 1152.3 1321.2 1153.2 1321.7 1154.1 1321.3 1155.0 1322.4 1155.9 1321.3 1156.8 1320.5 1157.7 1319.3 1158.6 1320.7 1159.5 1321.4 1160.4 1321.1 1161.3 1320.0 1162.2 1319.5 1163.1 1321.2 1164.0 1321.3 1164.9 1321.7 1165.8 1320.1 1166.7 1319.6 1167.6 1319.3 1168.5 1319.3 1169.4 1319.1 1170.3 1319.3 1171.2 1320.0 1172.1 1320.1 1173.0 1319.8 1173.9 1319.7 1174.8 1320.7 1175.7 1319.6 1176.6 1319.1 1177.5 1317.5 1178.4 1316.8 1179.3 1317.4 1180.2 1318.2 1181.1 1319.4 1182.0 1318.6 1182.9 1318.5 1183.8 1317.9 1184.7 1318.2 1185.6 1318.3 1186.5 1317.5 1187.4 1317.8 1188.3 1318.6 1189.2 1319.8 1190.1 1319.9 1191.0 1319.1 1191.9 1318.5 1192.8 1318.2 1193.7 1318.3 1194.6 1317.4 1195.5 1316.5 1196.4 1316.1 1197.3 1318.0 1198.2 1318.0 1199.1 1317.4 1200.0 1315.2 1200.9 1314.9 1201.8 1314.8 1202.7 1315.2 1203.6 1314.5 1204.5 1313.7 1205.4 1313.4 1206.3 1314.0 1207.2 1315.0 1208.1 1314.0 1209.0 1313.4 1209.9 1313.6 1210.8 1314.6 1211.7 1314.2 1212.6 1313.2 1213.5 1312.5 1214.4 1312.9 1215.3 1312.8 1216.2 1313.2 1217.1 1313.0 1218.0 1313.2 1218.9 1313.3 1219.8 1313.6 1220.7 1313.0 1221.6 1312.1 1222.5 1311.9 1223.4 1311.8 1224.3 1311.0 1225.2 1309.7 1226.1 1309.0 1227.0 1309.7 1227.9 1310.0 1228.8 1311.5 1229.7 1311.7 1230.6 1311.9 1231.5 1311.8 1232.4 1311.9 1233.3 1310.6 1234.2 1309.3 1235.1 1308.1 1236.0 1308.4 1236.9 1309.1 1237.8 1311.6 1238.7 1312.2 1239.6 1311.3 1240.5 1308.4 1241.4 1307.8 1242.3 1308.7 1243.2 1308.5 1244.1 1308.4 1245.0 1307.7 1245.9 1308.8 1246.8 1310.1 1247.7 1309.1 1248.6 1308.2 1249.5 1305.1 1250.4 1304.3 1251.3 1303.0 1252.2 1303.5 1253.1 1303.9 1254.0 1304.9 1254.9 1305.2 1255.8 1304.0 1256.7 1302.2 1257.6 1300.3 1258.5 1300.1 1259.4 1300.2 1260.3 1299.7 1261.2 1299.9 1262.1 1298.9 1263.0 1299.4 1263.9 1298.0 1264.8 1298.9 1265.7 1299.0 1266.6 1298.3 1267.5 1297.9 1268.4 1298.9 1269.3 1299.8 1270.2 1297.9 1271.1 1297.7 1272.0 1295.8 1272.9 1297.2 1273.8 1293.5 1274.7 1294.7 1275.6 1293.4 1276.5 1294.6 1277.4 1293.8 1278.3 1292.6 1279.2 1290.6 1280.1 1289.7 1281.0 1292.3 1281.9 1294.5 1282.8 1296.7 1283.7 1297.3 1284.6 1298.8 1285.5 1296.8 1286.4 1294.6 1287.3 1291.9 1288.2 1294.4 1289.1 1295.4 1290.0 1297.0 1290.9 1297.7 1291.8 1297.9 1292.7 1297.1 1293.6 1294.1 1294.5 1295.3 1295.4 1296.8 1296.3 1297.6 1297.2 1296.1 1298.1 1294.8 1299.0 1294.9 1299.9 1296.2 1300.8 1295.1 1301.7 1293.7 1302.6 1293.4 1303.5 1295.1 1304.4 1295.7 1305.3 1294.5 1306.2 1294.5 1307.1 1294.4 1308.0 1292.6 1308.9 1290.2 1309.8 1290.7 1310.7 1292.1 1311.6 1293.5 1312.5 1290.7 1313.4 1291.9 1314.3 1291.6 1315.2 1293.0 1316.1 1291.7 1317.0 1290.9 1317.9 1290.7 1318.8 1287.9 1319.7 1287.0 1320.6 1288.2 1321.5 1290.3 1322.4 1290.2 1323.3 1289.4 1324.2 1291.2 1325.1 1292.0 1326.0 1292.3 1326.9 1289.9 1327.8 1287.8 1328.7 1288.6 1329.6 1288.4 1330.5 1291.2 1331.4 1290.5 1332.3 1293.1 1333.2 1291.5 1334.1 1291.5 1335.0 1288.5 1335.9 1287.4 1336.8 1284.3 1337.7 1285.5 1338.6 1285.3 1339.5 1290.0 1340.4 1290.6 1341.3 1293.2 1342.2 1290.2 1343.1 1289.7 1344.0 1287.6 1344.9 1285.6 1345.8 1283.2 1346.7 1284.0 1347.6 1285.0 1348.5 1286.2 1349.4 1283.4 1350.3 1284.0 1351.2 1284.7 1352.1 1286.4 1353.0 1282.3 1353.9 1279.6 1354.8 1278.7 1355.7 1282.6 1356.6 1283.2 1357.5 1283.9 1358.4 1280.9 1359.3 1279.4 1360.2 1277.1 1361.1 1279.8 1362.0 1278.0 1362.9 1278.0 1363.8 1273.4 1364.7 1277.5 1365.6 1278.7 1366.5 1279.7 1367.4 1278.1 1368.3 1277.7 1369.2 1278.1 1370.1 1277.2 1371.0 1276.6 1371.9 1277.4 1372.8 1275.4 1373.7 1275.3 1374.6 1277.2 1375.5 1280.4 1376.4 1285.2 1377.3 1286.6 1378.2 1287.1 1379.1 1281.8 1380.0 1279.2 1380.9 1278.7 1381.8 1283.5 1382.7 1284.8 1383.6 1282.6 1384.5 1281.1 1385.4 1281.8 1386.3 1285.2 1387.2 1285.8 1388.1 1283.3 1389.0 1281.5 1389.9 1280.2 1390.8 1282.2 1391.7 1281.0 1392.6 1281.2 1393.5 1280.7 1394.4 1278.1 1395.3 1277.2 1396.2 1276.0 1397.1 1277.7 1398.0 1275.8 1398.9 1275.6 1399.8 1278.4 1400.7 1279.3 1401.6 1276.0 1402.5 1272.6 1403.4 1271.4 1404.3 1269.2 1405.2 1268.8 1406.1 1266.8 1407.0 1268.8 1407.9 1266.0 1408.8 1266.6 1409.7 1264.7 1410.6 1263.9 1411.5 1262.5 1412.4 1264.6 1413.3 1264.5 1414.2 1262.9 1415.1 1261.9 1416.0 1262.7 1416.9 1262.7 1417.8 1262.6 1418.7 1262.6 1419.6 1260.0 1420.5 1255.6 1421.4 1256.6 1422.3 1256.3 1423.2 1254.2 1424.1 1249.7 1425.0 1250.5 1425.9 1254.7 1426.8 1258.1 1427.7 1257.2 1428.6 1251.3 1429.5 1245.9 1430.4 1246.4 1431.3 1252.1 1432.2 1252.3 1433.1 1248.9 1434.0 1244.6 1434.9 1241.7 1435.8 1240.5 1436.7 1245.0 1437.6 1250.4 1438.5 1250.8 1439.4 1243.2 1440.3 1240.9 1441.2 1242.8 1442.1 1245.7 1443.0 1238.6 1443.9 1235.5 1444.8 1231.1 1445.7 1235.9 1446.6 1228.9 1447.5 1231.0 1448.4 1225.6 1449.3 1232.0 1450.2 1227.6 1451.1 1230.2 1452.0 1226.0 1452.9 1224.5 1453.8 1219.2 1454.7 1222.2 1455.6 1220.6 1456.5 1221.4 1457.4 1218.9 1458.3 1217.0 1459.2 1215.2 1460.1 1211.2 1461.0 1216.6 1461.9 1214.4 1462.8 1216.6 1463.7 1210.1 1464.6 1208.3 1465.5 1208.9 1466.4 1214.1 1467.3 1219.8 1468.2 1211.7 1469.1 1214.0 1470.0 1213.6 1470.9 1221.8 1471.8 1222.5 1472.7 1222.2 1473.6 1220.3 1474.5 1210.4 1475.4 1206.3 1476.3 1206.7 1477.2 1202.5 1478.1 1202.2 1479.0 1196.8 1479.9 1199.0 1480.8 1199.4 1481.7 1198.6 1482.6 1194.4 1483.5 1187.0 1484.4 1187.0 1485.3 1191.6 1486.2 1187.0 1487.1 1181.0 1488.0 1178.1 1488.9 1186.1 1489.8 1188.9 1490.7 1184.1 1491.6 1180.3 1492.5 1173.7 1493.4 1175.0 1494.3 1170.4 1495.2 1175.3 1496.1 1176.9 1497.0 1180.5 1497.9 1176.3 1498.8 1170.6 1499.7 1165.6 1500.6 1171.0 1501.5 1170.3 1502.4 1168.9 1503.3 1160.1 1504.2 1158.3 1505.1 1162.6 1506.0 1167.1 1506.9 1173.5 1507.8 1171.4 1508.7 1170.6 1509.6 1171.1 1510.5 1170.5 1511.4 1174.2" fill="none" stroke="#7f86fb" stroke-width="4.6" stroke-linejoin="round" stroke-linecap="round" opacity="0.88"/>
<path d="M930.9 1326.3 931.8 1326.7 932.7 1327.0 933.6 1326.6 934.5 1325.6 935.4 1325.2 936.3 1326.0 937.2 1326.6 938.1 1326.1 939.0 1326.7 939.9 1327.0 940.8 1327.5 941.7 1327.6 942.6 1327.4 943.5 1327.0 944.4 1326.7 945.3 1326.0 946.2 1326.8 947.1 1326.6 948.0 1327.0 948.9 1326.3 949.8 1326.8 950.7 1326.9 951.6 1327.0 952.5 1326.2 953.4 1326.6 954.3 1326.9 955.2 1327.3 956.1 1327.2 957.0 1328.1 957.9 1327.7 958.8 1327.2 959.7 1325.9 960.6 1326.3 961.5 1327.1 962.4 1327.4 963.3 1326.8 964.2 1325.9 965.1 1326.2 966.0 1326.9 966.9 1327.5 967.8 1326.8 968.7 1326.4 969.6 1326.0 970.5 1326.3 971.4 1326.5 972.3 1326.4 973.2 1326.4 974.1 1325.9 975.0 1325.8 975.9 1325.6 976.8 1324.8 977.7 1324.3 978.6 1323.7 979.5 1323.9 980.4 1323.8 981.3 1324.6 982.2 1324.3 983.1 1324.8 984.0 1323.1 984.9 1323.2 985.8 1322.7 986.7 1323.6 987.6 1324.0 988.5 1324.2 989.4 1323.5 990.3 1322.8 991.2 1322.7 992.1 1322.8 993.0 1322.4 993.9 1321.4 994.8 1321.1 995.7 1322.0 996.6 1322.7 997.5 1323.6 998.4 1323.1 999.3 1323.2 1000.2 1323.2 1001.1 1323.3 1002.0 1323.5 1002.9 1322.9 1003.8 1322.9 1004.7 1322.5 1005.6 1322.3 1006.5 1322.7 1007.4 1322.7 1008.3 1323.4 1009.2 1323.4 1010.1 1323.9 1011.0 1324.3 1011.9 1324.0 1012.8 1323.6 1013.7 1323.3 1014.6 1322.5 1015.5 1321.9 1016.4 1321.3 1017.3 1321.6 1018.2 1322.5 1019.1 1322.7 1020.0 1322.9 1020.9 1323.3 1021.8 1323.6 1022.7 1324.1 1023.6 1323.0 1024.5 1323.0 1025.4 1322.2 1026.3 1322.4 1027.2 1322.9 1028.1 1322.5 1029.0 1322.9 1029.9 1322.5 1030.8 1323.1 1031.7 1322.1 1032.6 1322.0 1033.5 1322.0 1034.4 1322.8 1035.3 1322.8 1036.2 1323.8 1037.1 1323.5 1038.0 1323.0 1038.9 1322.3 1039.8 1322.5 1040.7 1323.6 1041.6 1323.9 1042.5 1324.0 1043.4 1324.0 1044.3 1323.0 1045.2 1322.5 1046.1 1321.3 1047.0 1321.8 1047.9 1321.4 1048.8 1322.2 1049.7 1322.4 1050.6 1322.3 1051.5 1321.6 1052.4 1321.9 1053.3 1323.0 1054.2 1324.6 1055.1 1325.9 1056.0 1325.7 1056.9 1324.3 1057.8 1321.8 1058.7 1321.8 1059.6 1321.9 1060.5 1322.8 1061.4 1322.4 1062.3 1322.7 1063.2 1323.5 1064.1 1323.9 1065.0 1323.9 1065.9 1322.9 1066.8 1322.1 1067.7 1322.0 1068.6 1322.5 1069.5 1324.2 1070.4 1324.6 1071.3 1325.2 1072.2 1324.1 1073.1 1323.6 1074.0 1322.7 1074.9 1322.7 1075.8 1324.4 1076.7 1324.5 1077.6 1325.3 1078.5 1324.0 1079.4 1324.9 1080.3 1324.7 1081.2 1325.2 1082.1 1324.8 1083.0 1324.4 1083.9 1324.8 1084.8 1324.6 1085.7 1324.5 1086.6 1323.7 1087.5 1324.1 1088.4 1325.5 1089.3 1326.2 1090.2 1326.2 1091.1 1325.7 1092.0 1326.3 1092.9 1326.5 1093.8 1326.3 1094.7 1326.1 1095.6 1326.2 1096.5 1327.0 1097.4 1326.5 1098.3 1325.7 1099.2 1324.3 1100.1 1325.0 1101.0 1326.3 1101.9 1326.8 1102.8 1325.8 1103.7 1325.6 1104.6 1325.1 1105.5 1324.9 1106.4 1324.4 1107.3 1324.7 1108.2 1325.1 1109.1 1324.6 1110.0 1324.9 1110.9 1325.5 1111.8 1325.6 1112.7 1325.7 1113.6 1324.0 1114.5 1323.9 1115.4 1323.2 1116.3 1323.5 1117.2 1323.1 1118.1 1323.3 1119.0 1324.2 1119.9 1323.9 1120.8 1324.1 1121.7 1323.4 1122.6 1323.8 1123.5 1324.3 1124.4 1324.7 1125.3 1325.5 1126.2 1324.9 1127.1 1324.3 1128.0 1323.6 1128.9 1323.7 1129.8 1324.1 1130.7 1323.7 1131.6 1323.6 1132.5 1323.6 1133.4 1325.3 1134.3 1326.2 1135.2 1325.7 1136.1 1324.3 1137.0 1322.7 1137.9 1322.8 1138.8 1323.0 1139.7 1324.3 1140.6 1324.2 1141.5 1323.7 1142.4 1322.1 1143.3 1322.4 1144.2 1322.2 1145.1 1322.9 1146.0 1322.6 1146.9 1323.0 1147.8 1322.4 1148.7 1322.1 1149.6 1323.2 1150.5 1323.4 1151.4 1323.5 1152.3 1323.4 1153.2 1325.4 1154.1 1325.3 1155.0 1324.3 1155.9 1323.0 1156.8 1324.4 1157.7 1324.0 1158.6 1323.7 1159.5 1323.2 1160.4 1323.9 1161.3 1323.8 1162.2 1323.3 1163.1 1322.3 1164.0 1322.4 1164.9 1322.3 1165.8 1323.0 1166.7 1322.8 1167.6 1323.1 1168.5 1323.5 1169.4 1323.8 1170.3 1323.7 1171.2 1323.2 1172.1 1323.1 1173.0 1322.5 1173.9 1322.6 1174.8 1322.5 1175.7 1323.9 1176.6 1324.5 1177.5 1324.7 1178.4 1323.2 1179.3 1321.8 1180.2 1322.1 1181.1 1322.6 1182.0 1323.3 1182.9 1321.8 1183.8 1322.0 1184.7 1322.0 1185.6 1322.2 1186.5 1321.4 1187.4 1321.3 1188.3 1321.8 1189.2 1321.8 1190.1 1321.6 1191.0 1321.4 1191.9 1321.5 1192.8 1322.3 1193.7 1321.0 1194.6 1320.7 1195.5 1320.0 1196.4 1321.4 1197.3 1321.3 1198.2 1320.2 1199.1 1320.2 1200.0 1321.1 1200.9 1321.1 1201.8 1321.2 1202.7 1319.9 1203.6 1320.5 1204.5 1319.3 1205.4 1319.1 1206.3 1319.7 1207.2 1320.4 1208.1 1321.4 1209.0 1321.2 1209.9 1320.9 1210.8 1320.8 1211.7 1320.2 1212.6 1320.2 1213.5 1318.8 1214.4 1318.5 1215.3 1317.4 1216.2 1318.0 1217.1 1317.0 1218.0 1317.7 1218.9 1316.8 1219.8 1318.1 1220.7 1317.9 1221.6 1319.0 1222.5 1318.5 1223.4 1316.9 1224.3 1315.6 1225.2 1314.2 1226.1 1314.6 1227.0 1315.5 1227.9 1316.4 1228.8 1316.2 1229.7 1314.3 1230.6 1313.8 1231.5 1313.3 1232.4 1313.5 1233.3 1313.6 1234.2 1315.0 1235.1 1315.8 1236.0 1314.0 1236.9 1313.3 1237.8 1312.9 1238.7 1314.6 1239.6 1315.4 1240.5 1313.9 1241.4 1313.1 1242.3 1312.3 1243.2 1312.5 1244.1 1313.8 1245.0 1313.6 1245.9 1315.2 1246.8 1313.7 1247.7 1313.9 1248.6 1314.0 1249.5 1314.4 1250.4 1313.9 1251.3 1313.3 1252.2 1312.5 1253.1 1312.1 1254.0 1311.7 1254.9 1312.5 1255.8 1313.2 1256.7 1312.5 1257.6 1312.0 1258.5 1312.3 1259.4 1312.4 1260.3 1311.8 1261.2 1310.8 1262.1 1312.1 1263.0 1312.9 1263.9 1314.0 1264.8 1314.3 1265.7 1315.1 1266.6 1314.8 1267.5 1316.1 1268.4 1315.6 1269.3 1314.2 1270.2 1314.0 1271.1 1314.1 1272.0 1315.7 1272.9 1315.8 1273.8 1315.3 1274.7 1314.7 1275.6 1313.2 1276.5 1314.0 1277.4 1315.2 1278.3 1316.4 1279.2 1317.0 1280.1 1315.7 1281.0 1313.9 1281.9 1313.6 1282.8 1314.1 1283.7 1315.8 1284.6 1316.1 1285.5 1316.4 1286.4 1316.5 1287.3 1316.1 1288.2 1316.3 1289.1 1315.3 1290.0 1314.9 1290.9 1314.6 1291.8 1315.5 1292.7 1315.2 1293.6 1314.9 1294.5 1313.7 1295.4 1313.3 1296.3 1313.0 1297.2 1311.2 1298.1 1309.8 1299.0 1307.6 1299.9 1306.8 1300.8 1306.6 1301.7 1307.7 1302.6 1308.7 1303.5 1308.9 1304.4 1308.6 1305.3 1309.3 1306.2 1308.6 1307.1 1308.3 1308.0 1306.8 1308.9 1306.2 1309.8 1304.8 1310.7 1303.7 1311.6 1303.9 1312.5 1304.2 1313.4 1306.3 1314.3 1308.5 1315.2 1307.9 1316.1 1307.7 1317.0 1305.7 1317.9 1307.4 1318.8 1307.2 1319.7 1306.7 1320.6 1307.3 1321.5 1307.1 1322.4 1308.3 1323.3 1306.9 1324.2 1306.9 1325.1 1307.5 1326.0 1308.1 1326.9 1308.8 1327.8 1308.6 1328.7 1309.7 1329.6 1309.1 1330.5 1307.6 1331.4 1307.3 1332.3 1307.2 1333.2 1309.2 1334.1 1308.5 1335.0 1308.6 1335.9 1307.9 1336.8 1309.1 1337.7 1310.7 1338.6 1310.4 1339.5 1308.7 1340.4 1307.1 1341.3 1305.5 1342.2 1304.9 1343.1 1303.1 1344.0 1303.3 1344.9 1301.5 1345.8 1299.3 1346.7 1296.2 1347.6 1295.1 1348.5 1295.3 1349.4 1296.1 1350.3 1298.3 1351.2 1299.0 1352.1 1297.6 1353.0 1295.2 1353.9 1292.8 1354.8 1292.8 1355.7 1292.4 1356.6 1293.3 1357.5 1293.1 1358.4 1293.8 1359.3 1291.8 1360.2 1292.0 1361.1 1293.4 1362.0 1294.7 1362.9 1296.1 1363.8 1293.2 1364.7 1293.4 1365.6 1291.6 1366.5 1291.2 1367.4 1289.5 1368.3 1289.9 1369.2 1288.9 1370.1 1290.3 1371.0 1290.7 1371.9 1291.7 1372.8 1290.3 1373.7 1289.2 1374.6 1288.1 1375.5 1289.1 1376.4 1286.1 1377.3 1285.7 1378.2 1282.4 1379.1 1283.1 1380.0 1285.3 1380.9 1288.8 1381.8 1289.9 1382.7 1286.9 1383.6 1282.7 1384.5 1283.2 1385.4 1287.8 1386.3 1291.9 1387.2 1292.1 1388.1 1290.1 1389.0 1288.1 1389.9 1288.6 1390.8 1288.5 1391.7 1290.3 1392.6 1291.7 1393.5 1292.2 1394.4 1293.3 1395.3 1291.9 1396.2 1292.7 1397.1 1293.9 1398.0 1293.9 1398.9 1292.2 1399.8 1292.1 1400.7 1293.1 1401.6 1295.8 1402.5 1294.1 1403.4 1296.0 1404.3 1294.5 1405.2 1295.0 1406.1 1294.9 1407.0 1294.2 1407.9 1292.7 1408.8 1290.3 1409.7 1290.9 1410.6 1290.0 1411.5 1291.0 1412.4 1289.7 1413.3 1292.4 1414.2 1288.9 1415.1 1288.4 1416.0 1285.0 1416.9 1286.0 1417.8 1286.2 1418.7 1287.0 1419.6 1286.7 1420.5 1285.4 1421.4 1284.9 1422.3 1283.1 1423.2 1283.2 1424.1 1282.9 1425.0 1283.8 1425.9 1282.7 1426.8 1281.4 1427.7 1282.7 1428.6 1280.9 1429.5 1279.8 1430.4 1276.7 1431.3 1276.1 1432.2 1275.5 1433.1 1275.9 1434.0 1277.8 1434.9 1280.4 1435.8 1282.2 1436.7 1281.9 1437.6 1283.2 1438.5 1284.7 1439.4 1286.2 1440.3 1285.2 1441.2 1285.9 1442.1 1287.2 1443.0 1287.2 1443.9 1287.4 1444.8 1288.4 1445.7 1289.9 1446.6 1291.1 1447.5 1290.2 1448.4 1293.5 1449.3 1293.0 1450.2 1292.3 1451.1 1289.1 1452.0 1282.7 1452.9 1279.4 1453.8 1276.4 1454.7 1275.9 1455.6 1276.2 1456.5 1277.2 1457.4 1275.0 1458.3 1270.6 1459.2 1264.8 1460.1 1266.0 1461.0 1262.2 1461.9 1259.1 1462.8 1256.4 1463.7 1252.5 1464.6 1246.5 1465.5 1243.3 1466.4 1246.9 1467.3 1252.0 1468.2 1254.6 1469.1 1253.7 1470.0 1254.6 1470.9 1254.5 1471.8 1259.0 1472.7 1255.5 1473.6 1253.9 1474.5 1251.1 1475.4 1252.1 1476.3 1252.7 1477.2 1247.0 1478.1 1245.1 1479.0 1240.7 1479.9 1242.9 1480.8 1237.5 1481.7 1239.5 1482.6 1236.5 1483.5 1235.8 1484.4 1235.5 1485.3 1236.7 1486.2 1237.2 1487.1 1237.9 1488.0 1235.5 1488.9 1236.0 1489.8 1232.6 1490.7 1231.6 1491.6 1233.0 1492.5 1231.7 1493.4 1232.6 1494.3 1235.0 1495.2 1234.4 1496.1 1230.6 1497.0 1231.4 1497.9 1235.9 1498.8 1237.4 1499.7 1226.3 1500.6 1216.4 1501.5 1213.4 1502.4 1214.4 1503.3 1209.2 1504.2 1207.3 1505.1 1204.9 1506.0 1199.7 1506.9 1195.8 1507.8 1196.0 1508.7 1200.1 1509.6 1199.7 1510.5 1196.1 1511.4 1198.3" fill="none" stroke="#7f86fb" stroke-width="4.6" stroke-linejoin="round" stroke-linecap="round" opacity="0.88"/>
<path d="M930.9 1324.6 931.8 1324.4 932.7 1323.8 933.6 1322.6 934.5 1323.3 935.4 1323.8 936.3 1324.9 937.2 1324.0 938.1 1324.6 939.0 1325.0 939.9 1325.3 940.8 1324.5 941.7 1323.9 942.6 1323.6 943.5 1323.9 944.4 1323.8 945.3 1324.4 946.2 1324.3 947.1 1324.4 948.0 1324.9 948.9 1324.7 949.8 1324.2 950.7 1323.6 951.6 1323.0 952.5 1323.9 953.4 1324.2 954.3 1325.2 955.2 1325.1 956.1 1323.7 957.0 1324.0 957.9 1324.1 958.8 1324.6 959.7 1325.2 960.6 1324.5 961.5 1324.3 962.4 1322.5 963.3 1323.1 964.2 1324.1 965.1 1325.2 966.0 1325.0 966.9 1324.4 967.8 1324.4 968.7 1323.9 969.6 1323.5 970.5 1323.5 971.4 1323.8 972.3 1324.4 973.2 1323.8 974.1 1323.2 975.0 1322.5 975.9 1322.3 976.8 1322.0 977.7 1322.2 978.6 1321.6 979.5 1321.1 980.4 1321.2 981.3 1320.3 982.2 1320.9 983.1 1320.2 984.0 1321.3 984.9 1320.4 985.8 1319.8 986.7 1318.8 987.6 1319.3 988.5 1319.9 989.4 1319.9 990.3 1319.6 991.2 1319.5 992.1 1320.5 993.0 1319.7 993.9 1319.1 994.8 1318.4 995.7 1319.3 996.6 1320.1 997.5 1319.5 998.4 1319.0 999.3 1318.7 1000.2 1317.3 1001.1 1317.7 1002.0 1318.6 1002.9 1320.2 1003.8 1320.7 1004.7 1318.8 1005.6 1318.9 1006.5 1318.6 1007.4 1320.2 1008.3 1319.7 1009.2 1318.3 1010.1 1317.5 1011.0 1319.0 1011.9 1320.2 1012.8 1319.0 1013.7 1317.5 1014.6 1318.1 1015.5 1318.8 1016.4 1319.5 1017.3 1317.9 1018.2 1317.9 1019.1 1318.3 1020.0 1319.5 1020.9 1319.2 1021.8 1319.3 1022.7 1320.0 1023.6 1320.3 1024.5 1319.3 1025.4 1319.5 1026.3 1319.4 1027.2 1319.7 1028.1 1320.0 1029.0 1320.4 1029.9 1320.2 1030.8 1318.1 1031.7 1318.0 1032.6 1318.2 1033.5 1318.9 1034.4 1319.4 1035.3 1318.8 1036.2 1318.2 1037.1 1317.2 1038.0 1317.9 1038.9 1317.9 1039.8 1317.7 1040.7 1317.2 1041.6 1318.0 1042.5 1318.3 1043.4 1319.3 1044.3 1318.0 1045.2 1318.7 1046.1 1317.9 1047.0 1319.4 1047.9 1320.4 1048.8 1320.7 1049.7 1320.7 1050.6 1320.1 1051.5 1319.4 1052.4 1319.8 1053.3 1319.8 1054.2 1320.6 1055.1 1320.6 1056.0 1320.3 1056.9 1320.0 1057.8 1319.0 1058.7 1319.6 1059.6 1321.0 1060.5 1321.4 1061.4 1321.1 1062.3 1319.5 1063.2 1319.8 1064.1 1319.4 1065.0 1319.5 1065.9 1319.8 1066.8 1320.7 1067.7 1321.6 1068.6 1321.5 1069.5 1321.7 1070.4 1321.5 1071.3 1322.7 1072.2 1321.3 1073.1 1322.7 1074.0 1321.7 1074.9 1321.7 1075.8 1319.5 1076.7 1320.1 1077.6 1321.2 1078.5 1322.2 1079.4 1322.0 1080.3 1320.8 1081.2 1320.3 1082.1 1318.7 1083.0 1318.8 1083.9 1319.2 1084.8 1319.5 1085.7 1321.2 1086.6 1321.5 1087.5 1321.9 1088.4 1321.0 1089.3 1320.6 1090.2 1321.1 1091.1 1321.0 1092.0 1320.5 1092.9 1320.6 1093.8 1320.5 1094.7 1321.0 1095.6 1321.2 1096.5 1321.1 1097.4 1321.5 1098.3 1321.8 1099.2 1321.0 1100.1 1320.1 1101.0 1320.5 1101.9 1322.0 1102.8 1322.8 1103.7 1321.9 1104.6 1321.5 1105.5 1321.6 1106.4 1321.0 1107.3 1320.6 1108.2 1319.6 1109.1 1320.2 1110.0 1320.2 1110.9 1321.9 1111.8 1321.1 1112.7 1320.9 1113.6 1320.4 1114.5 1321.9 1115.4 1322.6 1116.3 1321.7 1117.2 1321.4 1118.1 1320.7 1119.0 1322.0 1119.9 1322.0 1120.8 1322.3 1121.7 1321.7 1122.6 1321.0 1123.5 1321.2 1124.4 1320.4 1125.3 1321.1 1126.2 1320.4 1127.1 1321.5 1128.0 1321.3 1128.9 1322.6 1129.8 1320.7 1130.7 1321.3 1131.6 1320.6 1132.5 1321.9 1133.4 1322.3 1134.3 1320.9 1135.2 1320.8 1136.1 1320.2 1137.0 1321.2 1137.9 1320.8 1138.8 1320.3 1139.7 1319.7 1140.6 1319.6 1141.5 1318.8 1142.4 1319.5 1143.3 1319.8 1144.2 1321.5 1145.1 1321.3 1146.0 1320.1 1146.9 1319.1 1147.8 1317.9 1148.7 1318.5 1149.6 1318.0 1150.5 1317.9 1151.4 1317.6 1152.3 1317.1 1153.2 1317.7 1154.1 1317.8 1155.0 1318.1 1155.9 1318.9 1156.8 1319.2 1157.7 1319.4 1158.6 1318.9 1159.5 1319.6 1160.4 1320.1 1161.3 1318.7 1162.2 1317.8 1163.1 1317.3 1164.0 1318.4 1164.9 1317.9 1165.8 1317.4 1166.7 1316.2 1167.6 1315.9 1168.5 1315.1 1169.4 1316.3 1170.3 1316.1 1171.2 1316.1 1172.1 1315.4 1173.0 1315.7 1173.9 1315.8 1174.8 1315.7 1175.7 1315.1 1176.6 1315.8 1177.5 1315.4 1178.4 1315.9 1179.3 1315.3 1180.2 1314.8 1181.1 1314.8 1182.0 1314.0 1182.9 1315.2 1183.8 1314.7 1184.7 1317.0 1185.6 1316.5 1186.5 1316.7 1187.4 1314.9 1188.3 1314.8 1189.2 1315.1 1190.1 1315.7 1191.0 1315.9 1191.9 1315.6 1192.8 1316.0 1193.7 1314.9 1194.6 1314.6 1195.5 1314.3 1196.4 1314.2 1197.3 1314.3 1198.2 1314.9 1199.1 1315.4 1200.0 1314.9 1200.9 1314.5 1201.8 1313.6 1202.7 1313.5 1203.6 1313.3 1204.5 1313.4 1205.4 1313.7 1206.3 1312.8 1207.2 1314.2 1208.1 1312.9 1209.0 1312.5 1209.9 1311.0 1210.8 1312.1 1211.7 1312.7 1212.6 1313.1 1213.5 1313.7 1214.4 1313.6 1215.3 1312.3 1216.2 1310.1 1217.1 1309.1 1218.0 1309.5 1218.9 1310.1 1219.8 1311.1 1220.7 1310.8 1221.6 1311.8 1222.5 1311.8 1223.4 1312.1 1224.3 1310.8 1225.2 1310.7 1226.1 1309.9 1227.0 1310.5 1227.9 1309.6 1228.8 1311.1 1229.7 1310.9 1230.6 1310.5 1231.5 1310.0 1232.4 1309.2 1233.3 1309.3 1234.2 1308.3 1235.1 1308.3 1236.0 1306.4 1236.9 1306.0 1237.8 1304.8 1238.7 1306.1 1239.6 1307.7 1240.5 1308.1 1241.4 1308.1 1242.3 1306.7 1243.2 1305.6 1244.1 1305.1 1245.0 1303.7 1245.9 1304.0 1246.8 1303.8 1247.7 1303.3 1248.6 1302.9 1249.5 1302.6 1250.4 1303.9 1251.3 1304.1 1252.2 1303.7 1253.1 1301.0 1254.0 1300.5 1254.9 1300.0 1255.8 1300.2 1256.7 1300.6 1257.6 1300.2 1258.5 1300.9 1259.4 1301.1 1260.3 1301.7 1261.2 1300.0 1262.1 1297.9 1263.0 1296.7 1263.9 1297.1 1264.8 1299.2 1265.7 1299.3 1266.6 1298.4 1267.5 1295.2 1268.4 1292.3 1269.3 1293.0 1270.2 1292.7 1271.1 1292.8 1272.0 1290.6 1272.9 1291.7 1273.8 1291.2 1274.7 1291.1 1275.6 1287.6 1276.5 1288.4 1277.4 1289.3 1278.3 1292.3 1279.2 1293.6 1280.1 1293.7 1281.0 1292.7 1281.9 1289.5 1282.8 1289.6 1283.7 1290.5 1284.6 1292.6 1285.5 1290.6 1286.4 1291.7 1287.3 1292.2 1288.2 1294.0 1289.1 1292.5 1290.0 1290.0 1290.9 1290.9 1291.8 1291.0 1292.7 1291.9 1293.6 1293.4 1294.5 1295.1 1295.4 1296.8 1296.3 1294.4 1297.2 1291.2 1298.1 1290.1 1299.0 1290.4 1299.9 1291.3 1300.8 1291.0 1301.7 1290.5 1302.6 1289.1 1303.5 1289.7 1304.4 1290.4 1305.3 1290.9 1306.2 1288.9 1307.1 1289.9 1308.0 1291.4 1308.9 1289.5 1309.8 1286.9 1310.7 1284.4 1311.6 1286.0 1312.5 1285.2 1313.4 1286.4 1314.3 1287.2 1315.2 1286.5 1316.1 1285.1 1317.0 1282.9 1317.9 1284.2 1318.8 1285.7 1319.7 1289.0 1320.6 1290.2 1321.5 1289.9 1322.4 1288.4 1323.3 1289.7 1324.2 1288.4 1325.1 1287.0 1326.0 1283.8 1326.9 1284.9 1327.8 1287.8 1328.7 1287.6 1329.6 1285.3 1330.5 1284.3 1331.4 1284.1 1332.3 1284.5 1333.2 1282.4 1334.1 1282.8 1335.0 1281.8 1335.9 1284.4 1336.8 1283.8 1337.7 1285.8 1338.6 1285.1 1339.5 1284.1 1340.4 1283.8 1341.3 1282.1 1342.2 1283.3 1343.1 1286.0 1344.0 1284.4 1344.9 1283.4 1345.8 1282.6 1346.7 1282.6 1347.6 1284.4 1348.5 1281.5 1349.4 1283.7 1350.3 1282.0 1351.2 1282.0 1352.1 1279.2 1353.0 1277.9 1353.9 1278.1 1354.8 1278.4 1355.7 1276.8 1356.6 1274.2 1357.5 1276.2 1358.4 1279.5 1359.3 1279.5 1360.2 1277.2 1361.1 1276.4 1362.0 1277.4 1362.9 1277.2 1363.8 1276.0 1364.7 1273.6 1365.6 1272.2 1366.5 1272.1 1367.4 1273.6 1368.3 1274.8 1369.2 1273.5 1370.1 1271.0 1371.0 1271.1 1371.9 1273.1 1372.8 1276.0 1373.7 1276.7 1374.6 1273.8 1375.5 1272.9 1376.4 1271.5 1377.3 1272.4 1378.2 1271.6 1379.1 1272.6 1380.0 1273.7 1380.9 1275.3 1381.8 1276.6 1382.7 1275.7 1383.6 1274.7 1384.5 1271.9 1385.4 1268.8 1386.3 1266.1 1387.2 1266.0 1388.1 1267.3 1389.0 1268.4 1389.9 1265.1 1390.8 1265.5 1391.7 1264.2 1392.6 1265.8 1393.5 1264.8 1394.4 1261.8 1395.3 1262.3 1396.2 1259.0 1397.1 1260.3 1398.0 1256.8 1398.9 1259.7 1399.8 1259.5 1400.7 1261.0 1401.6 1258.7 1402.5 1257.6 1403.4 1253.7 1404.3 1251.8 1405.2 1251.2 1406.1 1252.4 1407.0 1251.4 1407.9 1253.3 1408.8 1252.7 1409.7 1251.2 1410.6 1250.6 1411.5 1246.2 1412.4 1248.4 1413.3 1243.9 1414.2 1249.4 1415.1 1249.6 1416.0 1247.7 1416.9 1246.6 1417.8 1241.3 1418.7 1245.4 1419.6 1243.6 1420.5 1246.0 1421.4 1246.5 1422.3 1248.3 1423.2 1250.6 1424.1 1249.5 1425.0 1249.0 1425.9 1248.2 1426.8 1248.9 1427.7 1244.9 1428.6 1239.4 1429.5 1239.0 1430.4 1242.3 1431.3 1246.6 1432.2 1242.7 1433.1 1243.6 1434.0 1243.0 1434.9 1243.0 1435.8 1237.5 1436.7 1239.3 1437.6 1235.1 1438.5 1235.7 1439.4 1231.1 1440.3 1233.5 1441.2 1233.6 1442.1 1232.2 1443.0 1230.2 1443.9 1222.7 1444.8 1220.6 1445.7 1216.9 1446.6 1219.9 1447.5 1218.8 1448.4 1218.5 1449.3 1217.5 1450.2 1215.3 1451.1 1213.0 1452.0 1205.6 1452.9 1207.0 1453.8 1209.1 1454.7 1214.8 1455.6 1212.9 1456.5 1214.9 1457.4 1212.6 1458.3 1217.9 1459.2 1213.4 1460.1 1212.0 1461.0 1205.1 1461.9 1204.4 1462.8 1206.4 1463.7 1211.2 1464.6 1210.6 1465.5 1210.4 1466.4 1206.6 1467.3 1206.3 1468.2 1208.3 1469.1 1203.1 1470.0 1198.3 1470.9 1187.5 1471.8 1185.8 1472.7 1179.6 1473.6 1183.2 1474.5 1180.0 1475.4 1186.5 1476.3 1183.9 1477.2 1180.6 1478.1 1183.5 1479.0 1178.5 1479.9 1178.1 1480.8 1168.5 1481.7 1171.0 1482.6 1168.8 1483.5 1171.2 1484.4 1168.6 1485.3 1170.0 1486.2 1162.5 1487.1 1160.9 1488.0 1161.4 1488.9 1159.6 1489.8 1161.6 1490.7 1160.8 1491.6 1167.7 1492.5 1165.2 1493.4 1168.4 1494.3 1166.1 1495.2 1164.1 1496.1 1160.2 1497.0 1155.9 1497.9 1156.8 1498.8 1156.1 1499.7 1156.4 1500.6 1154.5 1501.5 1149.5 1502.4 1147.4 1503.3 1139.6 1504.2 1136.8 1505.1 1137.8 1506.0 1135.0 1506.9 1145.5 1507.8 1152.5 1508.7 1151.9 1509.6 1150.5 1510.5 1143.7 1511.4 1154.4" fill="none" stroke="#7f86fb" stroke-width="4.6" stroke-linejoin="round" stroke-linecap="round" opacity="0.88"/>
</g>
<path d="M1374.3 1274.2 1377.6 1271.1 1381.0 1267.9 1384.4 1264.5 1387.8 1261.0 1391.1 1257.4 1394.5 1253.5 1397.9 1249.5 1401.3 1245.3 1404.6 1241.0 1408.0 1236.4 1411.4 1231.6 1414.8 1226.6 1418.2 1221.4 1421.5 1216.0 1424.9 1210.3 1428.3 1204.3 1431.7 1198.1 1435.0 1191.6 1438.4 1184.8 1441.8 1177.7 1445.2 1170.2 1448.6 1162.5 1451.9 1154.4 1455.3 1145.9 1458.7 1137.0 1462.1 1127.8 1465.4 1118.1 1468.8 1108.0 1472.2 1097.4 1475.6 1086.4 1478.9 1074.9 1482.3 1062.8 1485.7 1050.2 1489.1 1037.0 1492.5 1023.2 1495.8 1008.8 1499.2 993.8 1502.6 978.1 1506.0 961.7" fill="none" stroke="#000" stroke-width="7.5"/>
<path d="M1372.6 1297.4 1376.2 1295.9 1379.7 1294.4 1383.2 1292.8 1386.8 1291.1 1390.3 1289.4 1393.8 1287.6 1397.4 1285.8 1400.9 1283.9 1404.4 1282.0 1408.0 1279.9 1411.5 1277.9 1415.1 1275.7 1418.6 1273.5 1422.1 1271.2 1425.7 1268.8 1429.2 1266.4 1432.7 1263.8 1436.3 1261.2 1439.8 1258.5 1443.3 1255.7 1446.9 1252.8 1450.4 1249.8 1453.9 1246.7 1457.5 1243.5 1461.0 1240.2 1464.5 1236.8 1468.1 1233.3 1471.6 1229.6 1475.1 1225.9 1478.7 1222.0 1482.2 1217.9 1485.7 1213.8 1489.3 1209.5 1492.8 1205.1 1496.3 1200.5 1499.9 1195.7 1503.4 1190.8 1507.0 1185.8 1510.5 1180.5" fill="none" stroke="#0a28f0" stroke-width="7.5"/>
<rect x="930.8" y="909.8" width="580.9000000000001" height="432.5" fill="none" stroke="#222" stroke-width="1.4"/>
<path d="M920 1342.3H930.8M920 1255.8H930.8M920 1169.3H930.8M920 1082.8H930.8M920 996.3H930.8M920 909.8H930.8M966.7 1342.3V1337.8M994.8 1342.3V1337.8M1017.7 1342.3V1337.8M1037.1 1342.3V1337.8M1053.9 1342.3V1337.8M1068.7 1342.3V1337.8M1082.0 1342.3V1331.8M1169.2 1342.3V1337.8M1220.3 1342.3V1337.8M1256.5 1342.3V1337.8M1284.6 1342.3V1337.8M1307.5 1342.3V1337.8M1326.9 1342.3V1337.8M1343.7 1342.3V1337.8M1358.5 1342.3V1337.8M1371.8 1342.3V1331.8M1459.0 1342.3V1337.8" stroke="#222" stroke-width="1.2" fill="none"/>
<g class="t" text-anchor="end">
<text x="910" y="1352.1">0</text>
<text x="910" y="1265.6">1</text>
<text x="910" y="1179.1">2</text>
<text x="910" y="1092.6">3</text>
<text x="910" y="1006.1">4</text>
<text x="910" y="919.6">5</text>
</g>
<text class="t" x="1063" y="1381">10<tspan dy="-13" font-size="19">3</tspan></text>
<text class="t" x="1353" y="1381">10<tspan dy="-13" font-size="19">4</tspan></text>
<text class="t" x="1198" y="1420"><tspan class="i">t</tspan> (s)</text>
<text class="t" transform="translate(868.2,1236.4) rotate(-90)"><tspan x="0" y="0" class="i">R</tspan><tspan x="17.4" y="8.6" font-size="19">g</tspan><tspan x="28.2" y="-12.4" font-size="19">2</tspan><tspan x="45" y="0">(µm</tspan><tspan dy="-11.5" font-size="19">2</tspan><tspan dy="11.5">)</tspan><tspan x="116.6" y="0">×</tspan><tspan x="140.4" y="0">1,000</tspan></text>
<g fill="none" stroke-width="2.6" stroke-linecap="round">
<path d="M968.5 1091.5C1010 1090 1035 1072 1062 1047L1151 970" stroke="#000"/>
<path d="M976 1092C1020 1090 1040 1068 1064 1049C1095 1027 1140 1015 1190 1009.5" stroke="#e8281e"/>
<path d="M968.5 1091C1010 1089 1035 1071 1060 1048C1078 1036 1085 1005 1100.5 945.5" stroke="#1e3cd8"/>
</g>
<path d="M968 1093V942M967 1093H1194" stroke="#000" stroke-width="2" fill="none"/>
<path d="M968 930.5L961 946L968 942.5L975 946Z M1206.5 1093L1191 1086L1194.5 1093L1191 1100Z" fill="#000"/>
<g font-size="21">
<text x="1037" y="936.5" style="fill:#1e3cd8;stroke:#1e3cd8"><tspan style="font-family:'Liberation Serif',serif;font-style:italic;fill:#1e3cd8;stroke:#1e3cd8">γ</tspan><tspan style="fill:#1e3cd8;stroke:#1e3cd8"> &gt; 1; directed spreading</tspan></text>
<text x="1107.5" y="963"><tspan style="font-family:'Liberation Serif',serif;font-style:italic">γ</tspan> = 1; random spreading</text>
<text x="1083.5" y="1068" style="fill:#e8281e;stroke:#e8281e"><tspan style="font-family:'Liberation Serif',serif;font-style:italic;fill:#e8281e;stroke:#e8281e">γ</tspan><tspan style="fill:#e8281e;stroke:#e8281e"> &lt; 1; restricted spreading</tspan></text>
<text y="985.4"><tspan x="1011.6" class="i">R</tspan><tspan x="1024.9" dy="6" font-size="15">g</tspan><tspan x="1032.4" dy="-14" font-size="15">2</tspan><tspan x="1042.0" dy="8">≅</tspan><tspan x="1065.9" class="i">t</tspan><tspan x="1073.4" dy="-8" font-size="15" style="font-family:'Liberation Serif',serif;font-style:italic">γ</tspan></text>
<text y="1013.3"><tspan x="935.5" class="i">R</tspan><tspan x="949.2" dy="6" font-size="15">g</tspan><tspan x="956.9" dy="-14" font-size="15">2</tspan></text>
<text x="1048" y="1116">Time (<tspan class="i">t</tspan>)</text>
</g>
<g>
<text class="t" y="1165.6" style="fill:#868686;stroke:#868686"><tspan x="939.2" class="i">R</tspan><tspan x="957.3" dy="7.6" font-size="19">g</tspan><tspan x="967.2" dy="-17.4" font-size="19">2</tspan><tspan x="983.6" dy="9.8" letter-spacing="-1.2">(<tspan class="i">t</tspan>)</tspan><tspan x="1017.8">ex vivo</tspan></text>
<text class="t" y="1165.6" style="fill:#000000;stroke:#000000"><tspan x="1123.4" class="i">R</tspan><tspan x="1141.4" dy="7.6" font-size="19">g</tspan><tspan x="1151.3" dy="-17.4" font-size="19">2</tspan><tspan x="1167.8" dy="9.8" letter-spacing="-1.2">(<tspan class="i">t</tspan>)</tspan><tspan x="1199.4">~</tspan><tspan x="1222.7">0.0002</tspan><tspan x="1312.8">×</tspan><tspan x="1337.6" class="i">t</tspan><tspan x="1346.9" dy="-11.5" font-size="19" letter-spacing="-1.2">1.7</tspan></text>
<text class="t" y="1215.3" style="fill:#8a94fa;stroke:#8a94fa"><tspan x="939.2" class="i">R</tspan><tspan x="957.3" dy="7.6" font-size="19">g</tspan><tspan x="967.2" dy="-17.4" font-size="19">2</tspan><tspan x="983.6" dy="9.8" letter-spacing="-1.2">(<tspan class="i">t</tspan>)</tspan><tspan x="1017.8">in silico</tspan></text>
<text class="t" y="1215.3" style="fill:#0a30ee;stroke:#0a30ee"><tspan x="1123.4" class="i">R</tspan><tspan x="1141.4" dy="7.6" font-size="19">g</tspan><tspan x="1151.3" dy="-17.4" font-size="19">2</tspan><tspan x="1167.8" dy="9.8" letter-spacing="-1.2">(<tspan class="i">t</tspan>)</tspan><tspan x="1199.4">~</tspan><tspan x="1222.7">0.03</tspan><tspan x="1283.3">×</tspan><tspan x="1308.1" class="i">t</tspan><tspan x="1317.4" dy="-11.5" font-size="19" letter-spacing="-1.2">1.2</tspan></text>
</g>
</g>

</svg>
</body></html>
